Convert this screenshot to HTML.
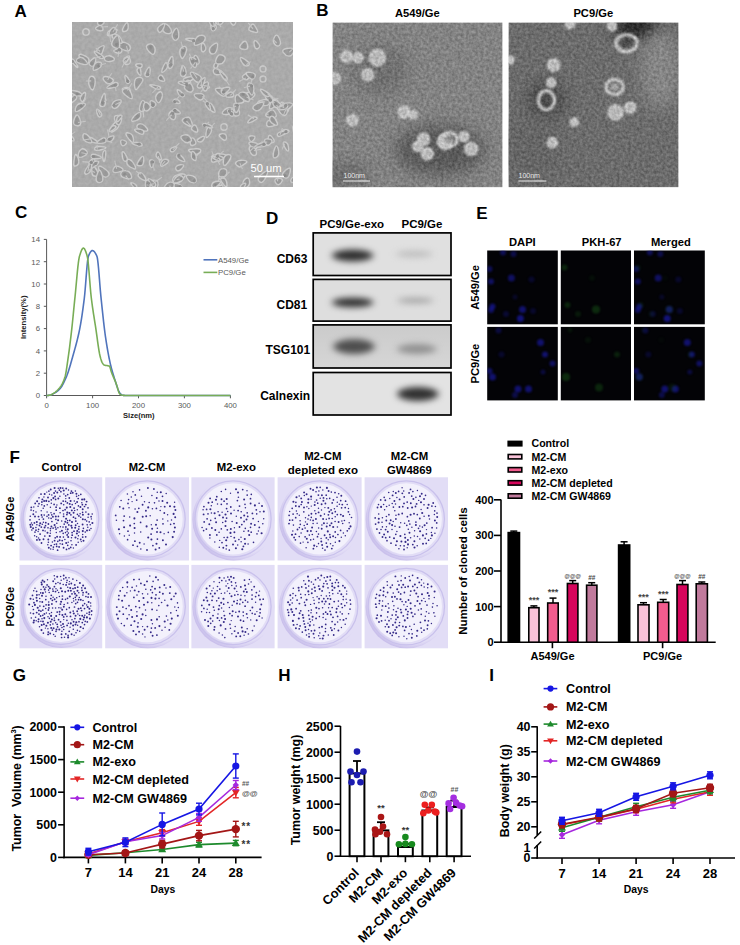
<!DOCTYPE html>
<html><head><meta charset="utf-8"><style>
html,body{margin:0;padding:0;background:#fff;width:740px;height:945px;overflow:hidden}
svg text{font-family:"Liberation Sans",sans-serif}
</style></head><body>
<svg width="740" height="945" viewBox="0 0 740 945" style="display:block">
<rect width="740" height="945" fill="#fff"/>
<text x="14.6" y="16.7" font-size="17" font-weight="bold" text-anchor="start" fill="#000" >A</text>
<text x="316.2" y="16.4" font-size="17" font-weight="bold" text-anchor="start" fill="#000" >B</text>
<text x="15.0" y="218.2" font-size="17" font-weight="bold" text-anchor="start" fill="#000" >C</text>
<text x="266.0" y="224.3" font-size="17" font-weight="bold" text-anchor="start" fill="#000" >D</text>
<text x="476.2" y="218.6" font-size="17" font-weight="bold" text-anchor="start" fill="#000" >E</text>
<text x="9.6" y="463.0" font-size="17" font-weight="bold" text-anchor="start" fill="#000" >F</text>
<text x="12.8" y="681.2" font-size="17" font-weight="bold" text-anchor="start" fill="#000" >G</text>
<text x="278.2" y="680.8" font-size="17" font-weight="bold" text-anchor="start" fill="#000" >H</text>
<text x="489.2" y="680.8" font-size="17" font-weight="bold" text-anchor="start" fill="#000" >I</text>
<defs><filter id="bl2" x="-50%" y="-50%" width="200%" height="200%" color-interpolation-filters="sRGB"><feGaussianBlur stdDeviation="1.2"/></filter><filter id="bl3" x="-50%" y="-50%" width="200%" height="200%" color-interpolation-filters="sRGB"><feGaussianBlur stdDeviation="1.1"/></filter><filter id="bl4" x="-50%" y="-50%" width="200%" height="200%" color-interpolation-filters="sRGB"><feGaussianBlur stdDeviation="4"/></filter><filter id="bl8" x="-50%" y="-50%" width="200%" height="200%" color-interpolation-filters="sRGB"><feGaussianBlur stdDeviation="8"/></filter><filter id="bl1" x="-10%" y="-10%" width="120%" height="120%" color-interpolation-filters="sRGB"><feGaussianBlur stdDeviation="0.9"/></filter><filter id="tex" x="0" y="0" width="100%" height="100%" color-interpolation-filters="sRGB"><feTurbulence type="fractalNoise" baseFrequency="0.35" numOctaves="2" seed="3" result="n"/><feColorMatrix in="n" type="matrix" values="1 0 0 0 0  1 0 0 0 0  1 0 0 0 0  0 0 0 0 1" result="g"/><feComposite in="SourceGraphic" in2="g" operator="arithmetic" k1="0" k2="1" k3="0.26" k4="-0.13"/></filter><filter id="texA" x="0" y="0" width="100%" height="100%" color-interpolation-filters="sRGB"><feGaussianBlur in="SourceGraphic" stdDeviation="0.6" result="b"/><feTurbulence type="fractalNoise" baseFrequency="0.3" numOctaves="2" seed="9" result="n"/><feColorMatrix in="n" type="matrix" values="1 0 0 0 0  1 0 0 0 0  1 0 0 0 0  0 0 0 0 1" result="g"/><feComposite in="b" in2="g" operator="arithmetic" k1="0" k2="1" k3="0.08" k4="-0.04"/></filter></defs>
<svg x="72" y="22" width="221" height="165" viewBox="0 0 221 165">
<g filter="url(#texA)">
<rect width="100%" height="100%" fill="#aaaaaa"/>
<g fill="#9a9a9a" stroke="#cacaca" stroke-width="1.4" stroke-linejoin="round">
<path d="M3.4,86.7 Q4.6,81.9 9.3,81.3 Q14.1,80.7 13.4,82.9 Q12.7,85.0 7.5,88.3 Q2.3,91.6 3.4,86.7Z"/>
<path d="M93.5,1.8 Q97.1,3.0 98.8,7.0 Q100.4,10.9 97.8,11.4 Q95.2,12.0 92.7,10.6 Q90.2,9.2 90.1,4.9 Q89.9,0.7 93.5,1.8Z"/>
<path d="M88.9,141.3 Q90.4,136.2 94.8,137.5 Q99.2,138.8 93.3,142.6 Q87.3,146.4 88.9,141.3Z"/>
<path d="M146.4,66.3 Q152.2,66.5 153.9,66.1 Q155.6,65.8 155.2,69.4 Q154.8,73.0 152.6,74.0 Q150.5,75.1 145.6,70.6 Q140.6,66.0 146.4,66.3Z"/>
<path d="M126.4,71.4 Q133.7,71.4 131.5,75.8 Q129.2,80.2 124.2,75.9 Q119.2,71.5 126.4,71.4Z"/>
<path d="M181.9,117.7 Q179.0,121.5 177.3,117.6 Q175.5,113.6 180.1,113.7 Q184.7,113.8 181.9,117.7Z"/>
<path d="M33.2,73.6 Q33.6,78.5 33.3,81.6 Q33.0,84.7 30.4,84.6 Q27.8,84.5 27.8,82.6 Q27.8,80.8 30.2,74.8 Q32.7,68.7 33.2,73.6Z"/>
<path d="M-1.8,77.5 Q2.1,71.0 4.2,73.9 Q6.3,76.8 0.3,80.4 Q-5.7,84.0 -1.8,77.5Z"/>
<path d="M82.2,63.1 Q89.9,64.6 88.2,66.6 Q86.5,68.5 80.5,65.0 Q74.5,61.5 82.2,63.1Z"/>
<path d="M142.3,2.1 Q146.3,5.2 142.8,7.9 Q139.3,10.5 138.9,4.8 Q138.4,-1.0 142.3,2.1Z"/>
<path d="M18.6,66.4 Q15.9,62.4 16.8,57.8 Q17.7,53.1 21.0,54.5 Q24.2,55.8 22.8,63.2 Q21.4,70.5 18.6,66.4Z"/>
<path d="M200.6,104.1 Q194.1,105.9 194.6,101.4 Q195.2,96.8 201.2,99.6 Q207.1,102.4 200.6,104.1Z"/>
<path d="M104.9,81.3 Q99.5,80.5 101.8,78.1 Q104.0,75.6 107.1,78.9 Q110.2,82.1 104.9,81.3Z"/>
<path d="M185.5,20.2 Q189.5,24.4 186.1,26.3 Q182.7,28.2 182.1,22.1 Q181.5,16.0 185.5,20.2Z"/>
<path d="M212.4,81.6 Q217.2,85.2 216.6,87.9 Q215.9,90.6 213.2,90.7 Q210.6,90.8 209.1,84.4 Q207.6,78.0 212.4,81.6Z"/>
<path d="M55.9,55.8 Q59.3,60.6 56.5,61.3 Q53.8,62.0 53.1,56.5 Q52.4,50.9 55.9,55.8Z"/>
<path d="M181.2,120.3 Q188.1,121.4 185.6,125.1 Q183.1,128.8 178.7,124.0 Q174.3,119.3 181.2,120.3Z"/>
<path d="M120.0,57.9 Q113.9,62.1 111.8,59.0 Q109.7,55.9 117.9,54.8 Q126.1,53.8 120.0,57.9Z"/>
<path d="M152.3,136.0 Q148.4,138.9 145.5,138.0 Q142.7,137.1 143.0,134.5 Q143.3,131.9 145.0,131.6 Q146.7,131.4 151.5,132.3 Q156.3,133.1 152.3,136.0Z"/>
<path d="M167.2,73.0 Q171.4,74.3 171.9,77.4 Q172.4,80.5 169.4,81.0 Q166.5,81.5 164.9,81.4 Q163.4,81.4 163.2,76.6 Q163.1,71.8 167.2,73.0Z"/>
<path d="M213.1,125.8 Q209.4,119.5 212.9,120.0 Q216.4,120.5 216.6,126.4 Q216.8,132.2 213.1,125.8Z"/>
<path d="M117.1,16.2 Q124.0,16.2 124.0,18.5 Q124.0,20.9 117.2,18.6 Q110.3,16.3 117.1,16.2Z"/>
<path d="M52.8,65.6 Q58.0,64.5 58.1,68.4 Q58.3,72.3 52.9,69.5 Q47.6,66.7 52.8,65.6Z"/>
<path d="M126.3,131.3 Q124.0,135.9 121.9,133.7 Q119.8,131.5 124.2,129.1 Q128.5,126.7 126.3,131.3Z"/>
<path d="M125.4,35.0 Q127.7,38.7 127.2,40.8 Q126.7,42.8 123.2,42.2 Q119.8,41.6 121.4,36.4 Q123.0,31.2 125.4,35.0Z"/>
<path d="M11.9,33.3 Q17.4,35.6 17.0,38.8 Q16.6,42.0 14.9,41.6 Q13.2,41.3 10.4,39.1 Q7.6,37.0 7.0,34.0 Q6.5,31.0 11.9,33.3Z"/>
<path d="M139.4,88.9 Q133.7,84.8 136.2,81.9 Q138.7,78.9 141.9,85.9 Q145.2,93.0 139.4,88.9Z"/>
<path d="M23.5,39.4 Q22.2,45.6 18.6,43.7 Q14.9,41.8 19.9,37.5 Q24.8,33.3 23.5,39.4Z"/>
<path d="M172.9,37.3 Q179.8,41.8 176.1,43.5 Q172.4,45.3 169.2,39.1 Q166.1,32.9 172.9,37.3Z"/>
<path d="M132.0,116.9 Q130.1,120.9 126.6,119.6 Q123.0,118.2 128.4,115.5 Q133.8,112.8 132.0,116.9Z"/>
<path d="M2.3,42.8 Q-3.1,37.3 -0.6,37.0 Q1.8,36.7 4.8,42.5 Q7.7,48.3 2.3,42.8Z"/>
<path d="M159.5,87.0 Q165.8,86.0 166.9,88.3 Q168.0,90.6 167.5,92.4 Q167.0,94.3 163.7,94.0 Q160.4,93.7 156.9,90.8 Q153.3,87.9 159.5,87.0Z"/>
<path d="M111.7,155.8 Q107.7,159.9 105.6,161.7 Q103.5,163.5 101.5,160.5 Q99.5,157.5 102.0,154.9 Q104.5,152.2 110.1,152.0 Q115.6,151.7 111.7,155.8Z"/>
<path d="M89.6,59.0 Q84.7,57.5 86.9,54.3 Q89.0,51.1 91.7,55.8 Q94.4,60.4 89.6,59.0Z"/>
<path d="M47.2,20.8 Q52.5,19.4 55.8,21.7 Q59.1,24.1 58.4,26.7 Q57.7,29.3 55.2,29.0 Q52.6,28.7 47.2,25.5 Q41.9,22.2 47.2,20.8Z"/>
<path d="M62.5,63.4 Q62.0,56.9 64.9,55.8 Q67.8,54.6 69.8,56.0 Q71.9,57.5 70.1,60.1 Q68.2,62.8 65.6,66.4 Q62.9,69.9 62.5,63.4Z"/>
<path d="M47.9,82.0 Q44.4,87.1 42.0,86.4 Q39.6,85.8 40.3,82.3 Q41.0,78.9 46.2,77.9 Q51.4,77.0 47.9,82.0Z"/>
<path d="M149.7,111.7 Q154.7,111.0 154.5,115.7 Q154.2,120.5 149.5,116.5 Q144.7,112.5 149.7,111.7Z"/>
<path d="M134.0,111.3 Q134.7,103.8 138.1,105.7 Q141.4,107.6 137.3,113.1 Q133.2,118.7 134.0,111.3Z"/>
<path d="M60.4,96.4 Q63.1,92.3 66.1,90.8 Q69.0,89.2 68.8,93.3 Q68.7,97.4 63.2,98.9 Q57.7,100.4 60.4,96.4Z"/>
<path d="M22.4,144.7 Q25.4,148.1 26.0,151.2 Q26.6,154.2 23.6,154.3 Q20.5,154.4 20.1,151.7 Q19.7,149.0 19.5,145.1 Q19.4,141.2 22.4,144.7Z"/>
<path d="M224.3,159.1 Q218.3,162.3 218.8,158.3 Q219.3,154.3 224.8,155.1 Q230.4,156.0 224.3,159.1Z"/>
<path d="M101.2,38.5 Q101.4,45.1 98.9,46.2 Q96.5,47.3 96.0,43.7 Q95.6,40.1 98.3,36.0 Q101.1,31.9 101.2,38.5Z"/>
<path d="M200.6,115.7 Q204.2,120.6 199.9,120.9 Q195.7,121.1 196.3,115.9 Q196.9,110.8 200.6,115.7Z"/>
<path d="M197.8,83.1 Q199.6,77.1 202.8,77.3 Q206.0,77.4 205.9,80.0 Q205.9,82.7 201.0,85.8 Q196.1,89.0 197.8,83.1Z"/>
<path d="M71.8,138.0 Q71.9,143.8 68.0,143.8 Q64.1,143.9 65.3,141.3 Q66.4,138.7 69.1,135.5 Q71.8,132.3 71.8,138.0Z"/>
<path d="M173.1,141.7 Q169.0,144.5 168.1,144.9 Q167.1,145.3 164.9,143.4 Q162.7,141.5 164.4,139.7 Q166.2,137.9 171.7,138.4 Q177.2,138.8 173.1,141.7Z"/>
<path d="M90.8,45.6 Q93.8,38.3 95.2,42.0 Q96.7,45.6 92.3,49.2 Q87.9,52.8 90.8,45.6Z"/>
<path d="M22.7,140.1 Q21.6,145.4 18.3,143.2 Q15.0,141.0 19.3,137.9 Q23.7,134.8 22.7,140.1Z"/>
<path d="M122.8,117.8 Q125.6,122.3 121.4,123.3 Q117.2,124.4 118.5,118.9 Q119.9,113.4 122.8,117.8Z"/>
<path d="M146.1,43.0 Q144.4,48.4 142.4,45.8 Q140.5,43.3 144.1,40.4 Q147.8,37.5 146.1,43.0Z"/>
<path d="M207.6,86.3 Q201.9,85.9 201.0,82.0 Q200.1,78.2 202.5,78.4 Q204.9,78.5 209.1,82.7 Q213.3,86.8 207.6,86.3Z"/>
<path d="M32.0,25.4 Q31.0,28.6 30.1,30.9 Q29.1,33.3 26.7,32.6 Q24.4,32.0 24.6,29.3 Q24.9,26.6 28.9,24.5 Q32.9,22.3 32.0,25.4Z"/>
<path d="M114.4,67.6 Q112.9,63.7 113.9,60.4 Q114.8,57.1 117.4,58.7 Q119.9,60.2 117.8,65.9 Q115.8,71.5 114.4,67.6Z"/>
<path d="M99.0,96.6 Q95.3,93.8 97.8,90.5 Q100.3,87.2 102.3,89.3 Q104.3,91.4 103.5,95.4 Q102.7,99.4 99.0,96.6Z"/>
<path d="M147.6,52.6 Q141.0,53.4 141.3,48.9 Q141.5,44.4 147.8,48.1 Q154.1,51.9 147.6,52.6Z"/>
<path d="M134.4,66.4 Q128.2,66.6 128.2,62.3 Q128.1,58.1 134.3,62.1 Q140.5,66.1 134.4,66.4Z"/>
<path d="M194.4,77.2 Q202.0,75.4 200.8,78.5 Q199.6,81.6 193.2,80.3 Q186.7,78.9 194.4,77.2Z"/>
<path d="M155.5,69.5 Q150.3,74.4 149.3,70.2 Q148.3,66.0 154.5,65.3 Q160.6,64.6 155.5,69.5Z"/>
<path d="M151.7,155.9 Q148.8,161.3 147.1,156.6 Q145.3,151.9 149.9,151.2 Q154.5,150.5 151.7,155.9Z"/>
<path d="M162.0,86.6 Q160.7,79.7 164.8,81.5 Q169.0,83.3 166.2,88.4 Q163.4,93.5 162.0,86.6Z"/>
<path d="M146.4,162.1 Q146.2,155.5 148.9,157.4 Q151.7,159.2 149.1,163.9 Q146.5,168.7 146.4,162.1Z"/>
<path d="M25.4,4.5 Q29.6,1.8 30.8,5.8 Q32.0,9.8 26.6,8.5 Q21.1,7.2 25.4,4.5Z"/>
<path d="M73.7,165.0 Q72.4,157.2 76.3,158.0 Q80.2,158.8 77.6,165.8 Q74.9,172.7 73.7,165.0Z"/>
<path d="M179.5,124.6 Q183.1,125.0 184.2,129.0 Q185.2,133.1 182.5,133.5 Q179.7,134.0 177.8,129.0 Q175.9,124.1 179.5,124.6Z"/>
<path d="M66.2,41.8 Q70.9,41.2 70.0,44.2 Q69.1,47.1 65.3,44.8 Q61.6,42.4 66.2,41.8Z"/>
<path d="M102.6,157.1 Q106.1,152.1 109.0,153.6 Q111.9,155.1 110.9,157.4 Q109.9,159.7 104.5,161.0 Q99.1,162.2 102.6,157.1Z"/>
<path d="M56.2,3.4 Q56.8,8.9 52.7,9.5 Q48.6,10.0 52.1,4.0 Q55.7,-2.1 56.2,3.4Z"/>
<path d="M155.4,71.7 Q159.4,68.2 161.3,71.7 Q163.1,75.3 157.2,75.3 Q151.3,75.3 155.4,71.7Z"/>
<path d="M18.5,144.3 Q21.9,138.5 25.5,139.1 Q29.1,139.6 22.1,144.9 Q15.1,150.1 18.5,144.3Z"/>
<path d="M147.4,171.5 Q142.0,168.3 144.5,166.5 Q147.1,164.7 150.0,169.7 Q152.9,174.6 147.4,171.5Z"/>
<path d="M170.4,163.0 Q171.1,158.0 174.0,156.4 Q176.9,154.8 177.6,159.1 Q178.3,163.4 174.0,165.7 Q169.7,167.9 170.4,163.0Z"/>
<path d="M136.3,105.4 Q129.0,104.0 131.3,102.1 Q133.6,100.2 138.7,103.5 Q143.7,106.8 136.3,105.4Z"/>
<path d="M122.3,109.5 Q117.5,107.3 120.5,104.2 Q123.5,101.1 125.3,106.4 Q127.1,111.6 122.3,109.5Z"/>
<path d="M197.5,73.1 Q202.6,76.6 198.5,78.2 Q194.4,79.7 193.3,74.7 Q192.3,69.6 197.5,73.1Z"/>
<path d="M81.4,79.4 Q85.7,81.6 82.6,84.3 Q79.5,87.1 78.3,82.1 Q77.1,77.1 81.4,79.4Z"/>
<path d="M214.7,26.5 Q220.5,25.7 221.4,26.8 Q222.3,27.9 221.2,30.8 Q220.1,33.8 217.2,34.1 Q214.3,34.5 211.6,30.9 Q209.0,27.3 214.7,26.5Z"/>
<path d="M31.0,136.9 Q29.8,130.7 32.2,128.7 Q34.7,126.7 33.4,134.9 Q32.2,143.1 31.0,136.9Z"/>
<path d="M110.1,59.2 Q117.8,58.6 117.9,62.2 Q118.0,65.8 110.2,62.8 Q102.4,59.8 110.1,59.2Z"/>
<path d="M5.9,135.6 Q8.2,141.4 5.0,143.3 Q1.9,145.1 1.8,142.4 Q1.6,139.6 2.6,134.7 Q3.6,129.8 5.9,135.6Z"/>
<path d="M181.0,75.2 Q176.3,79.8 173.3,79.2 Q170.3,78.6 171.4,74.3 Q172.6,70.1 179.1,70.3 Q185.7,70.6 181.0,75.2Z"/>
<path d="M106.3,9.2 Q107.6,14.8 105.4,17.3 Q103.2,19.8 101.1,16.6 Q98.9,13.5 102.0,8.6 Q105.0,3.6 106.3,9.2Z"/>
<path d="M81.2,163.9 Q76.9,159.4 81.7,158.3 Q86.4,157.2 86.0,162.8 Q85.5,168.4 81.2,163.9Z"/>
<path d="M30.8,145.5 Q35.6,148.7 36.8,150.8 Q37.9,152.8 35.5,154.5 Q33.0,156.1 30.2,153.6 Q27.4,151.1 26.7,146.7 Q26.0,142.4 30.8,145.5Z"/>
<path d="M112.8,45.6 Q114.9,49.8 113.6,52.6 Q112.3,55.4 110.3,54.5 Q108.2,53.6 108.4,51.6 Q108.6,49.6 109.6,45.5 Q110.6,41.3 112.8,45.6Z"/>
<path d="M146.7,151.1 Q147.4,146.7 151.2,146.6 Q155.1,146.4 154.9,150.4 Q154.8,154.3 150.4,154.9 Q146.1,155.5 146.7,151.1Z"/>
<path d="M86.7,136.9 Q82.7,134.1 84.7,131.1 Q86.6,128.1 88.7,133.9 Q90.8,139.7 86.7,136.9Z"/>
<path d="M171.8,77.9 Q165.4,73.8 167.0,71.6 Q168.6,69.4 172.5,70.4 Q176.3,71.4 177.3,76.7 Q178.2,82.1 171.8,77.9Z"/>
<path d="M151.5,-0.5 Q149.4,3.9 145.7,2.2 Q141.9,0.5 147.8,-2.2 Q153.6,-4.8 151.5,-0.5Z"/>
<path d="M29.8,151.9 Q32.1,158.6 29.4,160.0 Q26.7,161.4 24.9,159.5 Q23.1,157.6 25.4,151.4 Q27.6,145.1 29.8,151.9Z"/>
<path d="M55.9,156.7 Q50.8,155.8 49.4,154.1 Q48.0,152.4 49.2,150.4 Q50.5,148.4 54.0,148.7 Q57.5,148.9 59.3,153.2 Q61.0,157.6 55.9,156.7Z"/>
<path d="M114.0,63.0 Q117.4,60.6 118.7,61.7 Q120.0,62.8 120.9,65.5 Q121.8,68.1 119.8,69.6 Q117.7,71.1 114.2,68.3 Q110.7,65.4 114.0,63.0Z"/>
<path d="M12.5,133.8 Q7.9,136.2 6.8,135.0 Q5.7,133.8 6.6,131.0 Q7.4,128.3 9.5,127.1 Q11.6,126.0 14.4,128.7 Q17.2,131.4 12.5,133.8Z"/>
<path d="M118.3,153.4 Q124.1,154.5 124.3,157.7 Q124.6,160.9 121.1,160.8 Q117.7,160.7 115.1,156.5 Q112.5,152.3 118.3,153.4Z"/>
<path d="M149.6,137.7 Q145.2,139.3 142.2,140.0 Q139.1,140.6 139.4,137.5 Q139.7,134.3 140.8,133.3 Q142.0,132.3 148.0,134.1 Q154.0,136.0 149.6,137.7Z"/>
<path d="M66.7,52.0 Q63.7,48.5 66.0,46.3 Q68.2,44.0 68.9,49.7 Q69.7,55.5 66.7,52.0Z"/>
<path d="M146.7,162.7 Q142.6,166.5 140.8,165.6 Q139.0,164.6 140.0,162.2 Q141.0,159.7 145.9,159.3 Q150.8,158.8 146.7,162.7Z"/>
<path d="M38.6,108.1 Q38.9,104.8 41.5,102.0 Q44.1,99.2 45.8,100.5 Q47.5,101.8 46.8,104.1 Q46.1,106.5 42.2,108.9 Q38.4,111.4 38.6,108.1Z"/>
<path d="M207.3,16.3 Q209.7,22.0 207.4,23.5 Q205.1,25.1 202.7,22.2 Q200.3,19.3 202.5,15.0 Q204.8,10.7 207.3,16.3Z"/>
<path d="M32.3,-3.0 Q32.9,2.1 29.3,2.9 Q25.7,3.7 25.5,1.0 Q25.4,-1.7 28.5,-5.0 Q31.7,-8.2 32.3,-3.0Z"/>
<path d="M209.2,160.6 Q206.0,164.8 203.6,160.6 Q201.2,156.5 206.7,156.4 Q212.3,156.3 209.2,160.6Z"/>
<path d="M45.5,19.9 Q39.9,16.5 40.0,13.6 Q40.0,10.8 44.2,12.3 Q48.4,13.8 49.8,18.6 Q51.1,23.4 45.5,19.9Z"/>
<path d="M150.6,90.0 Q152.1,87.2 155.4,86.0 Q158.7,84.7 160.9,87.1 Q163.0,89.6 161.4,90.9 Q159.8,92.2 154.5,92.5 Q149.1,92.8 150.6,90.0Z"/>
<path d="M172.7,164.4 Q170.1,168.9 168.8,166.1 Q167.4,163.4 171.4,161.7 Q175.3,160.0 172.7,164.4Z"/>
<path d="M19.7,143.9 Q19.4,149.4 16.7,151.2 Q13.9,153.0 12.9,151.5 Q11.9,150.0 16.0,144.2 Q20.1,138.4 19.7,143.9Z"/>
<path d="M78.2,48.4 Q78.2,54.9 74.7,54.7 Q71.1,54.5 74.6,48.2 Q78.1,41.9 78.2,48.4Z"/>
<path d="M73.0,80.5 Q75.5,85.2 73.0,87.7 Q70.5,90.3 68.4,89.1 Q66.4,88.0 68.5,81.8 Q70.6,75.7 73.0,80.5Z"/>
<path d="M38.0,106.8 Q40.6,102.4 43.1,103.8 Q45.7,105.2 40.5,108.3 Q35.3,111.3 38.0,106.8Z"/>
<path d="M37.8,63.0 Q44.5,58.6 46.1,61.6 Q47.6,64.7 39.4,66.0 Q31.1,67.4 37.8,63.0Z"/>
<path d="M72.0,109.1 Q66.7,108.6 65.4,106.4 Q64.1,104.3 65.8,102.7 Q67.6,101.1 70.3,102.1 Q72.9,103.1 75.1,106.4 Q77.3,109.6 72.0,109.1Z"/>
<path d="M151.1,162.0 Q146.6,156.2 150.4,156.0 Q154.2,155.7 154.9,161.7 Q155.6,167.7 151.1,162.0Z"/>
<path d="M105.3,161.6 Q111.5,163.0 108.9,166.7 Q106.4,170.3 102.8,165.3 Q99.1,160.2 105.3,161.6Z"/>
<path d="M218.6,85.3 Q213.8,89.5 210.7,88.8 Q207.6,88.1 209.3,84.4 Q210.9,80.7 217.1,80.9 Q223.4,81.0 218.6,85.3Z"/>
<path d="M210.8,93.0 Q208.2,91.5 206.9,88.7 Q205.7,85.9 208.1,83.9 Q210.5,81.9 213.5,85.0 Q216.4,88.1 214.9,91.3 Q213.4,94.6 210.8,93.0Z"/>
<path d="M177.8,71.0 Q174.8,66.2 175.5,63.0 Q176.2,59.8 179.4,61.5 Q182.5,63.2 181.6,69.5 Q180.8,75.8 177.8,71.0Z"/>
<path d="M55.4,74.7 Q49.2,70.2 50.7,68.1 Q52.2,66.1 55.2,66.6 Q58.2,67.2 59.9,73.2 Q61.6,79.3 55.4,74.7Z"/>
<path d="M138.3,2.0 Q135.5,-2.7 139.4,-3.9 Q143.4,-5.0 143.9,-3.2 Q144.3,-1.3 142.7,2.7 Q141.1,6.6 138.3,2.0Z"/>
<path d="M208.5,110.5 Q211.5,106.3 215.6,108.0 Q219.6,109.7 212.6,112.2 Q205.5,114.6 208.5,110.5Z"/>
<path d="M177.3,54.3 Q175.7,59.5 171.9,57.0 Q168.1,54.6 173.5,51.9 Q178.9,49.2 177.3,54.3Z"/>
<path d="M206.3,127.1 Q208.1,134.1 203.8,135.6 Q199.5,137.1 202.0,128.6 Q204.4,120.1 206.3,127.1Z"/>
<path d="M200.7,95.5 Q195.8,95.5 194.3,94.2 Q192.7,93.0 195.7,90.3 Q198.7,87.7 200.4,87.9 Q202.2,88.0 203.9,91.8 Q205.6,95.6 200.7,95.5Z"/>
<path d="M13.1,74.8 Q11.4,81.7 9.1,78.6 Q6.7,75.4 10.8,71.7 Q14.8,68.0 13.1,74.8Z"/>
<path d="M103.8,127.2 Q100.8,131.3 98.7,129.2 Q96.6,127.0 101.7,125.1 Q106.8,123.1 103.8,127.2Z"/>
<path d="M47.1,16.7 Q48.1,22.4 47.5,24.9 Q47.0,27.3 43.5,26.0 Q40.0,24.6 39.7,22.4 Q39.3,20.3 42.7,15.6 Q46.1,11.0 47.1,16.7Z"/>
<path d="M-2.2,117.8 Q-8.2,115.1 -4.8,113.4 Q-1.4,111.7 1.3,116.1 Q3.9,120.6 -2.2,117.8Z"/>
<path d="M52.2,118.3 Q56.6,119.9 53.2,122.7 Q49.8,125.5 48.8,121.1 Q47.8,116.7 52.2,118.3Z"/>
<path d="M185.9,122.3 Q192.3,119.1 194.2,121.8 Q196.1,124.4 187.9,125.0 Q179.6,125.6 185.9,122.3Z"/>
<path d="M159.3,1.5 Q156.9,-1.9 158.2,-4.5 Q159.4,-7.1 161.0,-7.0 Q162.6,-6.9 163.7,-4.2 Q164.7,-1.5 163.2,1.7 Q161.6,4.9 159.3,1.5Z"/>
<path d="M142.0,134.5 Q147.5,135.4 148.1,138.0 Q148.7,140.7 142.6,137.1 Q136.6,133.6 142.0,134.5Z"/>
<path d="M63.1,120.5 Q69.5,119.9 70.1,122.5 Q70.8,125.2 63.7,123.1 Q56.7,121.0 63.1,120.5Z"/>
<path d="M187.2,79.3 Q191.4,77.0 195.0,77.9 Q198.5,78.7 197.1,81.7 Q195.6,84.6 189.3,83.1 Q182.9,81.5 187.2,79.3Z"/>
<path d="M132.6,22.7 Q135.3,27.4 132.1,29.3 Q128.9,31.2 129.3,24.7 Q129.8,18.1 132.6,22.7Z"/>
<path d="M41.4,116.6 Q39.3,120.7 36.7,118.4 Q34.1,116.2 38.7,114.4 Q43.4,112.6 41.4,116.6Z"/>
<path d="M76.5,81.8 Q80.0,84.9 77.0,87.6 Q74.1,90.3 72.4,87.9 Q70.8,85.5 71.9,82.1 Q73.0,78.7 76.5,81.8Z"/>
<path d="M42.1,11.1 Q35.6,15.7 35.3,12.1 Q35.0,8.5 41.8,7.5 Q48.5,6.6 42.1,11.1Z"/>
<path d="M218.1,150.5 Q216.6,158.0 212.2,155.5 Q207.8,153.1 213.7,148.1 Q219.6,143.1 218.1,150.5Z"/>
<path d="M136.4,61.9 Q136.4,65.2 134.8,67.9 Q133.1,70.6 131.0,66.9 Q128.8,63.2 132.7,60.8 Q136.5,58.5 136.4,61.9Z"/>
<path d="M84.5,78.7 Q82.4,74.4 85.5,71.4 Q88.6,68.4 90.0,71.0 Q91.3,73.6 88.9,78.3 Q86.5,83.0 84.5,78.7Z"/>
<path d="M149.9,166.7 Q146.6,171.3 143.0,168.4 Q139.3,165.5 146.3,163.7 Q153.2,162.0 149.9,166.7Z"/>
<path d="M39.2,39.3 Q34.1,40.4 32.7,37.9 Q31.4,35.4 34.9,34.2 Q38.5,33.0 41.4,35.6 Q44.3,38.2 39.2,39.3Z"/>
<path d="M26.8,31.1 Q33.7,35.3 30.6,36.4 Q27.5,37.5 23.7,32.2 Q19.9,26.9 26.8,31.1Z"/>
<path d="M158.5,88.9 Q163.3,91.8 161.2,93.8 Q159.1,95.7 156.4,90.9 Q153.8,86.1 158.5,88.9Z"/>
<path d="M70.0,157.3 Q64.2,154.1 66.9,151.5 Q69.7,148.9 72.8,154.7 Q75.8,160.5 70.0,157.3Z"/>
<path d="M61.2,161.1 Q65.5,163.0 65.0,166.1 Q64.4,169.2 60.7,164.2 Q56.9,159.2 61.2,161.1Z"/>
<path d="M178.3,50.4 Q185.2,51.4 182.6,55.4 Q180.1,59.3 175.8,54.3 Q171.5,49.4 178.3,50.4Z"/>
<path d="M43.4,99.6 Q40.3,93.1 45.9,93.5 Q51.5,93.8 49.0,99.9 Q46.6,106.0 43.4,99.6Z"/>
<path d="M36.8,11.2 Q37.9,7.9 40.1,6.2 Q42.3,4.5 43.5,6.7 Q44.8,8.9 44.5,10.1 Q44.2,11.4 39.9,13.0 Q35.7,14.5 36.8,11.2Z"/>
<path d="M135.9,86.3 Q131.8,81.5 133.9,80.0 Q136.0,78.5 138.0,84.8 Q139.9,91.2 135.9,86.3Z"/>
<path d="M176.9,98.4 Q180.5,93.9 184.0,95.2 Q187.4,96.4 180.4,99.6 Q173.3,102.8 176.9,98.4Z"/>
<path d="M109.9,146.4 Q105.7,150.9 104.0,147.4 Q102.4,143.8 108.2,142.8 Q114.1,141.8 109.9,146.4Z"/>
<path d="M44.6,27.1 Q50.3,25.2 50.0,28.7 Q49.6,32.3 44.2,30.6 Q38.9,29.0 44.6,27.1Z"/>
<path d="M53.3,132.2 Q57.0,138.0 53.9,139.1 Q50.8,140.2 50.2,133.3 Q49.6,126.4 53.3,132.2Z"/>
<path d="M22.6,120.8 Q16.3,119.4 16.8,116.6 Q17.2,113.7 23.1,117.9 Q28.9,122.1 22.6,120.8Z"/>
<path d="M111.4,113.1 Q115.9,111.8 117.9,114.8 Q120.0,117.8 119.3,118.7 Q118.6,119.6 116.2,120.5 Q113.8,121.4 110.3,117.9 Q106.9,114.4 111.4,113.1Z"/>
<path d="M198.9,121.4 Q195.6,125.3 193.2,120.9 Q190.8,116.4 196.5,117.0 Q202.1,117.5 198.9,121.4Z"/>
<path d="M59.1,119.5 Q56.3,116.8 54.9,114.5 Q53.5,112.1 54.1,111.2 Q54.8,110.2 58.0,111.3 Q61.1,112.4 61.5,117.3 Q61.9,122.2 59.1,119.5Z"/>
<path d="M105.1,92.0 Q99.4,92.0 100.8,88.5 Q102.3,85.0 106.6,88.6 Q110.9,92.1 105.1,92.0Z"/>
<path d="M168.8,22.5 Q171.4,19.1 173.1,19.3 Q174.7,19.5 175.5,22.9 Q176.3,26.4 174.6,27.2 Q172.9,27.9 169.6,27.0 Q166.2,26.0 168.8,22.5Z"/>
<path d="M193.4,69.1 Q200.6,73.5 196.7,74.3 Q192.8,75.2 189.5,70.0 Q186.2,64.8 193.4,69.1Z"/>
<path d="M109.3,69.9 Q114.4,74.5 110.8,74.7 Q107.1,74.9 105.6,70.1 Q104.1,65.4 109.3,69.9Z"/>
<path d="M207.3,-5.0 Q206.6,0.2 203.9,-0.4 Q201.2,-1.0 204.6,-5.6 Q208.0,-10.3 207.3,-5.0Z"/>
<path d="M190.3,84.9 Q187.0,90.2 183.2,88.4 Q179.5,86.6 181.9,83.9 Q184.3,81.1 189.0,80.4 Q193.6,79.6 190.3,84.9Z"/>
<path d="M109.2,35.6 Q107.7,32.9 107.8,29.7 Q107.9,26.5 110.3,25.1 Q112.6,23.6 114.0,25.3 Q115.5,27.1 113.1,32.6 Q110.7,38.2 109.2,35.6Z"/>
<path d="M221.0,108.5 Q219.9,103.0 223.6,103.2 Q227.4,103.4 224.7,108.7 Q222.0,113.9 221.0,108.5Z"/>
<path d="M182.4,10.2 Q178.0,8.8 177.1,7.9 Q176.2,7.0 178.4,4.0 Q180.6,1.1 182.0,2.7 Q183.4,4.2 185.1,7.8 Q186.8,11.5 182.4,10.2Z"/>
<path d="M109.4,138.8 Q103.4,136.3 104.8,133.1 Q106.1,129.8 110.8,135.5 Q115.4,141.2 109.4,138.8Z"/>
<path d="M40.2,60.5 Q37.1,63.3 33.6,60.2 Q30.1,57.0 31.5,55.3 Q33.0,53.5 38.1,55.6 Q43.3,57.8 40.2,60.5Z"/>
<path d="M91.6,6.1 Q88.4,12.7 86.2,9.2 Q84.1,5.7 89.5,2.6 Q94.8,-0.5 91.6,6.1Z"/>
<path d="M27.6,117.9 Q33.0,114.2 34.1,117.7 Q35.2,121.2 28.6,121.4 Q22.1,121.5 27.6,117.9Z"/>
<path d="M61.6,146.7 Q58.2,145.5 56.2,143.6 Q54.3,141.7 54.8,139.2 Q55.3,136.6 57.8,137.6 Q60.3,138.5 62.7,143.2 Q65.0,147.9 61.6,146.7Z"/>
<path d="M79.8,158.0 Q85.3,161.7 83.2,164.2 Q81.1,166.7 77.7,160.5 Q74.3,154.2 79.8,158.0Z"/>
<path d="M208.8,84.3 Q215.8,80.8 215.6,84.2 Q215.4,87.7 208.6,87.7 Q201.7,87.8 208.8,84.3Z"/>
<path d="M49.6,149.2 Q46.1,150.7 43.4,150.6 Q40.8,150.5 40.9,148.5 Q41.0,146.6 42.6,144.9 Q44.1,143.2 48.6,145.4 Q53.0,147.6 49.6,149.2Z"/>
<path d="M66.0,107.0 Q72.4,107.3 71.9,110.7 Q71.4,114.2 65.5,110.5 Q59.5,106.8 66.0,107.0Z"/>
<path d="M21.4,45.0 Q22.9,40.0 26.4,40.0 Q29.9,39.9 29.5,42.7 Q29.2,45.5 24.5,47.7 Q19.9,50.0 21.4,45.0Z"/>
<path d="M145.5,25.0 Q144.5,31.2 141.5,31.9 Q138.5,32.5 137.5,29.3 Q136.5,26.0 141.5,22.4 Q146.6,18.8 145.5,25.0Z"/>
<path d="M150.7,50.9 Q156.1,55.2 155.0,58.0 Q154.0,60.8 149.6,53.7 Q145.2,46.7 150.7,50.9Z"/>
<path d="M12.6,42.6 Q7.4,42.0 5.4,40.3 Q3.3,38.6 6.4,36.1 Q9.4,33.6 13.6,38.4 Q17.8,43.2 12.6,42.6Z"/>
<path d="M30.0,127.5 Q22.3,129.6 22.6,126.7 Q22.9,123.9 30.3,124.7 Q37.6,125.5 30.0,127.5Z"/>
<path d="M151.3,140.5 Q151.2,134.6 154.2,133.1 Q157.2,131.6 158.6,133.4 Q160.1,135.1 155.8,140.7 Q151.5,146.4 151.3,140.5Z"/>
<path d="M121.2,44.4 Q118.0,41.5 117.5,38.0 Q116.9,34.5 121.0,35.6 Q125.2,36.7 124.8,42.0 Q124.4,47.3 121.2,44.4Z"/>
<path d="M144.0,37.4 Q145.6,33.4 147.3,32.9 Q149.0,32.4 151.7,33.9 Q154.3,35.4 152.4,38.9 Q150.4,42.5 146.4,42.0 Q142.4,41.5 144.0,37.4Z"/>
<path d="M27.4,88.7 Q31.4,92.5 28.9,94.5 Q26.5,96.5 24.9,90.7 Q23.4,85.0 27.4,88.7Z"/>
<path d="M77.9,30.6 Q74.3,26.8 74.4,24.7 Q74.6,22.6 77.5,22.0 Q80.4,21.4 82.1,24.2 Q83.9,26.9 82.7,30.6 Q81.5,34.3 77.9,30.6Z"/>
<path d="M56.4,37.1 Q53.4,42.3 51.7,40.2 Q49.9,38.0 54.7,34.9 Q59.4,31.9 56.4,37.1Z"/>
<path d="M195.0,152.6 Q192.6,158.9 190.3,160.1 Q188.0,161.2 186.4,158.4 Q184.9,155.7 191.2,151.0 Q197.5,146.2 195.0,152.6Z"/>
<path d="M77.9,142.8 Q76.4,137.3 79.9,137.9 Q83.3,138.5 81.4,143.3 Q79.4,148.2 77.9,142.8Z"/>
<path d="M16.5,120.6 Q11.3,119.1 10.9,115.2 Q10.6,111.3 13.1,111.7 Q15.7,112.1 18.7,117.0 Q21.7,122.0 16.5,120.6Z"/>
<path d="M91.7,166.1 Q94.7,160.4 98.2,160.1 Q101.8,159.9 102.2,162.2 Q102.5,164.6 100.1,166.9 Q97.8,169.1 93.3,170.4 Q88.8,171.8 91.7,166.1Z"/>
<path d="M2.2,68.7 Q8.0,69.5 9.4,71.9 Q10.7,74.2 6.4,73.9 Q2.2,73.6 -0.8,70.8 Q-3.7,68.0 2.2,68.7Z"/>
<path d="M123.4,51.3 Q129.5,54.1 129.4,56.0 Q129.2,58.0 127.3,59.7 Q125.4,61.3 122.6,58.6 Q119.8,55.8 118.5,52.2 Q117.3,48.5 123.4,51.3Z"/>
<path d="M44.7,97.9 Q45.0,93.7 48.4,93.2 Q51.8,92.7 48.1,97.4 Q44.5,102.1 44.7,97.9Z"/>
<path d="M116.3,103.5 Q111.0,100.9 110.4,99.1 Q109.8,97.3 112.5,96.1 Q115.1,94.9 116.7,95.3 Q118.4,95.8 120.0,101.0 Q121.6,106.1 116.3,103.5Z"/>
<path d="M118.4,127.3 Q122.3,126.6 125.7,126.8 Q129.1,127.0 128.8,128.8 Q128.5,130.6 125.9,131.8 Q123.3,133.0 118.9,130.5 Q114.5,128.0 118.4,127.3Z"/>
<path d="M7.8,96.8 Q10.2,103.2 6.5,103.7 Q2.8,104.1 1.8,101.8 Q0.9,99.5 3.2,95.0 Q5.5,90.4 7.8,96.8Z"/>
<path d="M121.9,130.1 Q124.2,132.2 124.3,135.9 Q124.5,139.5 121.8,138.1 Q119.1,136.7 119.3,132.3 Q119.5,127.9 121.9,130.1Z"/>
<path d="M212.5,111.9 Q206.2,116.2 205.4,113.3 Q204.6,110.4 211.7,109.0 Q218.8,107.7 212.5,111.9Z"/>
<path d="M122.7,19.1 Q124.8,13.2 129.3,13.2 Q133.9,13.3 133.2,16.8 Q132.4,20.4 126.5,22.7 Q120.7,25.0 122.7,19.1Z"/>
<path d="M25.8,136.7 Q18.8,137.4 19.1,134.1 Q19.5,130.8 26.1,133.4 Q32.7,135.9 25.8,136.7Z"/>
<path d="M201.8,102.3 Q197.1,99.8 197.7,96.4 Q198.3,93.0 201.1,94.7 Q203.8,96.5 205.2,100.7 Q206.5,104.8 201.8,102.3Z"/>
<path d="M132.4,59.6 Q129.9,67.1 126.5,65.8 Q123.1,64.6 129.0,58.3 Q134.9,52.1 132.4,59.6Z"/>
</g>
<g fill="none" stroke="#c4c4c4" stroke-width="1.1">
<path d="M9.3,83.8 l4.5,-7.4"/>
<path d="M93.2,139.0 l-3.4,4.1"/>
<path d="M130.1,74.4 l6.9,6.4"/>
<path d="M30.8,80.6 l4.2,-2.9"/>
<path d="M85.9,65.0 l-5.5,5.9"/>
<path d="M19.2,58.9 l-5.3,0.1"/>
<path d="M102.7,79.7 l5.2,-6.3"/>
<path d="M213.8,87.4 l-2.8,6.8"/>
<path d="M183.4,124.0 l-5.9,5.7"/>
<path d="M145.5,134.3 l6.0,-5.1"/>
<path d="M212.8,121.4 l-2.8,6.1"/>
<path d="M55.4,68.5 l4.6,-7.4"/>
<path d="M124.3,39.0 l-5.7,7.7"/>
<path d="M138.9,84.6 l-8.1,-5.9"/>
<path d="M174.4,42.8 l4.2,-3.2"/>
<path d="M0.2,39.3 l-4.8,1.7"/>
<path d="M104.7,157.7 l5.9,-1.7"/>
<path d="M54.5,24.2 l2.0,7.5"/>
<path d="M42.0,83.3 l7.5,-3.6"/>
<path d="M137.3,107.2 l5.4,-6.3"/>
<path d="M23.1,150.6 l-6.6,-3.0"/>
<path d="M98.9,42.5 l-4.6,-2.2"/>
<path d="M201.6,80.1 l6.8,7.3"/>
<path d="M167.9,141.2 l2.6,5.9"/>
<path d="M19.3,140.4 l-8.7,-0.8"/>
<path d="M143.6,45.5 l7.2,5.3"/>
<path d="M28.0,29.3 l-4.2,-3.2"/>
<path d="M100.7,91.4 l-6.5,7.2"/>
<path d="M129.5,63.1 l-0.5,-5.8"/>
<path d="M150.5,68.7 l-3.5,-4.1"/>
<path d="M165.3,83.3 l-5.8,3.3"/>
<path d="M28.5,5.0 l7.6,-0.4"/>
<path d="M181.9,128.6 l7.3,-1.3"/>
<path d="M109.0,156.6 l0.1,-5.1"/>
<path d="M158.5,73.3 l5.5,-5.8"/>
<path d="M145.6,167.4 l-6.6,6.4"/>
<path d="M132.5,103.3 l4.7,-3.4"/>
<path d="M198.2,75.7 l8.2,0.9"/>
<path d="M217.4,30.1 l4.0,-3.8"/>
<path d="M114.6,62.4 l-4.8,-2.2"/>
<path d="M174.6,75.3 l7.1,2.6"/>
<path d="M82.5,160.5 l7.5,-5.4"/>
<path d="M111.9,51.2 l-1.9,-8.3"/>
<path d="M86.3,134.0 l1.6,7.1"/>
<path d="M145.6,-0.1 l3.4,5.0"/>
<path d="M52.9,152.3 l4.1,5.9"/>
<path d="M9.4,130.7 l5.6,1.1"/>
<path d="M142.9,136.7 l-3.1,-7.4"/>
<path d="M143.0,163.0 l0.6,6.1"/>
<path d="M204.6,21.0 l-3.6,-3.8"/>
<path d="M205.4,159.4 l1.3,-8.9"/>
<path d="M157.4,89.1 l4.8,-3.3"/>
<path d="M15.7,149.7 l1.6,-7.5"/>
<path d="M70.8,86.3 l1.0,9.1"/>
<path d="M43.3,63.2 l0.7,5.8"/>
<path d="M150.6,156.9 l6.9,-7.1"/>
<path d="M211.4,85.8 l-1.0,-5.5"/>
<path d="M179.5,63.8 l-7.7,1.9"/>
<path d="M141.0,-1.4 l2.0,9.0"/>
<path d="M173.8,55.9 l-6.7,3.5"/>
<path d="M198.1,92.0 l-5.0,0.4"/>
<path d="M100.9,127.9 l6.4,-6.8"/>
<path d="M-2.9,114.3 l6.2,-4.7"/>
<path d="M191.9,122.2 l-5.7,3.4"/>
<path d="M145.0,137.4 l2.9,5.4"/>
<path d="M193.2,80.1 l-6.8,-1.9"/>
<path d="M37.4,117.3 l-1.8,-9.8"/>
<path d="M37.4,10.5 l1.3,9.3"/>
<path d="M133.0,64.7 l-4.5,5.6"/>
<path d="M144.1,166.5 l-3.0,7.6"/>
<path d="M28.7,34.3 l-5.4,1.9"/>
<path d="M68.8,152.2 l-4.8,-3.0"/>
<path d="M180.8,55.0 l-2.0,6.8"/>
<path d="M41.0,9.7 l4.7,-7.5"/>
<path d="M181.9,96.8 l-6.2,-4.0"/>
<path d="M47.2,27.6 l-1.3,7.5"/>
<path d="M18.1,116.9 l-7.4,1.3"/>
<path d="M195.1,120.1 l-6.2,-0.0"/>
<path d="M102.8,88.4 l-4.1,5.6"/>
<path d="M195.5,72.1 l5.0,2.3"/>
<path d="M204.5,-2.2 l-0.7,-6.6"/>
<path d="M111.6,28.5 l-2.6,-8.8"/>
<path d="M180.7,6.7 l-4.5,-5.8"/>
<path d="M35.7,58.0 l3.9,-6.7"/>
<path d="M31.7,118.1 l8.6,2.3"/>
<path d="M82.3,161.8 l-7.5,1.1"/>
<path d="M44.7,146.9 l-2.0,-8.2"/>
<path d="M26.3,43.8 l7.7,-2.4"/>
<path d="M152.7,56.4 l4.6,6.9"/>
<path d="M25.2,127.8 l-0.1,-5.0"/>
<path d="M120.6,39.2 l-3.2,-7.5"/>
<path d="M28.5,93.4 l-3.1,-6.3"/>
<path d="M53.6,38.6 l-3.6,7.0"/>
<path d="M80.6,139.8 l1.7,8.8"/>
<path d="M97.5,163.8 l4.3,6.5"/>
<path d="M125.0,56.2 l-3.7,-5.2"/>
<path d="M113.5,97.8 l6.3,7.2"/>
<path d="M6.0,100.5 l8.0,-1.2"/>
<path d="M207.9,112.8 l2.5,-6.8"/>
<path d="M21.3,134.5 l-1.2,7.5"/>
<path d="M128.1,63.1 l7.7,1.0"/>
</g>
<g fill="#8e8e8e">
<circle cx="9.3" cy="83.8" r="1.6"/>
<circle cx="151.8" cy="70.0" r="1.6"/>
<circle cx="30.8" cy="80.6" r="1.6"/>
<circle cx="141.3" cy="6.8" r="1.6"/>
<circle cx="102.7" cy="79.7" r="1.6"/>
<circle cx="55.8" cy="59.4" r="1.6"/>
<circle cx="145.5" cy="134.3" r="1.6"/>
<circle cx="121.6" cy="18.7" r="1.6"/>
<circle cx="124.3" cy="39.0" r="1.6"/>
<circle cx="20.0" cy="41.9" r="1.6"/>
<circle cx="0.2" cy="39.3" r="1.6"/>
<circle cx="88.7" cy="56.1" r="1.6"/>
<circle cx="42.0" cy="83.3" r="1.6"/>
<circle cx="65.7" cy="94.2" r="1.6"/>
<circle cx="98.9" cy="42.5" r="1.6"/>
<circle cx="68.4" cy="141.4" r="1.6"/>
<circle cx="19.3" cy="140.4" r="1.6"/>
<circle cx="203.5" cy="82.0" r="1.6"/>
<circle cx="100.7" cy="91.4" r="1.6"/>
<circle cx="198.4" cy="78.2" r="1.6"/>
<circle cx="165.3" cy="83.3" r="1.6"/>
<circle cx="76.5" cy="161.3" r="1.6"/>
<circle cx="109.0" cy="156.6" r="1.6"/>
<circle cx="23.7" cy="141.5" r="1.6"/>
<circle cx="132.5" cy="103.3" r="1.6"/>
<circle cx="80.9" cy="83.3" r="1.6"/>
<circle cx="114.6" cy="62.4" r="1.6"/>
<circle cx="104.4" cy="14.5" r="1.6"/>
<circle cx="111.9" cy="51.2" r="1.6"/>
<circle cx="171.1" cy="72.5" r="1.6"/>
<circle cx="52.9" cy="152.3" r="1.6"/>
<circle cx="122.2" cy="158.8" r="1.6"/>
<circle cx="143.0" cy="163.0" r="1.6"/>
<circle cx="28.5" cy="1.0" r="1.6"/>
<circle cx="157.4" cy="89.1" r="1.6"/>
<circle cx="75.8" cy="52.5" r="1.6"/>
<circle cx="43.3" cy="63.2" r="1.6"/>
<circle cx="108.2" cy="164.6" r="1.6"/>
<circle cx="179.5" cy="63.8" r="1.6"/>
<circle cx="214.0" cy="109.5" r="1.6"/>
<circle cx="198.1" cy="92.0" r="1.6"/>
<circle cx="44.6" cy="22.3" r="1.6"/>
<circle cx="191.9" cy="122.2" r="1.6"/>
<circle cx="67.2" cy="122.2" r="1.6"/>
<circle cx="37.4" cy="117.3" r="1.6"/>
<circle cx="212.9" cy="153.4" r="1.6"/>
<circle cx="144.1" cy="166.5" r="1.6"/>
<circle cx="159.4" cy="91.7" r="1.6"/>
<circle cx="180.8" cy="55.0" r="1.6"/>
<circle cx="135.4" cy="81.7" r="1.6"/>
<circle cx="47.2" cy="27.6" r="1.6"/>
<circle cx="115.7" cy="117.6" r="1.6"/>
<circle cx="102.8" cy="88.4" r="1.6"/>
<circle cx="110.4" cy="72.8" r="1.6"/>
<circle cx="111.6" cy="28.5" r="1.6"/>
<circle cx="106.9" cy="133.1" r="1.6"/>
<circle cx="31.7" cy="118.1" r="1.6"/>
<circle cx="213.8" cy="83.3" r="1.6"/>
<circle cx="26.3" cy="43.8" r="1.6"/>
<circle cx="6.8" cy="38.3" r="1.6"/>
<circle cx="120.6" cy="39.2" r="1.6"/>
<circle cx="79.1" cy="25.1" r="1.6"/>
<circle cx="80.6" cy="139.8" r="1.6"/>
<circle cx="5.1" cy="72.0" r="1.6"/>
<circle cx="113.5" cy="97.8" r="1.6"/>
<circle cx="121.7" cy="134.9" r="1.6"/>
<circle cx="21.3" cy="134.5" r="1.6"/>
</g>
<g fill="none" stroke="#c8c8c8" stroke-width="1.4">
<circle cx="14" cy="10" r="3.2"/>
<circle cx="55" cy="39" r="3.5"/>
<circle cx="191" cy="47" r="3"/>
<circle cx="191" cy="57" r="3"/>
<circle cx="152" cy="105" r="3.2"/>
</g></g>
</svg>
<text x="250.5" y="172.0" font-size="11.2" font-weight="normal" text-anchor="start" fill="#fff" >50 um</text>
<line x1="254.0" y1="176.5" x2="284.0" y2="176.5" stroke="#fff" stroke-width="1.6" />
<text x="395.0" y="16.5" font-size="11.2" font-weight="bold" text-anchor="start" fill="#000" >A549/Ge</text>
<text x="573.4" y="16.5" font-size="11.2" font-weight="bold" text-anchor="start" fill="#000" >PC9/Ge</text>
<svg x="332.5" y="22.5" width="170.0" height="164.8">
<g filter="url(#tex)">
<rect width="100%" height="100%" fill="#838383"/>
<ellipse cx="107.5" cy="127.5" rx="45" ry="25" fill="#5a5a5a" filter="url(#bl8)"/>
<ellipse cx="47.5" cy="47.5" rx="28" ry="24" fill="#707070" filter="url(#bl8)"/>
<ellipse cx="12.5" cy="152.5" rx="25" ry="12" fill="#6a6a6a" filter="url(#bl8)"/>
<g filter="url(#bl3)">
<circle cx="14.0" cy="34.0" r="5" fill="#b6b6b6" stroke="#cacaca" stroke-width="2.4"/>
<circle cx="25.5" cy="35.2" r="4.5" fill="#b6b6b6" stroke="#cacaca" stroke-width="2.4"/>
<circle cx="44.9" cy="35.2" r="7.5" fill="#b6b6b6" stroke="#cacaca" stroke-width="2.4"/>
<circle cx="35.2" cy="52.2" r="5.5" fill="#b6b6b6" stroke="#cacaca" stroke-width="2.4"/>
<circle cx="2.4" cy="55.9" r="5" fill="#b6b6b6" stroke="#cacaca" stroke-width="2.4"/>
<circle cx="71.7" cy="89.5" r="5.5" fill="#b6b6b6" stroke="#cacaca" stroke-width="2.4"/>
<circle cx="80.9" cy="92.4" r="3.5" fill="#b6b6b6" stroke="#cacaca" stroke-width="2.4"/>
<circle cx="19.9" cy="97.7" r="5" fill="#b6b6b6" stroke="#cacaca" stroke-width="2.4"/>
<circle cx="91.1" cy="116.7" r="5.5" fill="#b6b6b6" stroke="#cacaca" stroke-width="2.4"/>
<circle cx="131.3" cy="114.3" r="4.5" fill="#b6b6b6" stroke="#cacaca" stroke-width="2.4"/>
<circle cx="138.6" cy="126.4" r="6" fill="#b6b6b6" stroke="#cacaca" stroke-width="2.4"/>
<circle cx="94.8" cy="131.3" r="5.5" fill="#b6b6b6" stroke="#cacaca" stroke-width="2.4"/>
<circle cx="85.1" cy="124.0" r="4.5" fill="#b6b6b6" stroke="#cacaca" stroke-width="2.4"/>
<circle cx="112.5" cy="119.5" r="7" fill="#b6b6b6" stroke="#cacaca" stroke-width="2.4"/>
</g><g filter="url(#bl2)">
<ellipse cx="116.7" cy="117.0" rx="8" ry="7" fill="none" stroke="#c8c8c8" stroke-width="3.4"/>
<ellipse cx="116.7" cy="117.0" rx="4.0" ry="3.1" fill="#8a8a8a"/>
</g></g>
</svg>
<svg x="508.5" y="22.5" width="170.0" height="164.8">
<g filter="url(#tex)">
<rect width="100%" height="100%" fill="#6c6c6c"/>
<ellipse cx="127.5" cy="3.5" rx="22" ry="12" fill="#1e1e1e" filter="url(#bl8)"/>
<ellipse cx="37.5" cy="77.5" rx="18" ry="18" fill="#484848" filter="url(#bl8)"/>
<ellipse cx="21.5" cy="127.5" rx="30" ry="30" fill="#666" filter="url(#bl8)"/>
<ellipse cx="151.5" cy="47.5" rx="20" ry="40" fill="#868686" filter="url(#bl8)"/>
<g filter="url(#bl3)">
<circle cx="45.1" cy="42.5" r="5.5" fill="#b6b6b6" stroke="#cacaca" stroke-width="2.4"/>
<circle cx="42.7" cy="60.3" r="4" fill="#b6b6b6" stroke="#cacaca" stroke-width="2.4"/>
<circle cx="107.2" cy="89.9" r="7" fill="#b6b6b6" stroke="#cacaca" stroke-width="2.4"/>
<circle cx="121.8" cy="85.1" r="5" fill="#b6b6b6" stroke="#cacaca" stroke-width="2.4"/>
<circle cx="43.9" cy="120.3" r="4.5" fill="#b6b6b6" stroke="#cacaca" stroke-width="2.4"/>
<circle cx="65.8" cy="99.7" r="3.5" fill="#b6b6b6" stroke="#cacaca" stroke-width="2.4"/>
<circle cx="1.5" cy="37.5" r="3.5" fill="#b6b6b6" stroke="#cacaca" stroke-width="2.4"/>
<circle cx="61.5" cy="1.5" r="4" fill="#b6b6b6" stroke="#cacaca" stroke-width="2.4"/>
<circle cx="103.5" cy="3.5" r="4" fill="#b6b6b6" stroke="#cacaca" stroke-width="2.4"/>
</g><g filter="url(#bl2)">
<ellipse cx="118.1" cy="20.6" rx="10.5" ry="8.5" fill="none" stroke="#c8c8c8" stroke-width="3.4"/>
<ellipse cx="118.1" cy="20.6" rx="5.2" ry="3.8" fill="#4a4a4a"/>
<ellipse cx="37.9" cy="77.8" rx="8" ry="9.5" fill="none" stroke="#c8c8c8" stroke-width="3.4"/>
<ellipse cx="37.9" cy="77.8" rx="4.0" ry="4.3" fill="#4a4a4a"/>
<ellipse cx="106.0" cy="64.4" rx="8.5" ry="7.5" fill="none" stroke="#c8c8c8" stroke-width="3.4"/>
<ellipse cx="106.0" cy="64.4" rx="4.2" ry="3.4" fill="#a8a8a8"/>
</g></g>
</svg>
<text x="343.5" y="178.3" font-size="7" font-weight="normal" text-anchor="start" fill="#e8e8e8" >100nm</text>
<line x1="343.0" y1="181.0" x2="370.0" y2="181.0" stroke="#eee" stroke-width="1" />
<text x="518.5" y="178.3" font-size="7" font-weight="normal" text-anchor="start" fill="#e8e8e8" >100nm</text>
<line x1="518.4" y1="181.0" x2="546.4" y2="181.0" stroke="#eee" stroke-width="1" />
<line x1="46.6" y1="239.4" x2="46.6" y2="395.5" stroke="#595959" stroke-width="1" />
<line x1="46.6" y1="395.5" x2="230.4" y2="395.5" stroke="#595959" stroke-width="1" />
<line x1="43.8" y1="395.5" x2="46.6" y2="395.5" stroke="#595959" stroke-width="1" />
<text x="40.0" y="398.3" font-size="7.8" font-weight="normal" text-anchor="end" fill="#595959" >0</text>
<line x1="43.8" y1="373.2" x2="46.6" y2="373.2" stroke="#595959" stroke-width="1" />
<text x="40.0" y="376.0" font-size="7.8" font-weight="normal" text-anchor="end" fill="#595959" >2</text>
<line x1="43.8" y1="350.9" x2="46.6" y2="350.9" stroke="#595959" stroke-width="1" />
<text x="40.0" y="353.7" font-size="7.8" font-weight="normal" text-anchor="end" fill="#595959" >4</text>
<line x1="43.8" y1="328.6" x2="46.6" y2="328.6" stroke="#595959" stroke-width="1" />
<text x="40.0" y="331.4" font-size="7.8" font-weight="normal" text-anchor="end" fill="#595959" >6</text>
<line x1="43.8" y1="306.3" x2="46.6" y2="306.3" stroke="#595959" stroke-width="1" />
<text x="40.0" y="309.1" font-size="7.8" font-weight="normal" text-anchor="end" fill="#595959" >8</text>
<line x1="43.8" y1="284.0" x2="46.6" y2="284.0" stroke="#595959" stroke-width="1" />
<text x="40.0" y="286.8" font-size="7.8" font-weight="normal" text-anchor="end" fill="#595959" >10</text>
<line x1="43.8" y1="261.7" x2="46.6" y2="261.7" stroke="#595959" stroke-width="1" />
<text x="40.0" y="264.5" font-size="7.8" font-weight="normal" text-anchor="end" fill="#595959" >12</text>
<line x1="43.8" y1="239.4" x2="46.6" y2="239.4" stroke="#595959" stroke-width="1" />
<text x="40.0" y="242.2" font-size="7.8" font-weight="normal" text-anchor="end" fill="#595959" >14</text>
<line x1="46.6" y1="395.5" x2="46.6" y2="398.3" stroke="#595959" stroke-width="1" />
<text x="46.6" y="408.3" font-size="7.8" font-weight="normal" text-anchor="middle" fill="#595959" >0</text>
<line x1="92.6" y1="395.5" x2="92.6" y2="398.3" stroke="#595959" stroke-width="1" />
<text x="92.6" y="408.3" font-size="7.8" font-weight="normal" text-anchor="middle" fill="#595959" >100</text>
<line x1="138.5" y1="395.5" x2="138.5" y2="398.3" stroke="#595959" stroke-width="1" />
<text x="138.5" y="408.3" font-size="7.8" font-weight="normal" text-anchor="middle" fill="#595959" >200</text>
<line x1="184.4" y1="395.5" x2="184.4" y2="398.3" stroke="#595959" stroke-width="1" />
<text x="184.4" y="408.3" font-size="7.8" font-weight="normal" text-anchor="middle" fill="#595959" >300</text>
<line x1="230.4" y1="395.5" x2="230.4" y2="398.3" stroke="#595959" stroke-width="1" />
<text x="230.4" y="408.3" font-size="7.8" font-weight="normal" text-anchor="middle" fill="#595959" >400</text>
<text x="138.8" y="417.8" font-size="7.6" font-weight="bold" text-anchor="middle" fill="#222" >Size(nm)</text>
<text x="0" y="0" font-size="7.7" font-weight="bold" text-anchor="middle" fill="#222" transform="translate(23.8,317.3) rotate(-90)" dominant-baseline="central">Intensity(%)</text>
<path d="M46.60,395.50 L47.06,395.49 L47.52,395.47 L47.98,395.45 L48.44,395.41 L48.90,395.36 L49.36,395.30 L49.82,395.24 L50.28,395.17 L50.74,395.05 L51.20,394.88 L51.65,394.65 L52.11,394.40 L52.57,394.15 L53.03,393.90 L53.49,393.65 L53.95,393.40 L54.41,393.14 L54.87,392.87 L55.33,392.59 L55.79,392.29 L56.25,391.99 L56.71,391.66 L57.17,391.32 L57.63,390.96 L58.09,390.58 L58.55,390.18 L59.01,389.75 L59.47,389.30 L59.93,388.81 L60.39,388.25 L60.84,387.64 L61.30,386.96 L61.76,386.24 L62.22,385.47 L62.68,384.65 L63.14,383.79 L63.60,382.89 L64.06,381.95 L64.52,380.99 L64.98,380.00 L65.44,378.98 L65.90,377.94 L66.36,376.89 L66.82,375.77 L67.28,374.57 L67.74,373.29 L68.20,371.94 L68.66,370.54 L69.12,369.08 L69.58,367.57 L70.03,366.02 L70.49,364.44 L70.95,362.83 L71.41,361.21 L71.87,359.57 L72.33,357.93 L72.79,356.29 L73.25,354.66 L73.71,353.04 L74.17,351.42 L74.63,349.79 L75.09,348.15 L75.55,346.49 L76.01,344.80 L76.47,343.06 L76.93,341.28 L77.39,339.43 L77.85,337.53 L78.31,335.54 L78.77,333.48 L79.22,331.32 L79.68,329.06 L80.14,326.68 L80.60,324.13 L81.06,321.43 L81.52,318.57 L81.98,315.56 L82.44,312.41 L82.90,309.13 L83.36,305.71 L83.82,302.16 L84.28,298.50 L84.74,294.22 L85.20,289.05 L85.66,283.33 L86.12,277.40 L86.58,271.59 L87.04,266.23 L87.50,261.66 L87.96,258.22 L88.41,256.24 L88.87,255.13 L89.33,254.12 L89.79,253.20 L90.25,252.40 L90.71,251.73 L91.17,251.19 L91.63,250.81 L92.09,250.60 L92.55,250.56 L93.01,250.67 L93.47,250.91 L93.93,251.28 L94.39,251.77 L94.85,252.37 L95.31,253.07 L95.77,253.87 L96.23,254.76 L96.69,255.72 L97.15,256.96 L97.60,259.51 L98.06,263.30 L98.52,268.03 L98.98,273.41 L99.44,279.15 L99.90,284.97 L100.36,290.57 L100.82,295.67 L101.28,300.10 L101.74,304.46 L102.20,308.84 L102.66,313.18 L103.12,317.45 L103.58,321.61 L104.04,325.61 L104.50,329.43 L104.96,333.01 L105.42,336.31 L105.88,339.40 L106.34,342.37 L106.79,345.24 L107.25,348.00 L107.71,350.66 L108.17,353.20 L108.63,355.65 L109.09,357.98 L109.55,360.21 L110.01,362.34 L110.47,364.36 L110.93,366.28 L111.39,368.10 L111.85,369.83 L112.31,371.47 L112.77,373.05 L113.23,374.58 L113.69,376.05 L114.15,377.49 L114.61,378.91 L115.07,380.31 L115.53,381.75 L115.98,383.22 L116.44,384.69 L116.90,386.13 L117.36,387.52 L117.82,388.83 L118.28,390.03 L118.74,391.10 L119.20,392.00 L119.66,392.71 L120.12,393.32 L120.58,393.90 L121.04,394.42 L121.50,394.84 L121.96,395.14 L122.42,395.28 L122.88,395.32 L123.34,395.36 L123.80,395.39 L124.26,395.42 L124.72,395.45 L125.17,395.47 L125.63,395.48 L126.09,395.49 L126.55,395.50 L127.01,395.50 L127.47,395.50 L127.93,395.50 L128.39,395.50 L128.85,395.50 L230.40,395.50" fill="none" stroke="#5074bc" stroke-width="1.6" stroke-linejoin="round"/>
<path d="M46.60,395.50 L47.06,395.49 L47.52,395.47 L47.98,395.42 L48.44,395.37 L48.90,395.30 L49.36,395.23 L49.82,395.14 L50.28,395.05 L50.74,394.92 L51.20,394.73 L51.65,394.49 L52.11,394.22 L52.57,393.94 L53.03,393.66 L53.49,393.37 L53.95,393.06 L54.41,392.74 L54.87,392.41 L55.33,392.06 L55.79,391.69 L56.25,391.30 L56.71,390.90 L57.17,390.47 L57.63,390.02 L58.09,389.55 L58.55,389.05 L59.01,388.52 L59.47,387.97 L59.93,387.39 L60.39,386.78 L60.84,386.12 L61.30,385.40 L61.76,384.63 L62.22,383.79 L62.68,382.88 L63.14,381.89 L63.60,380.80 L64.06,379.63 L64.52,378.35 L64.98,376.96 L65.44,375.16 L65.90,372.86 L66.36,370.15 L66.82,367.15 L67.28,363.96 L67.74,360.68 L68.20,357.44 L68.66,354.23 L69.12,350.87 L69.58,347.36 L70.03,343.72 L70.49,339.96 L70.95,336.09 L71.41,332.13 L71.87,328.07 L72.33,323.76 L72.79,319.25 L73.25,314.60 L73.71,309.91 L74.17,305.25 L74.63,300.70 L75.09,296.26 L75.55,291.53 L76.01,286.55 L76.47,281.49 L76.93,276.48 L77.39,271.67 L77.85,267.20 L78.31,263.22 L78.77,259.89 L79.22,257.33 L79.68,255.63 L80.14,254.15 L80.60,252.76 L81.06,251.50 L81.52,250.38 L81.98,249.46 L82.44,248.74 L82.90,248.28 L83.36,248.10 L83.82,248.22 L84.28,248.64 L84.74,249.32 L85.20,250.24 L85.66,251.35 L86.12,252.64 L86.58,254.06 L87.04,255.60 L87.50,257.48 L87.96,260.64 L88.41,264.91 L88.87,269.98 L89.33,275.55 L89.79,281.32 L90.25,286.98 L90.71,292.23 L91.17,296.76 L91.63,300.51 L92.09,304.01 L92.55,307.32 L93.01,310.48 L93.47,313.52 L93.93,316.48 L94.39,319.40 L94.85,322.30 L95.31,325.22 L95.77,328.20 L96.23,331.28 L96.69,334.53 L97.15,337.90 L97.60,341.28 L98.06,344.59 L98.52,347.74 L98.98,350.65 L99.44,353.22 L99.90,355.36 L100.36,357.20 L100.82,358.89 L101.28,360.39 L101.74,361.64 L102.20,362.61 L102.66,363.38 L103.12,364.05 L103.58,364.58 L104.04,364.93 L104.50,365.12 L104.96,365.26 L105.42,365.37 L105.88,365.45 L106.34,365.51 L106.79,365.57 L107.25,365.63 L107.71,365.70 L108.17,365.79 L108.63,365.92 L109.09,366.09 L109.55,366.32 L110.01,367.20 L110.47,368.78 L110.93,370.55 L111.39,372.00 L111.85,373.23 L112.31,374.40 L112.77,375.52 L113.23,376.62 L113.69,377.69 L114.15,378.76 L114.61,379.83 L115.07,380.92 L115.53,382.03 L115.98,383.19 L116.44,384.41 L116.90,385.83 L117.36,387.40 L117.82,389.02 L118.28,390.57 L118.74,391.96 L119.20,393.10 L119.66,393.87 L120.12,394.26 L120.58,394.57 L121.04,394.84 L121.50,395.05 L121.96,395.20 L122.42,395.28 L122.88,395.32 L123.34,395.36 L123.80,395.39 L124.26,395.42 L124.72,395.44 L125.17,395.46 L125.63,395.48 L126.09,395.49 L126.55,395.50 L127.01,395.50 L127.47,395.50 L127.93,395.50 L128.39,395.50 L128.85,395.50 L230.40,395.50" fill="none" stroke="#78ad56" stroke-width="1.6" stroke-linejoin="round"/>
<line x1="203.5" y1="259.8" x2="217.3" y2="259.8" stroke="#5074bc" stroke-width="1.6" />
<line x1="203.5" y1="272.4" x2="217.3" y2="272.4" stroke="#78ad56" stroke-width="1.6" />
<text x="218.0" y="262.6" font-size="7.8" font-weight="normal" text-anchor="start" fill="#595959" >A549/Ge</text>
<text x="218.0" y="275.2" font-size="7.8" font-weight="normal" text-anchor="start" fill="#595959" >PC9/Ge</text>
<text x="319.5" y="228.2" font-size="11.5" font-weight="bold" text-anchor="start" fill="#000" >PC9/Ge-exo</text>
<text x="401.5" y="228.2" font-size="11.5" font-weight="bold" text-anchor="start" fill="#000" >PC9/Ge</text>
<defs><filter id="band" x="-50%" y="-100%" width="200%" height="300%" color-interpolation-filters="sRGB"><feGaussianBlur stdDeviation="3.6 3"/></filter><linearGradient id="tsg" x1="0" y1="0" x2="0" y2="1"><stop offset="0" stop-color="#cbcbcb"/><stop offset="1" stop-color="#d6d6d6"/></linearGradient></defs>
<rect x="313.2" y="232.9" width="137.8" height="42.6" fill="#e0e0e0" stroke="#000" stroke-width="1.7"/>
<text x="307.4" y="262.5" font-size="12" font-weight="bold" text-anchor="end" fill="#000" >CD63</text>
<rect x="313.2" y="279.4" width="137.8" height="41.7" fill="#dedede" stroke="#000" stroke-width="1.7"/>
<text x="307.2" y="309.0" font-size="12" font-weight="bold" text-anchor="end" fill="#000" >CD81</text>
<rect x="313.2" y="324.9" width="137.8" height="43.1" fill="url(#tsg)" stroke="#000" stroke-width="1.7"/>
<text x="310.2" y="354.3" font-size="12" font-weight="bold" text-anchor="end" fill="#000" >TSG101</text>
<rect x="313.2" y="372.5" width="137.8" height="42.5" fill="#e3e3e3" stroke="#000" stroke-width="1.7"/>
<text x="310.2" y="400.0" font-size="12" font-weight="bold" text-anchor="end" fill="#000" >Calnexin</text>
<g filter="url(#band)">
<ellipse cx="352.6" cy="255.5" rx="20.5" ry="6" fill="#2e2e2e"/>
<ellipse cx="414.3" cy="254" rx="18.5" ry="3.2" fill="#bdbdbd"/>
<ellipse cx="352.6" cy="302.5" rx="20.5" ry="4.8" fill="#303030"/>
<ellipse cx="415.3" cy="300.5" rx="18" ry="2.8" fill="#a2a2a2"/>
<ellipse cx="354" cy="346.5" rx="20.5" ry="7.4" fill="#4e4e4e"/>
<ellipse cx="416.8" cy="349" rx="19.5" ry="5" fill="#909090"/>
<ellipse cx="417.8" cy="394" rx="20.5" ry="7" fill="#303030"/>
</g>
<text x="509.0" y="245.7" font-size="11.2" font-weight="bold" text-anchor="start" fill="#000" >DAPI</text>
<text x="581.8" y="246.0" font-size="11.2" font-weight="bold" text-anchor="start" fill="#000" >PKH-67</text>
<text x="651.0" y="246.0" font-size="11.2" font-weight="bold" text-anchor="start" fill="#000" >Merged</text>
<text x="0" y="0" font-size="11.2" font-weight="bold" text-anchor="middle" fill="#000" transform="translate(475.2,287.4) rotate(-90)" dominant-baseline="central">A549/Ge</text>
<text x="0" y="0" font-size="11.2" font-weight="bold" text-anchor="middle" fill="#000" transform="translate(475.2,363.6) rotate(-90)" dominant-baseline="central">PC9/Ge</text>
<rect x="487.2" y="250.5" width="70.6" height="73.8" fill="#030306"/>
<svg x="487.2" y="250.5" width="70.6" height="73.8"><g filter="url(#bl2)">
<circle cx="15.8" cy="2.0" r="3" fill="#1a1aa8" opacity="0.49"/>
<circle cx="26.3" cy="3.5" r="3" fill="#1a1aa8" opacity="0.42"/>
<circle cx="2.3" cy="18.5" r="3" fill="#1a1aa8" opacity="0.49"/>
<circle cx="24.2" cy="27.5" r="3.5" fill="#1a1aa8" opacity="0.56"/>
<circle cx="3.8" cy="31.1" r="3" fill="#1a1aa8" opacity="0.56"/>
<circle cx="44.3" cy="29.0" r="3" fill="#1a1aa8" opacity="0.24"/>
<circle cx="5.3" cy="56.0" r="3" fill="#1a1aa8" opacity="0.63"/>
<circle cx="3.8" cy="59.5" r="3" fill="#1a1aa8" opacity="0.56"/>
<circle cx="35.3" cy="59.0" r="3.5" fill="#1a1aa8" opacity="0.63"/>
<circle cx="33.2" cy="68.0" r="3.5" fill="#1a1aa8" opacity="0.70"/>
<circle cx="18.8" cy="63.5" r="3" fill="#1a1aa8" opacity="0.28"/>
<circle cx="45.8" cy="60.5" r="3" fill="#1a1aa8" opacity="0.24"/>
<circle cx="27.8" cy="46.5" r="2.5" fill="#1a1aa8" opacity="0.21"/>
</g></svg>
<rect x="560.8" y="250.5" width="70.2" height="73.8" fill="#030306"/>
<svg x="560.8" y="250.5" width="70.2" height="73.8"><g filter="url(#bl2)">
<circle cx="3.7" cy="17.0" r="3" fill="#1c6a1c" opacity="0.33"/>
<circle cx="6.7" cy="54.5" r="3" fill="#1c6a1c" opacity="0.33"/>
<circle cx="35.2" cy="59.0" r="4" fill="#1c6a1c" opacity="0.39"/>
<circle cx="17.2" cy="63.5" r="3" fill="#1c6a1c" opacity="0.22"/>
<circle cx="31.2" cy="27.5" r="3" fill="#1c6a1c" opacity="0.11"/>
</g></svg>
<rect x="634" y="250.5" width="70.8" height="73.8" fill="#030306"/>
<svg x="634" y="250.5" width="70.8" height="73.8"><g filter="url(#bl2)">
<circle cx="15.8" cy="2.0" r="3" fill="#1a1aa8" opacity="0.49"/>
<circle cx="26.3" cy="3.5" r="3" fill="#1a1aa8" opacity="0.42"/>
<circle cx="2.3" cy="18.5" r="3" fill="#1a1aa8" opacity="0.49"/>
<circle cx="24.2" cy="27.5" r="3.5" fill="#1a1aa8" opacity="0.56"/>
<circle cx="3.8" cy="31.1" r="3" fill="#1a1aa8" opacity="0.56"/>
<circle cx="44.3" cy="29.0" r="3" fill="#1a1aa8" opacity="0.24"/>
<circle cx="5.3" cy="56.0" r="3" fill="#1a1aa8" opacity="0.63"/>
<circle cx="3.8" cy="59.5" r="3" fill="#1a1aa8" opacity="0.56"/>
<circle cx="35.3" cy="59.0" r="3.5" fill="#1a1aa8" opacity="0.63"/>
<circle cx="33.2" cy="68.0" r="3.5" fill="#1a1aa8" opacity="0.70"/>
<circle cx="18.8" cy="63.5" r="3" fill="#1a1aa8" opacity="0.28"/>
<circle cx="45.8" cy="60.5" r="3" fill="#1a1aa8" opacity="0.24"/>
<circle cx="27.8" cy="46.5" r="2.5" fill="#1a1aa8" opacity="0.21"/>
<circle cx="3.7" cy="17.0" r="3" fill="#1c6a1c" opacity="0.15"/>
<circle cx="6.7" cy="54.5" r="3" fill="#1c6a1c" opacity="0.15"/>
<circle cx="35.2" cy="59.0" r="4" fill="#1c6a1c" opacity="0.17"/>
<circle cx="17.2" cy="63.5" r="3" fill="#1c6a1c" opacity="0.10"/>
<circle cx="31.2" cy="27.5" r="3" fill="#1c6a1c" opacity="0.05"/>
</g></svg>
<rect x="487.2" y="326.9" width="70.6" height="73.5" fill="#030306"/>
<svg x="487.2" y="326.9" width="70.6" height="73.5"><g filter="url(#bl2)">
<circle cx="11.3" cy="3.6" r="3" fill="#1a1aa8" opacity="0.35"/>
<circle cx="53.3" cy="15.6" r="3.5" fill="#1a1aa8" opacity="0.63"/>
<circle cx="57.8" cy="27.6" r="3" fill="#1a1aa8" opacity="0.63"/>
<circle cx="65.3" cy="36.6" r="3" fill="#1a1aa8" opacity="0.56"/>
<circle cx="14.3" cy="27.6" r="3" fill="#1a1aa8" opacity="0.24"/>
<circle cx="5.3" cy="50.1" r="3.5" fill="#1a1aa8" opacity="0.63"/>
<circle cx="2.3" cy="44.1" r="3" fill="#1a1aa8" opacity="0.56"/>
<circle cx="30.8" cy="62.1" r="3.5" fill="#1a1aa8" opacity="0.63"/>
<circle cx="41.3" cy="62.1" r="3.5" fill="#1a1aa8" opacity="0.63"/>
<circle cx="27.8" cy="68.1" r="3" fill="#1a1aa8" opacity="0.42"/>
<circle cx="55.8" cy="45.1" r="2.5" fill="#1a1aa8" opacity="0.35"/>
</g></svg>
<rect x="560.8" y="326.9" width="70.2" height="73.5" fill="#030306"/>
<svg x="560.8" y="326.9" width="70.2" height="73.5"><g filter="url(#bl2)">
<circle cx="5.2" cy="50.1" r="4" fill="#1c6a1c" opacity="0.39"/>
<circle cx="38.2" cy="60.6" r="4" fill="#1c6a1c" opacity="0.33"/>
<circle cx="56.2" cy="27.6" r="3" fill="#1c6a1c" opacity="0.28"/>
<circle cx="27.2" cy="13.1" r="3" fill="#1c6a1c" opacity="0.14"/>
<circle cx="9.2" cy="3.1" r="2.5" fill="#1c6a1c" opacity="0.17"/>
</g></svg>
<rect x="634" y="326.9" width="70.8" height="73.5" fill="#030306"/>
<svg x="634" y="326.9" width="70.8" height="73.5"><g filter="url(#bl2)">
<circle cx="11.3" cy="3.6" r="3" fill="#1a1aa8" opacity="0.35"/>
<circle cx="53.3" cy="15.6" r="3.5" fill="#1a1aa8" opacity="0.63"/>
<circle cx="57.8" cy="27.6" r="3" fill="#1a1aa8" opacity="0.63"/>
<circle cx="65.3" cy="36.6" r="3" fill="#1a1aa8" opacity="0.56"/>
<circle cx="14.3" cy="27.6" r="3" fill="#1a1aa8" opacity="0.24"/>
<circle cx="5.3" cy="50.1" r="3.5" fill="#1a1aa8" opacity="0.63"/>
<circle cx="2.3" cy="44.1" r="3" fill="#1a1aa8" opacity="0.56"/>
<circle cx="30.8" cy="62.1" r="3.5" fill="#1a1aa8" opacity="0.63"/>
<circle cx="41.3" cy="62.1" r="3.5" fill="#1a1aa8" opacity="0.63"/>
<circle cx="27.8" cy="68.1" r="3" fill="#1a1aa8" opacity="0.42"/>
<circle cx="55.8" cy="45.1" r="2.5" fill="#1a1aa8" opacity="0.35"/>
<circle cx="5.2" cy="50.1" r="4" fill="#1c6a1c" opacity="0.17"/>
<circle cx="38.2" cy="60.6" r="4" fill="#1c6a1c" opacity="0.15"/>
<circle cx="56.2" cy="27.6" r="3" fill="#1c6a1c" opacity="0.12"/>
<circle cx="27.2" cy="13.1" r="3" fill="#1c6a1c" opacity="0.06"/>
<circle cx="9.2" cy="3.1" r="2.5" fill="#1c6a1c" opacity="0.07"/>
</g></svg>
<text x="61.5" y="471.4" font-size="11.2" font-weight="bold" text-anchor="middle" fill="#000" >Control</text>
<text x="147.1" y="471.4" font-size="11.2" font-weight="bold" text-anchor="middle" fill="#000" >M2-CM</text>
<text x="236.3" y="471.4" font-size="11.4" font-weight="bold" text-anchor="middle" fill="#000" >M2-exo</text>
<text x="322.8" y="459.5" font-size="11.4" font-weight="bold" text-anchor="middle" fill="#000" >M2-CM</text>
<text x="322.9" y="474.0" font-size="11.5" font-weight="bold" text-anchor="middle" fill="#000" >depleted exo</text>
<text x="409.5" y="459.5" font-size="11.4" font-weight="bold" text-anchor="middle" fill="#000" >M2-CM</text>
<text x="409.4" y="474.0" font-size="11.4" font-weight="bold" text-anchor="middle" fill="#000" >GW4869</text>
<text x="0" y="0" font-size="11.2" font-weight="bold" text-anchor="middle" fill="#000" transform="translate(10.2,519.0) rotate(-90)" dominant-baseline="central">A549/Ge</text>
<text x="0" y="0" font-size="11.2" font-weight="bold" text-anchor="middle" fill="#000" transform="translate(10.2,606.6) rotate(-90)" dominant-baseline="central">PC9/Ge</text>
<defs><radialGradient id="rim" cx="0.55" cy="0.45" r="0.6"><stop offset="0.82" stop-color="#e2ddf6"/><stop offset="0.93" stop-color="#c9bfeb"/><stop offset="1" stop-color="#d9d2f2"/></radialGradient></defs>
<rect x="19.5" y="477.3" width="82.7" height="83.2" fill="#e2ddf6"/>
<circle cx="61.4" cy="519.4" r="40.9" fill="url(#rim)"/>
<circle cx="60.9" cy="518.9" r="37.9" fill="none" stroke="#c9c1ec" stroke-width="1.3"/>
<circle cx="60.9" cy="518.9" r="35.4" fill="#f3f1fc"/>
<g fill="#352a88">
<circle cx="65.6" cy="501.4" r="0.81"/>
<circle cx="70.9" cy="514.8" r="0.85"/>
<circle cx="60.1" cy="543.8" r="0.74"/>
<circle cx="33.8" cy="507.1" r="0.73"/>
<circle cx="89.2" cy="521.9" r="0.81"/>
<circle cx="87.0" cy="530.6" r="1.00"/>
<circle cx="58.4" cy="516.4" r="0.84"/>
<circle cx="74.1" cy="508.1" r="0.95"/>
<circle cx="30.0" cy="519.9" r="0.83"/>
<circle cx="54.6" cy="525.0" r="1.04"/>
<circle cx="67.7" cy="545.4" r="0.79"/>
<circle cx="72.1" cy="532.6" r="0.86"/>
<circle cx="64.9" cy="539.6" r="0.76"/>
<circle cx="83.5" cy="540.7" r="0.97"/>
<circle cx="69.5" cy="513.1" r="1.03"/>
<circle cx="75.5" cy="537.5" r="1.02"/>
<circle cx="88.5" cy="514.3" r="0.97"/>
<circle cx="78.2" cy="542.3" r="0.75"/>
<circle cx="82.6" cy="524.5" r="0.95"/>
<circle cx="58.3" cy="498.4" r="0.98"/>
<circle cx="42.4" cy="499.4" r="0.97"/>
<circle cx="65.7" cy="529.1" r="0.72"/>
<circle cx="57.9" cy="527.7" r="0.81"/>
<circle cx="64.2" cy="524.2" r="0.83"/>
<circle cx="48.4" cy="542.3" r="0.80"/>
<circle cx="71.5" cy="537.8" r="0.78"/>
<circle cx="71.9" cy="527.7" r="0.98"/>
<circle cx="41.5" cy="543.0" r="0.89"/>
<circle cx="72.2" cy="504.7" r="0.83"/>
<circle cx="43.0" cy="530.4" r="0.92"/>
<circle cx="55.9" cy="519.4" r="0.81"/>
<circle cx="46.8" cy="492.1" r="0.70"/>
<circle cx="76.1" cy="544.9" r="0.94"/>
<circle cx="67.7" cy="494.6" r="0.85"/>
<circle cx="48.9" cy="501.3" r="0.92"/>
<circle cx="39.0" cy="497.8" r="0.83"/>
<circle cx="65.7" cy="495.8" r="0.87"/>
<circle cx="63.6" cy="516.4" r="0.90"/>
<circle cx="48.7" cy="518.0" r="0.78"/>
<circle cx="87.8" cy="527.3" r="0.77"/>
<circle cx="38.5" cy="516.6" r="0.92"/>
<circle cx="56.1" cy="507.2" r="0.90"/>
<circle cx="84.5" cy="506.5" r="0.87"/>
<circle cx="88.0" cy="507.9" r="0.82"/>
<circle cx="43.5" cy="539.3" r="0.94"/>
<circle cx="68.2" cy="537.1" r="1.02"/>
<circle cx="51.3" cy="503.2" r="0.73"/>
<circle cx="36.8" cy="522.0" r="1.00"/>
<circle cx="73.5" cy="517.2" r="0.90"/>
<circle cx="71.8" cy="510.4" r="0.96"/>
<circle cx="75.5" cy="518.3" r="0.91"/>
<circle cx="48.0" cy="497.5" r="0.94"/>
<circle cx="85.1" cy="519.6" r="0.92"/>
<circle cx="48.3" cy="539.5" r="0.93"/>
<circle cx="31.1" cy="510.0" r="0.87"/>
<circle cx="80.8" cy="494.3" r="0.85"/>
<circle cx="78.7" cy="529.1" r="0.93"/>
<circle cx="54.6" cy="540.7" r="0.91"/>
<circle cx="51.0" cy="512.7" r="0.77"/>
<circle cx="39.6" cy="539.8" r="1.04"/>
<circle cx="44.3" cy="505.9" r="0.86"/>
<circle cx="82.1" cy="499.6" r="1.01"/>
<circle cx="56.8" cy="523.3" r="0.81"/>
<circle cx="69.7" cy="503.9" r="0.97"/>
<circle cx="75.7" cy="525.3" r="0.94"/>
<circle cx="63.7" cy="504.7" r="0.80"/>
<circle cx="33.3" cy="514.2" r="0.94"/>
<circle cx="51.8" cy="494.9" r="0.75"/>
<circle cx="56.4" cy="544.1" r="0.97"/>
<circle cx="50.7" cy="489.4" r="0.98"/>
<circle cx="67.4" cy="502.9" r="0.92"/>
<circle cx="37.1" cy="501.2" r="1.00"/>
<circle cx="58.3" cy="488.2" r="0.80"/>
<circle cx="69.8" cy="520.4" r="0.87"/>
<circle cx="68.5" cy="490.0" r="0.76"/>
<circle cx="66.2" cy="543.0" r="1.02"/>
<circle cx="67.3" cy="512.6" r="1.05"/>
<circle cx="53.4" cy="547.1" r="0.84"/>
<circle cx="43.9" cy="497.0" r="0.71"/>
<circle cx="60.0" cy="531.8" r="0.80"/>
<circle cx="70.3" cy="507.1" r="1.02"/>
<circle cx="60.4" cy="526.7" r="0.77"/>
<circle cx="50.7" cy="549.0" r="0.75"/>
<circle cx="79.0" cy="526.5" r="0.84"/>
<circle cx="43.4" cy="522.3" r="0.80"/>
<circle cx="47.0" cy="516.3" r="0.83"/>
<circle cx="74.0" cy="531.2" r="0.91"/>
<circle cx="84.3" cy="499.4" r="1.04"/>
<circle cx="78.4" cy="505.9" r="0.81"/>
<circle cx="82.7" cy="509.2" r="0.97"/>
<circle cx="79.1" cy="532.0" r="0.84"/>
<circle cx="78.9" cy="515.9" r="0.92"/>
<circle cx="55.4" cy="527.1" r="0.86"/>
<circle cx="82.9" cy="514.7" r="1.01"/>
<circle cx="57.1" cy="536.8" r="0.97"/>
<circle cx="63.2" cy="501.1" r="0.94"/>
<circle cx="30.8" cy="527.0" r="1.02"/>
<circle cx="42.3" cy="524.3" r="0.82"/>
<circle cx="66.2" cy="488.5" r="0.93"/>
<circle cx="53.4" cy="498.1" r="1.04"/>
<circle cx="73.6" cy="512.8" r="0.96"/>
<circle cx="85.9" cy="512.1" r="0.78"/>
<circle cx="67.1" cy="531.2" r="0.78"/>
<circle cx="67.2" cy="534.9" r="0.97"/>
<circle cx="54.1" cy="492.9" r="0.98"/>
<circle cx="43.2" cy="508.2" r="0.79"/>
<circle cx="63.0" cy="527.1" r="0.82"/>
<circle cx="35.0" cy="516.5" r="0.96"/>
<circle cx="61.2" cy="503.4" r="0.93"/>
<circle cx="38.1" cy="506.3" r="0.80"/>
<circle cx="57.6" cy="550.2" r="0.88"/>
<circle cx="75.2" cy="527.7" r="1.03"/>
<circle cx="81.8" cy="502.7" r="0.75"/>
<circle cx="42.1" cy="517.1" r="0.83"/>
<circle cx="55.1" cy="496.4" r="0.92"/>
<circle cx="71.0" cy="540.8" r="0.82"/>
<circle cx="91.1" cy="516.7" r="0.88"/>
<circle cx="63.2" cy="533.3" r="0.85"/>
<circle cx="78.4" cy="535.8" r="0.73"/>
<circle cx="66.1" cy="518.7" r="1.02"/>
<circle cx="39.0" cy="503.7" r="0.87"/>
<circle cx="35.0" cy="532.2" r="0.83"/>
<circle cx="41.5" cy="515.0" r="0.88"/>
<circle cx="47.5" cy="532.8" r="0.99"/>
<circle cx="81.3" cy="541.6" r="0.71"/>
<circle cx="44.8" cy="536.0" r="0.85"/>
<circle cx="82.7" cy="537.1" r="0.92"/>
<circle cx="51.8" cy="514.9" r="0.79"/>
<circle cx="39.2" cy="519.4" r="0.76"/>
<circle cx="60.9" cy="491.7" r="0.87"/>
<circle cx="61.9" cy="530.8" r="1.02"/>
<circle cx="92.2" cy="514.0" r="0.79"/>
<circle cx="91.0" cy="528.5" r="0.79"/>
<circle cx="59.1" cy="546.9" r="0.94"/>
<circle cx="85.2" cy="532.1" r="0.78"/>
<circle cx="35.9" cy="527.5" r="0.79"/>
<circle cx="30.3" cy="516.3" r="0.79"/>
<circle cx="88.1" cy="517.2" r="0.77"/>
<circle cx="59.4" cy="490.1" r="0.88"/>
<circle cx="67.6" cy="520.6" r="0.75"/>
<circle cx="59.6" cy="540.3" r="0.94"/>
<circle cx="62.2" cy="540.6" r="0.87"/>
<circle cx="77.2" cy="531.0" r="1.00"/>
<circle cx="44.2" cy="515.1" r="0.83"/>
<circle cx="50.4" cy="530.8" r="0.72"/>
<circle cx="67.4" cy="522.8" r="0.93"/>
<circle cx="47.2" cy="504.7" r="0.78"/>
<circle cx="54.1" cy="504.4" r="0.88"/>
<circle cx="85.7" cy="536.8" r="0.87"/>
<circle cx="41.2" cy="510.7" r="0.72"/>
<circle cx="83.4" cy="528.4" r="0.82"/>
<circle cx="73.4" cy="547.9" r="0.73"/>
<circle cx="55.5" cy="491.1" r="0.82"/>
<circle cx="63.0" cy="510.5" r="0.87"/>
<circle cx="66.5" cy="549.4" r="0.88"/>
<circle cx="70.6" cy="501.1" r="1.01"/>
<circle cx="66.8" cy="507.6" r="1.03"/>
<circle cx="48.4" cy="524.0" r="0.92"/>
<circle cx="82.4" cy="504.7" r="0.88"/>
<circle cx="52.4" cy="541.9" r="0.75"/>
<circle cx="76.6" cy="496.3" r="0.83"/>
<circle cx="31.8" cy="530.0" r="0.81"/>
<circle cx="31.3" cy="507.4" r="0.90"/>
<circle cx="38.6" cy="529.4" r="0.82"/>
<circle cx="77.5" cy="523.6" r="0.73"/>
<circle cx="34.4" cy="522.9" r="0.87"/>
<circle cx="77.1" cy="502.0" r="0.97"/>
<circle cx="63.6" cy="513.9" r="0.77"/>
<circle cx="60.1" cy="536.9" r="0.97"/>
<circle cx="49.5" cy="494.2" r="0.71"/>
<circle cx="78.2" cy="498.5" r="0.87"/>
<circle cx="51.9" cy="521.5" r="0.87"/>
<circle cx="75.4" cy="490.9" r="0.77"/>
<circle cx="36.0" cy="530.2" r="0.88"/>
<circle cx="49.7" cy="536.0" r="1.04"/>
<circle cx="51.1" cy="545.6" r="0.94"/>
<circle cx="70.7" cy="547.4" r="0.86"/>
<circle cx="72.0" cy="522.0" r="1.04"/>
<circle cx="77.4" cy="514.4" r="0.78"/>
<circle cx="67.8" cy="529.3" r="0.97"/>
<circle cx="57.8" cy="541.4" r="0.82"/>
<circle cx="80.7" cy="517.2" r="0.75"/>
<circle cx="71.9" cy="544.8" r="0.77"/>
<circle cx="59.9" cy="508.2" r="0.90"/>
<circle cx="56.0" cy="529.1" r="0.92"/>
<circle cx="87.2" cy="524.8" r="0.83"/>
<circle cx="47.1" cy="512.1" r="0.73"/>
<circle cx="82.7" cy="534.4" r="0.74"/>
<circle cx="45.8" cy="522.7" r="0.89"/>
<circle cx="63.4" cy="537.1" r="0.80"/>
<circle cx="40.1" cy="534.1" r="0.92"/>
<circle cx="44.6" cy="527.5" r="0.98"/>
<circle cx="62.4" cy="544.2" r="0.86"/>
<circle cx="86.7" cy="521.1" r="0.79"/>
<circle cx="36.9" cy="524.7" r="0.82"/>
<circle cx="30.3" cy="524.8" r="0.99"/>
<circle cx="60.5" cy="488.0" r="0.99"/>
<circle cx="61.7" cy="520.9" r="0.77"/>
<circle cx="77.3" cy="509.8" r="0.76"/>
<circle cx="38.5" cy="537.9" r="0.77"/>
<circle cx="41.8" cy="504.7" r="0.82"/>
<circle cx="56.7" cy="546.4" r="0.90"/>
<circle cx="77.8" cy="538.8" r="0.77"/>
<circle cx="85.8" cy="504.6" r="0.95"/>
<circle cx="33.5" cy="510.8" r="0.72"/>
<circle cx="52.9" cy="516.8" r="0.93"/>
<circle cx="69.3" cy="498.0" r="0.88"/>
<circle cx="44.7" cy="494.0" r="1.00"/>
<circle cx="56.3" cy="532.5" r="0.72"/>
<circle cx="74.3" cy="501.0" r="0.74"/>
<circle cx="48.6" cy="514.9" r="0.88"/>
<circle cx="89.5" cy="530.1" r="0.87"/>
<circle cx="82.8" cy="531.1" r="1.03"/>
<circle cx="86.6" cy="501.6" r="0.93"/>
<circle cx="82.6" cy="512.4" r="0.79"/>
<circle cx="63.7" cy="490.6" r="1.02"/>
<circle cx="55.6" cy="499.4" r="0.84"/>
<circle cx="71.4" cy="491.1" r="0.90"/>
<circle cx="56.2" cy="510.2" r="0.88"/>
<circle cx="32.4" cy="524.9" r="0.79"/>
<circle cx="45.5" cy="525.7" r="0.86"/>
<circle cx="75.5" cy="503.5" r="0.77"/>
<circle cx="44.1" cy="501.0" r="1.00"/>
<circle cx="65.5" cy="532.6" r="0.79"/>
<circle cx="91.4" cy="518.9" r="0.71"/>
<circle cx="39.5" cy="525.5" r="0.92"/>
<circle cx="75.8" cy="521.1" r="0.94"/>
<circle cx="50.3" cy="533.3" r="0.79"/>
<circle cx="70.7" cy="493.2" r="0.87"/>
<circle cx="48.9" cy="491.2" r="0.83"/>
<circle cx="58.1" cy="520.2" r="1.01"/>
<circle cx="55.2" cy="537.8" r="0.85"/>
<circle cx="41.0" cy="494.1" r="0.94"/>
<circle cx="41.9" cy="502.0" r="0.88"/>
<circle cx="76.9" cy="533.5" r="1.05"/>
<circle cx="50.5" cy="528.6" r="0.87"/>
<circle cx="72.2" cy="535.2" r="0.90"/>
<circle cx="72.7" cy="492.8" r="1.00"/>
<circle cx="65.3" cy="521.7" r="1.01"/>
<circle cx="54.1" cy="513.7" r="0.84"/>
<circle cx="53.1" cy="549.3" r="0.75"/>
<circle cx="48.8" cy="547.8" r="0.97"/>
<circle cx="36.0" cy="512.0" r="0.76"/>
<circle cx="76.4" cy="493.8" r="0.97"/>
<circle cx="51.1" cy="518.3" r="0.84"/>
<circle cx="80.4" cy="507.1" r="1.01"/>
<circle cx="80.7" cy="539.5" r="0.88"/>
<circle cx="46.3" cy="500.9" r="1.03"/>
<circle cx="80.1" cy="513.7" r="0.80"/>
<circle cx="45.1" cy="531.0" r="0.73"/>
<circle cx="31.5" cy="522.9" r="0.74"/>
<circle cx="40.2" cy="523.3" r="1.02"/>
<circle cx="48.0" cy="527.8" r="0.83"/>
<circle cx="38.1" cy="531.5" r="0.73"/>
<circle cx="55.8" cy="516.4" r="1.00"/>
<circle cx="35.2" cy="503.4" r="0.89"/>
<circle cx="36.6" cy="536.8" r="0.76"/>
<circle cx="65.9" cy="527.0" r="0.88"/>
<circle cx="54.4" cy="544.4" r="0.75"/>
<circle cx="56.9" cy="504.9" r="0.73"/>
<circle cx="90.2" cy="524.7" r="0.78"/>
<circle cx="59.9" cy="496.3" r="0.78"/>
<circle cx="65.8" cy="498.6" r="0.72"/>
<circle cx="78.7" cy="495.4" r="0.76"/>
<circle cx="34.6" cy="535.7" r="0.73"/>
<circle cx="68.8" cy="524.9" r="0.87"/>
<circle cx="82.8" cy="519.3" r="1.00"/>
<circle cx="63.6" cy="547.7" r="0.93"/>
<circle cx="54.6" cy="488.0" r="1.01"/>
<circle cx="63.9" cy="494.1" r="0.77"/>
<circle cx="65.1" cy="509.7" r="0.84"/>
<circle cx="33.1" cy="528.2" r="0.96"/>
<circle cx="66.9" cy="514.6" r="0.92"/>
<circle cx="74.7" cy="510.5" r="0.75"/>
<circle cx="51.4" cy="526.5" r="0.94"/>
<circle cx="51.3" cy="499.8" r="0.86"/>
<circle cx="69.0" cy="548.6" r="0.86"/>
<circle cx="68.2" cy="542.2" r="0.71"/>
<circle cx="41.3" cy="527.1" r="0.89"/>
<circle cx="47.8" cy="544.8" r="0.77"/>
<circle cx="68.3" cy="533.1" r="0.82"/>
<circle cx="92.4" cy="522.9" r="1.02"/>
<circle cx="57.3" cy="492.5" r="0.96"/>
<circle cx="62.8" cy="488.1" r="0.85"/>
<circle cx="50.4" cy="507.3" r="0.74"/>
<circle cx="36.9" cy="539.9" r="0.96"/>
<circle cx="60.1" cy="512.8" r="0.82"/>
<circle cx="43.4" cy="519.1" r="0.88"/>
<circle cx="71.3" cy="525.7" r="1.03"/>
<circle cx="53.1" cy="528.1" r="0.90"/>
</g>
<rect x="105.2" y="477.3" width="83.8" height="83.2" fill="#e2ddf6"/>
<circle cx="147.6" cy="519.4" r="41.1" fill="url(#rim)"/>
<circle cx="147.1" cy="518.9" r="38.1" fill="none" stroke="#c9c1ec" stroke-width="1.3"/>
<circle cx="147.1" cy="518.9" r="35.6" fill="#f3f1fc"/>
<g fill="#352a88">
<circle cx="162.9" cy="540.2" r="0.99"/>
<circle cx="163.0" cy="523.8" r="0.89"/>
<circle cx="171.5" cy="520.0" r="0.74"/>
<circle cx="140.6" cy="522.4" r="0.86"/>
<circle cx="134.9" cy="541.2" r="0.91"/>
<circle cx="124.2" cy="516.1" r="0.94"/>
<circle cx="157.0" cy="532.0" r="0.95"/>
<circle cx="139.7" cy="542.8" r="0.95"/>
<circle cx="130.1" cy="525.6" r="1.04"/>
<circle cx="164.1" cy="533.7" r="0.71"/>
<circle cx="152.1" cy="528.8" r="1.00"/>
<circle cx="170.6" cy="524.4" r="0.81"/>
<circle cx="151.3" cy="524.8" r="0.72"/>
<circle cx="139.6" cy="489.9" r="0.79"/>
<circle cx="133.0" cy="491.7" r="0.78"/>
<circle cx="160.2" cy="510.4" r="0.74"/>
<circle cx="136.7" cy="500.1" r="0.86"/>
<circle cx="160.8" cy="492.2" r="1.03"/>
<circle cx="164.7" cy="506.7" r="0.92"/>
<circle cx="157.4" cy="528.2" r="0.78"/>
<circle cx="157.3" cy="492.2" r="0.78"/>
<circle cx="134.5" cy="533.1" r="0.73"/>
<circle cx="153.9" cy="489.0" r="0.90"/>
<circle cx="167.6" cy="514.7" r="0.74"/>
<circle cx="152.9" cy="545.6" r="0.85"/>
<circle cx="124.1" cy="527.2" r="1.05"/>
<circle cx="148.2" cy="507.4" r="1.03"/>
<circle cx="146.2" cy="516.2" r="0.98"/>
<circle cx="128.0" cy="531.2" r="0.86"/>
<circle cx="129.0" cy="507.8" r="0.76"/>
<circle cx="168.3" cy="532.4" r="0.83"/>
<circle cx="162.5" cy="496.3" r="0.86"/>
<circle cx="115.7" cy="515.4" r="0.89"/>
<circle cx="145.9" cy="510.8" r="0.94"/>
<circle cx="150.2" cy="515.7" r="0.73"/>
<circle cx="147.0" cy="550.0" r="0.90"/>
<circle cx="157.4" cy="539.1" r="0.87"/>
<circle cx="159.0" cy="501.0" r="0.73"/>
<circle cx="140.7" cy="532.0" r="0.78"/>
<circle cx="162.5" cy="501.1" r="0.98"/>
<circle cx="166.0" cy="544.5" r="1.00"/>
<circle cx="144.5" cy="501.7" r="0.73"/>
<circle cx="142.6" cy="504.8" r="0.94"/>
<circle cx="128.0" cy="503.4" r="0.84"/>
<circle cx="118.9" cy="529.2" r="1.04"/>
<circle cx="154.5" cy="502.8" r="0.83"/>
<circle cx="166.2" cy="493.5" r="0.75"/>
<circle cx="174.9" cy="527.6" r="1.00"/>
<circle cx="138.8" cy="508.3" r="0.87"/>
<circle cx="155.6" cy="549.5" r="1.03"/>
<circle cx="152.4" cy="508.7" r="0.80"/>
<circle cx="174.6" cy="502.3" r="0.73"/>
<circle cx="156.7" cy="498.0" r="0.91"/>
<circle cx="137.4" cy="512.1" r="1.01"/>
<circle cx="127.4" cy="493.9" r="0.76"/>
<circle cx="149.2" cy="502.5" r="0.83"/>
<circle cx="159.3" cy="547.9" r="0.91"/>
<circle cx="156.0" cy="524.7" r="0.99"/>
<circle cx="121.1" cy="500.5" r="0.78"/>
<circle cx="135.3" cy="494.9" r="0.86"/>
<circle cx="123.3" cy="508.4" r="0.99"/>
<circle cx="142.7" cy="516.8" r="1.00"/>
<circle cx="119.8" cy="506.8" r="0.88"/>
<circle cx="156.4" cy="508.4" r="0.87"/>
<circle cx="123.5" cy="520.6" r="0.89"/>
<circle cx="175.2" cy="517.3" r="0.98"/>
<circle cx="124.4" cy="535.9" r="0.75"/>
<circle cx="151.9" cy="495.5" r="0.78"/>
<circle cx="175.4" cy="510.1" r="0.99"/>
<circle cx="135.1" cy="509.0" r="0.82"/>
<circle cx="129.2" cy="535.3" r="0.72"/>
<circle cx="144.1" cy="544.1" r="0.74"/>
<circle cx="129.7" cy="517.1" r="0.76"/>
<circle cx="137.4" cy="546.3" r="0.86"/>
<circle cx="134.4" cy="518.4" r="1.04"/>
<circle cx="167.2" cy="502.7" r="1.01"/>
<circle cx="134.3" cy="523.5" r="0.86"/>
<circle cx="127.6" cy="539.7" r="0.84"/>
<circle cx="133.0" cy="545.2" r="0.90"/>
<circle cx="157.1" cy="520.1" r="0.88"/>
<circle cx="119.6" cy="533.7" r="0.77"/>
<circle cx="146.6" cy="526.4" r="1.04"/>
<circle cx="160.5" cy="532.3" r="1.03"/>
<circle cx="141.5" cy="496.2" r="0.74"/>
<circle cx="174.1" cy="531.7" r="0.96"/>
<circle cx="128.6" cy="499.6" r="0.82"/>
<circle cx="140.8" cy="549.0" r="0.81"/>
<circle cx="162.8" cy="519.0" r="0.77"/>
<circle cx="147.9" cy="488.0" r="0.93"/>
<circle cx="131.3" cy="496.9" r="0.77"/>
<circle cx="173.6" cy="513.9" r="1.03"/>
<circle cx="116.4" cy="520.2" r="0.77"/>
<circle cx="134.6" cy="528.0" r="1.02"/>
<circle cx="151.4" cy="539.5" r="1.03"/>
<circle cx="170.0" cy="506.2" r="1.03"/>
<circle cx="151.1" cy="534.1" r="0.96"/>
<circle cx="148.2" cy="537.6" r="1.00"/>
<circle cx="167.8" cy="520.9" r="0.72"/>
<circle cx="164.3" cy="513.0" r="0.93"/>
<circle cx="132.1" cy="501.6" r="0.70"/>
<circle cx="174.0" cy="523.6" r="0.95"/>
<circle cx="174.4" cy="506.7" r="1.03"/>
<circle cx="160.9" cy="506.6" r="0.71"/>
<circle cx="172.7" cy="537.1" r="1.04"/>
<circle cx="156.5" cy="543.7" r="1.04"/>
</g>
<rect x="191.4" y="477.3" width="83.2" height="83.2" fill="#e2ddf6"/>
<circle cx="233.5" cy="519.4" r="41.1" fill="url(#rim)"/>
<circle cx="233.0" cy="518.9" r="38.1" fill="none" stroke="#c9c1ec" stroke-width="1.3"/>
<circle cx="233.0" cy="518.9" r="35.6" fill="#f3f1fc"/>
<g fill="#352a88">
<circle cx="247.2" cy="495.1" r="0.86"/>
<circle cx="214.8" cy="542.0" r="0.72"/>
<circle cx="258.4" cy="521.6" r="0.73"/>
<circle cx="217.5" cy="503.9" r="0.75"/>
<circle cx="222.1" cy="512.2" r="0.72"/>
<circle cx="209.3" cy="524.3" r="0.93"/>
<circle cx="236.0" cy="489.2" r="0.99"/>
<circle cx="216.1" cy="522.3" r="0.98"/>
<circle cx="236.3" cy="516.2" r="0.72"/>
<circle cx="234.1" cy="510.3" r="0.71"/>
<circle cx="206.4" cy="529.1" r="0.92"/>
<circle cx="203.6" cy="514.4" r="0.94"/>
<circle cx="238.4" cy="497.3" r="0.82"/>
<circle cx="238.1" cy="510.6" r="0.91"/>
<circle cx="245.4" cy="507.8" r="0.77"/>
<circle cx="209.9" cy="538.1" r="0.73"/>
<circle cx="208.0" cy="513.9" r="0.80"/>
<circle cx="252.4" cy="513.4" r="0.89"/>
<circle cx="237.7" cy="545.1" r="0.74"/>
<circle cx="212.2" cy="502.2" r="0.86"/>
<circle cx="256.7" cy="513.9" r="0.78"/>
<circle cx="244.8" cy="539.0" r="1.03"/>
<circle cx="216.0" cy="499.8" r="1.00"/>
<circle cx="246.5" cy="519.6" r="1.00"/>
<circle cx="234.4" cy="532.2" r="0.95"/>
<circle cx="253.1" cy="518.6" r="0.91"/>
<circle cx="245.0" cy="504.4" r="0.79"/>
<circle cx="221.5" cy="499.3" r="0.94"/>
<circle cx="239.5" cy="506.1" r="0.94"/>
<circle cx="232.1" cy="521.4" r="0.77"/>
<circle cx="242.3" cy="549.3" r="1.05"/>
<circle cx="238.9" cy="539.6" r="0.81"/>
<circle cx="247.2" cy="512.9" r="0.83"/>
<circle cx="251.1" cy="523.7" r="0.98"/>
<circle cx="221.3" cy="528.9" r="0.83"/>
<circle cx="241.8" cy="524.6" r="0.89"/>
<circle cx="211.4" cy="513.1" r="0.77"/>
<circle cx="231.0" cy="513.5" r="0.98"/>
<circle cx="244.1" cy="521.5" r="0.89"/>
<circle cx="250.6" cy="503.5" r="0.96"/>
<circle cx="234.3" cy="537.7" r="0.90"/>
<circle cx="221.3" cy="504.3" r="0.87"/>
<circle cx="202.1" cy="527.4" r="0.77"/>
<circle cx="223.3" cy="547.8" r="0.95"/>
<circle cx="216.8" cy="496.7" r="0.88"/>
<circle cx="261.6" cy="533.2" r="1.05"/>
<circle cx="230.5" cy="493.3" r="0.70"/>
<circle cx="204.2" cy="521.9" r="0.90"/>
<circle cx="221.3" cy="491.6" r="0.77"/>
<circle cx="243.9" cy="531.2" r="0.81"/>
<circle cx="227.3" cy="529.8" r="0.88"/>
<circle cx="215.2" cy="518.3" r="0.88"/>
<circle cx="227.7" cy="511.5" r="0.75"/>
<circle cx="244.1" cy="499.5" r="1.00"/>
<circle cx="253.5" cy="542.4" r="0.83"/>
<circle cx="219.5" cy="515.3" r="1.02"/>
<circle cx="241.1" cy="541.8" r="0.75"/>
<circle cx="241.2" cy="511.8" r="0.82"/>
<circle cx="222.7" cy="522.6" r="0.77"/>
<circle cx="203.9" cy="506.6" r="0.86"/>
<circle cx="262.0" cy="505.9" r="1.01"/>
<circle cx="230.5" cy="532.9" r="1.04"/>
<circle cx="215.3" cy="530.0" r="0.98"/>
<circle cx="226.6" cy="508.6" r="0.90"/>
<circle cx="238.0" cy="492.6" r="1.00"/>
<circle cx="241.0" cy="537.3" r="0.72"/>
<circle cx="222.0" cy="542.6" r="0.87"/>
<circle cx="241.0" cy="517.8" r="0.96"/>
<circle cx="260.0" cy="511.8" r="0.77"/>
<circle cx="248.4" cy="530.9" r="0.87"/>
<circle cx="242.7" cy="489.6" r="0.89"/>
<circle cx="231.0" cy="536.4" r="0.72"/>
<circle cx="250.5" cy="498.7" r="0.86"/>
<circle cx="254.8" cy="525.0" r="0.96"/>
<circle cx="207.1" cy="518.8" r="0.90"/>
<circle cx="248.1" cy="544.0" r="0.76"/>
<circle cx="226.2" cy="540.3" r="1.05"/>
<circle cx="203.6" cy="530.7" r="0.83"/>
<circle cx="219.7" cy="540.4" r="0.72"/>
<circle cx="224.1" cy="537.5" r="0.77"/>
<circle cx="210.4" cy="509.3" r="1.01"/>
<circle cx="226.6" cy="518.1" r="0.89"/>
<circle cx="208.5" cy="502.7" r="0.99"/>
<circle cx="230.8" cy="507.0" r="0.89"/>
<circle cx="216.8" cy="534.9" r="0.93"/>
<circle cx="235.4" cy="541.1" r="0.94"/>
<circle cx="245.1" cy="543.8" r="1.05"/>
<circle cx="203.1" cy="509.7" r="0.77"/>
<circle cx="227.0" cy="503.8" r="0.89"/>
<circle cx="258.4" cy="531.0" r="0.73"/>
<circle cx="251.2" cy="532.2" r="0.84"/>
<circle cx="234.4" cy="527.8" r="0.72"/>
<circle cx="251.3" cy="494.3" r="0.84"/>
<circle cx="235.9" cy="548.3" r="1.02"/>
<circle cx="230.8" cy="529.1" r="1.00"/>
<circle cx="233.0" cy="544.5" r="0.95"/>
<circle cx="254.9" cy="505.4" r="1.04"/>
<circle cx="210.1" cy="498.4" r="0.89"/>
<circle cx="244.2" cy="515.5" r="1.00"/>
<circle cx="237.4" cy="500.6" r="0.88"/>
<circle cx="226.2" cy="549.1" r="0.74"/>
<circle cx="247.7" cy="516.4" r="0.86"/>
<circle cx="209.9" cy="535.0" r="0.95"/>
<circle cx="245.3" cy="528.4" r="0.81"/>
<circle cx="223.0" cy="517.6" r="0.98"/>
<circle cx="249.2" cy="535.1" r="1.00"/>
<circle cx="247.0" cy="490.8" r="0.72"/>
<circle cx="259.3" cy="527.4" r="0.88"/>
<circle cx="226.4" cy="545.6" r="0.95"/>
<circle cx="225.6" cy="521.2" r="0.97"/>
<circle cx="236.7" cy="522.9" r="1.02"/>
<circle cx="211.3" cy="505.8" r="0.77"/>
<circle cx="262.8" cy="523.8" r="0.82"/>
<circle cx="210.7" cy="520.4" r="0.82"/>
<circle cx="226.7" cy="499.0" r="0.99"/>
<circle cx="219.3" cy="547.2" r="0.76"/>
<circle cx="214.6" cy="513.3" r="1.03"/>
<circle cx="225.5" cy="525.9" r="1.02"/>
<circle cx="257.0" cy="533.9" r="0.78"/>
<circle cx="243.4" cy="546.4" r="0.89"/>
<circle cx="263.7" cy="518.8" r="0.74"/>
<circle cx="263.8" cy="511.5" r="1.01"/>
<circle cx="229.3" cy="550.1" r="0.87"/>
<circle cx="256.3" cy="509.8" r="0.92"/>
<circle cx="259.1" cy="503.2" r="0.82"/>
<circle cx="225.6" cy="489.4" r="0.78"/>
<circle cx="239.5" cy="527.0" r="0.90"/>
<circle cx="219.1" cy="532.2" r="0.82"/>
<circle cx="227.4" cy="537.4" r="0.92"/>
<circle cx="225.5" cy="514.5" r="1.04"/>
<circle cx="224.1" cy="501.2" r="0.85"/>
<circle cx="250.5" cy="527.4" r="0.80"/>
<circle cx="206.6" cy="509.4" r="0.87"/>
<circle cx="218.1" cy="511.7" r="0.82"/>
<circle cx="211.9" cy="528.0" r="0.91"/>
</g>
<rect x="277.6" y="477.3" width="84.0" height="83.2" fill="#e2ddf6"/>
<circle cx="320.1" cy="519.4" r="41.1" fill="url(#rim)"/>
<circle cx="319.6" cy="518.9" r="38.1" fill="none" stroke="#c9c1ec" stroke-width="1.3"/>
<circle cx="319.6" cy="518.9" r="35.6" fill="#f3f1fc"/>
<g fill="#352a88">
<circle cx="340.7" cy="500.6" r="0.89"/>
<circle cx="322.6" cy="548.2" r="0.79"/>
<circle cx="328.6" cy="491.0" r="0.95"/>
<circle cx="293.4" cy="525.1" r="0.78"/>
<circle cx="318.9" cy="491.0" r="0.82"/>
<circle cx="327.1" cy="523.3" r="0.72"/>
<circle cx="289.7" cy="520.2" r="0.84"/>
<circle cx="321.9" cy="495.3" r="0.97"/>
<circle cx="289.0" cy="523.6" r="0.93"/>
<circle cx="313.1" cy="523.6" r="0.77"/>
<circle cx="334.4" cy="508.8" r="0.76"/>
<circle cx="351.5" cy="517.5" r="0.80"/>
<circle cx="349.2" cy="522.8" r="0.75"/>
<circle cx="347.3" cy="530.8" r="0.86"/>
<circle cx="321.1" cy="538.5" r="0.72"/>
<circle cx="340.8" cy="514.6" r="0.95"/>
<circle cx="330.2" cy="537.2" r="0.93"/>
<circle cx="328.3" cy="507.9" r="0.95"/>
<circle cx="307.5" cy="531.1" r="1.03"/>
<circle cx="317.5" cy="536.7" r="0.87"/>
<circle cx="335.5" cy="537.5" r="0.75"/>
<circle cx="308.4" cy="499.3" r="1.04"/>
<circle cx="324.6" cy="535.2" r="0.93"/>
<circle cx="297.5" cy="529.5" r="0.93"/>
<circle cx="322.8" cy="489.9" r="0.75"/>
<circle cx="315.8" cy="513.6" r="0.88"/>
<circle cx="335.3" cy="542.3" r="0.74"/>
<circle cx="331.5" cy="523.3" r="0.97"/>
<circle cx="345.2" cy="507.6" r="0.90"/>
<circle cx="308.2" cy="502.8" r="1.02"/>
<circle cx="305.5" cy="517.8" r="0.73"/>
<circle cx="343.1" cy="516.0" r="1.01"/>
<circle cx="305.1" cy="536.8" r="0.86"/>
<circle cx="306.1" cy="547.7" r="0.75"/>
<circle cx="311.1" cy="496.6" r="1.03"/>
<circle cx="299.2" cy="536.6" r="0.79"/>
<circle cx="324.4" cy="514.1" r="0.79"/>
<circle cx="304.3" cy="495.5" r="0.76"/>
<circle cx="339.4" cy="541.1" r="1.04"/>
<circle cx="325.0" cy="550.0" r="0.87"/>
<circle cx="337.9" cy="534.5" r="0.87"/>
<circle cx="307.2" cy="524.2" r="0.87"/>
<circle cx="295.5" cy="534.2" r="0.91"/>
<circle cx="341.3" cy="495.7" r="0.98"/>
<circle cx="326.2" cy="495.2" r="0.84"/>
<circle cx="313.1" cy="520.4" r="0.89"/>
<circle cx="300.3" cy="524.4" r="0.82"/>
<circle cx="310.4" cy="520.0" r="0.78"/>
<circle cx="299.1" cy="506.5" r="0.98"/>
<circle cx="321.3" cy="541.4" r="0.98"/>
<circle cx="341.9" cy="521.1" r="0.75"/>
<circle cx="301.9" cy="501.9" r="0.98"/>
<circle cx="335.3" cy="511.7" r="0.85"/>
<circle cx="292.8" cy="531.0" r="0.75"/>
<circle cx="308.8" cy="508.6" r="0.74"/>
<circle cx="335.2" cy="516.7" r="0.79"/>
<circle cx="301.2" cy="504.5" r="0.85"/>
<circle cx="323.9" cy="523.3" r="1.04"/>
<circle cx="311.4" cy="513.7" r="0.94"/>
<circle cx="338.6" cy="522.0" r="0.95"/>
<circle cx="318.5" cy="508.3" r="0.72"/>
<circle cx="330.5" cy="543.7" r="0.78"/>
<circle cx="323.5" cy="497.9" r="0.92"/>
<circle cx="300.1" cy="520.8" r="0.81"/>
<circle cx="304.0" cy="507.5" r="0.95"/>
<circle cx="305.5" cy="521.9" r="0.71"/>
<circle cx="333.1" cy="536.3" r="1.00"/>
<circle cx="326.3" cy="543.1" r="0.90"/>
<circle cx="315.9" cy="519.0" r="0.95"/>
<circle cx="299.4" cy="527.6" r="0.81"/>
<circle cx="337.0" cy="497.2" r="0.81"/>
<circle cx="321.6" cy="504.2" r="0.94"/>
<circle cx="303.1" cy="542.1" r="0.71"/>
<circle cx="316.4" cy="531.6" r="0.76"/>
<circle cx="328.4" cy="514.8" r="0.92"/>
<circle cx="300.5" cy="543.2" r="0.83"/>
<circle cx="329.9" cy="525.4" r="0.97"/>
<circle cx="304.1" cy="492.4" r="0.96"/>
<circle cx="307.9" cy="542.3" r="0.84"/>
<circle cx="331.8" cy="548.6" r="0.92"/>
<circle cx="292.2" cy="508.3" r="0.86"/>
<circle cx="344.4" cy="520.5" r="0.82"/>
<circle cx="326.8" cy="498.7" r="0.78"/>
<circle cx="299.3" cy="515.2" r="0.73"/>
<circle cx="343.4" cy="533.0" r="0.75"/>
<circle cx="350.5" cy="526.4" r="1.03"/>
<circle cx="311.3" cy="517.4" r="0.79"/>
<circle cx="325.4" cy="503.5" r="0.92"/>
<circle cx="320.7" cy="515.7" r="0.99"/>
<circle cx="316.0" cy="491.8" r="0.80"/>
<circle cx="299.2" cy="496.0" r="0.77"/>
<circle cx="314.7" cy="504.9" r="1.01"/>
<circle cx="310.7" cy="539.9" r="0.81"/>
<circle cx="341.3" cy="537.2" r="0.72"/>
<circle cx="322.1" cy="545.0" r="0.94"/>
<circle cx="327.8" cy="531.4" r="1.03"/>
<circle cx="317.1" cy="523.2" r="0.75"/>
<circle cx="337.4" cy="527.0" r="0.78"/>
<circle cx="347.2" cy="504.6" r="0.75"/>
<circle cx="293.4" cy="501.7" r="1.02"/>
<circle cx="318.5" cy="534.1" r="0.81"/>
<circle cx="331.3" cy="492.1" r="0.81"/>
<circle cx="318.6" cy="528.1" r="0.75"/>
<circle cx="332.2" cy="518.5" r="0.80"/>
<circle cx="342.3" cy="504.6" r="0.93"/>
<circle cx="320.2" cy="487.3" r="0.85"/>
<circle cx="310.5" cy="488.8" r="0.95"/>
<circle cx="295.7" cy="517.7" r="0.89"/>
<circle cx="308.0" cy="519.1" r="0.81"/>
<circle cx="342.7" cy="523.5" r="0.83"/>
<circle cx="326.4" cy="537.9" r="0.92"/>
<circle cx="348.5" cy="508.5" r="0.71"/>
<circle cx="337.3" cy="514.6" r="0.87"/>
<circle cx="329.8" cy="534.6" r="0.91"/>
<circle cx="289.1" cy="515.3" r="0.87"/>
<circle cx="313.5" cy="539.2" r="0.76"/>
<circle cx="335.0" cy="492.6" r="0.91"/>
<circle cx="318.6" cy="512.4" r="0.95"/>
<circle cx="333.2" cy="527.0" r="1.05"/>
<circle cx="345.3" cy="535.7" r="0.74"/>
<circle cx="340.6" cy="530.4" r="0.86"/>
<circle cx="316.8" cy="546.6" r="0.77"/>
<circle cx="297.2" cy="513.8" r="0.82"/>
<circle cx="338.7" cy="493.7" r="0.80"/>
<circle cx="341.6" cy="507.8" r="0.84"/>
<circle cx="348.4" cy="511.8" r="0.92"/>
<circle cx="316.6" cy="500.0" r="0.87"/>
<circle cx="337.3" cy="502.3" r="0.72"/>
<circle cx="311.1" cy="499.3" r="0.72"/>
<circle cx="313.4" cy="548.7" r="0.91"/>
<circle cx="335.1" cy="521.6" r="0.76"/>
<circle cx="333.4" cy="499.9" r="0.84"/>
<circle cx="312.3" cy="534.5" r="0.83"/>
<circle cx="329.7" cy="498.4" r="0.83"/>
<circle cx="335.2" cy="531.9" r="0.88"/>
<circle cx="312.1" cy="527.5" r="0.99"/>
<circle cx="294.1" cy="537.5" r="0.90"/>
<circle cx="295.4" cy="539.8" r="0.88"/>
<circle cx="296.5" cy="497.2" r="1.05"/>
<circle cx="318.4" cy="495.1" r="0.94"/>
<circle cx="324.9" cy="507.6" r="0.71"/>
<circle cx="293.1" cy="514.1" r="0.85"/>
<circle cx="345.6" cy="501.2" r="0.87"/>
<circle cx="326.3" cy="519.3" r="0.75"/>
<circle cx="305.1" cy="528.1" r="0.78"/>
<circle cx="302.4" cy="529.2" r="0.86"/>
<circle cx="329.3" cy="511.8" r="0.95"/>
<circle cx="292.5" cy="520.1" r="0.94"/>
<circle cx="311.3" cy="506.1" r="0.72"/>
<circle cx="301.2" cy="498.4" r="0.94"/>
<circle cx="326.9" cy="487.9" r="1.03"/>
<circle cx="329.1" cy="518.4" r="0.87"/>
<circle cx="314.8" cy="510.8" r="0.75"/>
<circle cx="306.9" cy="506.7" r="0.71"/>
<circle cx="308.8" cy="515.4" r="0.80"/>
<circle cx="316.9" cy="487.4" r="1.02"/>
<circle cx="289.6" cy="511.5" r="0.75"/>
<circle cx="292.0" cy="534.7" r="1.05"/>
<circle cx="328.2" cy="539.8" r="0.71"/>
<circle cx="327.2" cy="546.7" r="1.00"/>
<circle cx="321.7" cy="528.8" r="0.96"/>
<circle cx="337.1" cy="506.2" r="0.80"/>
<circle cx="296.4" cy="511.0" r="0.74"/>
<circle cx="295.9" cy="502.4" r="0.81"/>
<circle cx="314.2" cy="545.6" r="1.04"/>
<circle cx="339.4" cy="504.2" r="0.81"/>
<circle cx="332.9" cy="545.8" r="0.80"/>
<circle cx="321.5" cy="510.1" r="0.73"/>
<circle cx="332.3" cy="513.3" r="0.95"/>
<circle cx="321.9" cy="525.0" r="0.80"/>
<circle cx="295.8" cy="506.0" r="0.91"/>
<circle cx="314.9" cy="502.0" r="0.78"/>
<circle cx="326.7" cy="526.6" r="0.98"/>
<circle cx="317.7" cy="503.2" r="0.84"/>
<circle cx="323.1" cy="519.1" r="0.98"/>
<circle cx="301.1" cy="533.0" r="0.77"/>
<circle cx="310.9" cy="531.0" r="0.95"/>
<circle cx="331.1" cy="509.9" r="0.91"/>
<circle cx="332.2" cy="502.9" r="0.86"/>
<circle cx="323.4" cy="500.7" r="0.98"/>
<circle cx="320.2" cy="498.3" r="0.75"/>
<circle cx="313.1" cy="490.0" r="0.99"/>
<circle cx="318.5" cy="543.6" r="0.78"/>
<circle cx="349.6" cy="514.4" r="0.73"/>
<circle cx="304.2" cy="525.5" r="0.79"/>
<circle cx="349.1" cy="528.6" r="0.95"/>
<circle cx="306.8" cy="538.7" r="0.99"/>
<circle cx="303.8" cy="511.9" r="0.83"/>
<circle cx="309.3" cy="535.1" r="0.83"/>
<circle cx="306.6" cy="494.2" r="0.99"/>
</g>
<rect x="364.6" y="477.3" width="83.4" height="83.2" fill="#e2ddf6"/>
<circle cx="406.8" cy="519.4" r="41.1" fill="url(#rim)"/>
<circle cx="406.3" cy="518.9" r="38.1" fill="none" stroke="#c9c1ec" stroke-width="1.3"/>
<circle cx="406.3" cy="518.9" r="35.6" fill="#f3f1fc"/>
<g fill="#352a88">
<circle cx="426.2" cy="543.4" r="0.86"/>
<circle cx="402.1" cy="487.7" r="0.71"/>
<circle cx="414.3" cy="535.9" r="0.76"/>
<circle cx="395.9" cy="545.2" r="0.84"/>
<circle cx="409.8" cy="524.0" r="0.86"/>
<circle cx="389.6" cy="523.5" r="0.99"/>
<circle cx="398.6" cy="491.4" r="0.86"/>
<circle cx="434.9" cy="520.5" r="0.99"/>
<circle cx="391.0" cy="543.2" r="0.85"/>
<circle cx="419.8" cy="538.9" r="0.75"/>
<circle cx="395.8" cy="493.1" r="1.00"/>
<circle cx="417.5" cy="536.6" r="0.76"/>
<circle cx="396.9" cy="541.2" r="1.01"/>
<circle cx="393.3" cy="491.5" r="0.71"/>
<circle cx="382.0" cy="522.2" r="0.80"/>
<circle cx="412.8" cy="544.6" r="0.92"/>
<circle cx="407.4" cy="516.7" r="0.88"/>
<circle cx="430.8" cy="538.4" r="0.71"/>
<circle cx="425.5" cy="495.4" r="0.82"/>
<circle cx="381.1" cy="506.9" r="1.04"/>
<circle cx="401.4" cy="541.5" r="1.00"/>
<circle cx="431.9" cy="506.1" r="0.89"/>
<circle cx="410.6" cy="537.7" r="0.76"/>
<circle cx="400.7" cy="522.7" r="0.73"/>
<circle cx="382.4" cy="526.9" r="0.78"/>
<circle cx="414.4" cy="541.2" r="0.99"/>
<circle cx="423.0" cy="543.7" r="0.98"/>
<circle cx="389.2" cy="505.3" r="0.74"/>
<circle cx="434.4" cy="514.4" r="0.74"/>
<circle cx="413.4" cy="499.1" r="0.99"/>
<circle cx="390.7" cy="520.2" r="0.96"/>
<circle cx="406.8" cy="525.4" r="0.83"/>
<circle cx="385.3" cy="500.3" r="0.95"/>
<circle cx="395.5" cy="504.0" r="0.78"/>
<circle cx="394.8" cy="510.7" r="0.79"/>
<circle cx="421.7" cy="493.7" r="0.97"/>
<circle cx="418.5" cy="528.3" r="0.85"/>
<circle cx="404.6" cy="523.3" r="0.77"/>
<circle cx="419.8" cy="525.9" r="0.74"/>
<circle cx="409.1" cy="492.9" r="0.95"/>
<circle cx="386.3" cy="520.5" r="0.94"/>
<circle cx="376.9" cy="529.1" r="0.97"/>
<circle cx="407.2" cy="547.7" r="0.72"/>
<circle cx="398.9" cy="548.8" r="0.78"/>
<circle cx="414.6" cy="530.8" r="0.74"/>
<circle cx="399.4" cy="507.0" r="0.92"/>
<circle cx="431.4" cy="532.6" r="0.75"/>
<circle cx="382.4" cy="517.7" r="0.79"/>
<circle cx="417.3" cy="514.6" r="0.85"/>
<circle cx="417.4" cy="490.5" r="0.72"/>
<circle cx="412.9" cy="491.6" r="0.83"/>
<circle cx="422.9" cy="535.4" r="1.03"/>
<circle cx="378.8" cy="518.8" r="1.02"/>
<circle cx="388.7" cy="492.5" r="0.79"/>
<circle cx="432.1" cy="527.7" r="0.90"/>
<circle cx="380.7" cy="499.9" r="0.86"/>
<circle cx="398.7" cy="514.4" r="0.96"/>
<circle cx="399.6" cy="499.4" r="0.96"/>
<circle cx="385.6" cy="529.6" r="0.94"/>
<circle cx="396.9" cy="531.4" r="0.74"/>
<circle cx="395.0" cy="526.2" r="0.82"/>
<circle cx="412.1" cy="507.5" r="1.04"/>
<circle cx="418.7" cy="500.4" r="0.72"/>
<circle cx="409.5" cy="532.7" r="0.97"/>
<circle cx="400.4" cy="536.0" r="1.04"/>
<circle cx="424.0" cy="499.0" r="0.95"/>
<circle cx="422.4" cy="527.1" r="0.81"/>
<circle cx="411.7" cy="496.1" r="0.89"/>
<circle cx="395.9" cy="519.0" r="0.88"/>
<circle cx="416.6" cy="503.9" r="0.93"/>
<circle cx="411.9" cy="527.3" r="0.76"/>
<circle cx="384.1" cy="534.5" r="0.98"/>
<circle cx="410.6" cy="514.7" r="1.03"/>
<circle cx="435.4" cy="506.5" r="0.80"/>
<circle cx="375.2" cy="517.9" r="0.85"/>
<circle cx="437.2" cy="517.1" r="1.01"/>
<circle cx="384.6" cy="509.8" r="0.77"/>
<circle cx="395.8" cy="534.3" r="0.85"/>
<circle cx="402.3" cy="493.3" r="0.92"/>
<circle cx="408.3" cy="529.3" r="0.81"/>
<circle cx="408.0" cy="544.4" r="1.03"/>
<circle cx="377.5" cy="507.5" r="0.88"/>
<circle cx="434.7" cy="510.9" r="0.83"/>
<circle cx="422.2" cy="513.0" r="1.04"/>
<circle cx="378.7" cy="514.0" r="0.81"/>
<circle cx="428.8" cy="515.8" r="0.94"/>
<circle cx="424.0" cy="504.8" r="0.83"/>
<circle cx="400.4" cy="545.8" r="0.80"/>
<circle cx="437.0" cy="513.1" r="0.85"/>
<circle cx="433.2" cy="503.0" r="0.93"/>
<circle cx="426.4" cy="533.9" r="0.88"/>
<circle cx="414.5" cy="547.5" r="1.03"/>
<circle cx="394.4" cy="501.0" r="0.98"/>
<circle cx="415.5" cy="506.5" r="0.88"/>
<circle cx="417.2" cy="545.8" r="0.79"/>
<circle cx="415.9" cy="525.0" r="1.02"/>
<circle cx="385.7" cy="537.7" r="0.89"/>
<circle cx="424.1" cy="516.2" r="0.78"/>
<circle cx="394.0" cy="538.2" r="1.02"/>
<circle cx="387.0" cy="540.7" r="0.84"/>
<circle cx="384.2" cy="497.4" r="0.82"/>
<circle cx="420.0" cy="496.3" r="1.02"/>
<circle cx="420.1" cy="531.2" r="1.05"/>
<circle cx="415.9" cy="522.1" r="0.86"/>
<circle cx="405.5" cy="541.9" r="1.04"/>
<circle cx="424.6" cy="525.3" r="1.05"/>
<circle cx="407.7" cy="508.0" r="0.91"/>
<circle cx="396.0" cy="515.2" r="0.79"/>
<circle cx="392.0" cy="529.5" r="0.75"/>
<circle cx="410.5" cy="489.4" r="0.88"/>
<circle cx="436.7" cy="522.9" r="0.88"/>
<circle cx="427.6" cy="508.0" r="0.97"/>
<circle cx="436.6" cy="527.9" r="0.75"/>
<circle cx="431.9" cy="535.4" r="1.04"/>
<circle cx="421.0" cy="502.2" r="1.04"/>
<circle cx="421.1" cy="509.5" r="0.74"/>
<circle cx="426.8" cy="523.1" r="0.88"/>
<circle cx="426.5" cy="529.6" r="0.71"/>
<circle cx="392.6" cy="495.4" r="0.96"/>
<circle cx="396.9" cy="497.4" r="0.75"/>
<circle cx="381.0" cy="529.5" r="0.83"/>
<circle cx="386.4" cy="516.5" r="0.82"/>
<circle cx="382.5" cy="537.0" r="0.95"/>
<circle cx="386.6" cy="506.5" r="0.83"/>
<circle cx="387.8" cy="531.8" r="0.96"/>
<circle cx="379.5" cy="533.0" r="0.90"/>
<circle cx="405.2" cy="537.8" r="1.00"/>
<circle cx="429.5" cy="518.9" r="0.77"/>
<circle cx="383.6" cy="504.5" r="0.81"/>
<circle cx="407.2" cy="502.1" r="0.86"/>
<circle cx="410.8" cy="503.3" r="0.95"/>
<circle cx="389.7" cy="537.1" r="0.86"/>
<circle cx="428.6" cy="540.2" r="0.86"/>
<circle cx="428.6" cy="504.7" r="1.04"/>
<circle cx="403.7" cy="490.9" r="0.77"/>
<circle cx="389.8" cy="498.5" r="0.71"/>
<circle cx="404.0" cy="549.5" r="0.89"/>
<circle cx="419.8" cy="518.5" r="0.90"/>
<circle cx="375.6" cy="524.1" r="0.89"/>
<circle cx="399.6" cy="527.1" r="0.96"/>
<circle cx="388.9" cy="514.7" r="0.86"/>
<circle cx="408.8" cy="520.9" r="0.85"/>
<circle cx="378.5" cy="504.6" r="0.81"/>
<circle cx="393.2" cy="521.6" r="0.77"/>
<circle cx="404.1" cy="545.8" r="0.85"/>
<circle cx="402.8" cy="506.7" r="0.89"/>
<circle cx="404.8" cy="534.4" r="0.83"/>
<circle cx="434.9" cy="533.3" r="0.78"/>
<circle cx="404.0" cy="503.4" r="0.92"/>
<circle cx="404.2" cy="496.9" r="0.88"/>
<circle cx="386.5" cy="526.7" r="0.71"/>
<circle cx="415.9" cy="497.3" r="0.83"/>
<circle cx="425.2" cy="538.4" r="0.83"/>
<circle cx="402.2" cy="513.5" r="0.89"/>
<circle cx="392.1" cy="525.1" r="1.03"/>
<circle cx="392.2" cy="503.5" r="0.78"/>
<circle cx="393.4" cy="507.1" r="0.86"/>
<circle cx="378.6" cy="522.5" r="1.03"/>
<circle cx="407.9" cy="539.9" r="0.99"/>
<circle cx="414.0" cy="513.7" r="0.93"/>
</g>
<rect x="19.5" y="564.9" width="82.7" height="83.4" fill="#e2ddf6"/>
<circle cx="61.4" cy="607.1" r="40.9" fill="url(#rim)"/>
<circle cx="60.9" cy="606.6" r="37.9" fill="none" stroke="#c9c1ec" stroke-width="1.3"/>
<circle cx="60.9" cy="606.6" r="35.4" fill="#f3f1fc"/>
<g fill="#352a88">
<circle cx="34.0" cy="602.7" r="0.90"/>
<circle cx="47.5" cy="579.8" r="0.73"/>
<circle cx="62.0" cy="591.2" r="1.00"/>
<circle cx="44.3" cy="581.8" r="0.99"/>
<circle cx="56.5" cy="629.4" r="1.02"/>
<circle cx="61.1" cy="601.8" r="1.04"/>
<circle cx="61.9" cy="631.2" r="0.81"/>
<circle cx="50.2" cy="633.5" r="0.93"/>
<circle cx="70.1" cy="627.3" r="0.71"/>
<circle cx="49.5" cy="613.7" r="0.82"/>
<circle cx="70.9" cy="590.7" r="0.94"/>
<circle cx="75.6" cy="615.7" r="0.98"/>
<circle cx="61.2" cy="580.2" r="0.74"/>
<circle cx="63.0" cy="623.9" r="1.01"/>
<circle cx="84.5" cy="608.6" r="0.89"/>
<circle cx="73.1" cy="625.5" r="0.98"/>
<circle cx="45.7" cy="608.4" r="0.77"/>
<circle cx="68.1" cy="635.3" r="0.84"/>
<circle cx="84.5" cy="624.7" r="0.83"/>
<circle cx="36.5" cy="597.8" r="0.97"/>
<circle cx="54.7" cy="579.0" r="0.79"/>
<circle cx="56.2" cy="615.9" r="1.01"/>
<circle cx="63.7" cy="629.4" r="0.77"/>
<circle cx="37.7" cy="607.8" r="1.04"/>
<circle cx="59.6" cy="611.8" r="0.94"/>
<circle cx="54.4" cy="586.7" r="0.89"/>
<circle cx="68.1" cy="637.4" r="1.05"/>
<circle cx="44.3" cy="618.1" r="1.04"/>
<circle cx="48.9" cy="607.9" r="0.89"/>
<circle cx="63.7" cy="575.5" r="0.92"/>
<circle cx="42.8" cy="615.4" r="0.78"/>
<circle cx="62.4" cy="614.9" r="1.02"/>
<circle cx="69.5" cy="581.6" r="0.71"/>
<circle cx="57.6" cy="626.9" r="0.85"/>
<circle cx="73.7" cy="601.1" r="0.75"/>
<circle cx="63.9" cy="626.5" r="0.87"/>
<circle cx="60.1" cy="583.4" r="0.85"/>
<circle cx="40.0" cy="601.7" r="0.78"/>
<circle cx="84.8" cy="615.2" r="0.82"/>
<circle cx="73.3" cy="629.2" r="0.81"/>
<circle cx="67.6" cy="603.0" r="0.87"/>
<circle cx="46.0" cy="596.3" r="0.77"/>
<circle cx="55.6" cy="608.0" r="0.79"/>
<circle cx="89.2" cy="614.4" r="0.81"/>
<circle cx="51.5" cy="612.4" r="0.77"/>
<circle cx="38.6" cy="619.2" r="0.97"/>
<circle cx="89.4" cy="612.2" r="0.96"/>
<circle cx="51.9" cy="619.6" r="0.98"/>
<circle cx="73.0" cy="588.6" r="0.89"/>
<circle cx="70.5" cy="616.4" r="0.91"/>
<circle cx="55.8" cy="583.6" r="0.88"/>
<circle cx="35.6" cy="617.3" r="0.82"/>
<circle cx="54.3" cy="618.0" r="0.76"/>
<circle cx="51.3" cy="595.3" r="0.88"/>
<circle cx="59.5" cy="614.3" r="0.84"/>
<circle cx="43.5" cy="586.9" r="0.84"/>
<circle cx="69.8" cy="596.5" r="1.05"/>
<circle cx="59.4" cy="596.4" r="0.76"/>
<circle cx="36.2" cy="620.8" r="0.73"/>
<circle cx="42.8" cy="610.1" r="0.87"/>
<circle cx="66.1" cy="584.9" r="0.96"/>
<circle cx="53.2" cy="581.2" r="0.94"/>
<circle cx="83.4" cy="619.6" r="0.90"/>
<circle cx="48.6" cy="590.1" r="0.80"/>
<circle cx="56.7" cy="597.7" r="0.81"/>
<circle cx="54.3" cy="575.7" r="0.79"/>
<circle cx="39.5" cy="626.7" r="0.76"/>
<circle cx="75.3" cy="597.4" r="0.83"/>
<circle cx="48.3" cy="632.1" r="0.95"/>
<circle cx="39.1" cy="594.7" r="0.79"/>
<circle cx="48.0" cy="616.7" r="0.77"/>
<circle cx="52.4" cy="600.3" r="0.91"/>
<circle cx="79.3" cy="597.5" r="0.79"/>
<circle cx="33.7" cy="590.8" r="0.78"/>
<circle cx="45.4" cy="628.1" r="0.71"/>
<circle cx="39.9" cy="606.0" r="0.85"/>
<circle cx="41.0" cy="589.4" r="0.76"/>
<circle cx="68.3" cy="623.2" r="0.76"/>
<circle cx="51.2" cy="627.9" r="0.98"/>
<circle cx="90.8" cy="606.0" r="0.71"/>
<circle cx="61.5" cy="634.2" r="0.98"/>
<circle cx="51.1" cy="615.9" r="1.03"/>
<circle cx="67.1" cy="580.4" r="0.80"/>
<circle cx="45.9" cy="587.2" r="0.73"/>
<circle cx="78.6" cy="599.7" r="0.85"/>
<circle cx="41.5" cy="630.1" r="1.03"/>
<circle cx="81.6" cy="610.6" r="0.93"/>
<circle cx="64.2" cy="604.5" r="0.80"/>
<circle cx="54.6" cy="599.2" r="0.94"/>
<circle cx="74.9" cy="618.6" r="0.84"/>
<circle cx="52.6" cy="607.9" r="0.77"/>
<circle cx="83.1" cy="592.7" r="0.89"/>
<circle cx="39.0" cy="614.1" r="0.91"/>
<circle cx="77.6" cy="625.2" r="0.75"/>
<circle cx="91.0" cy="596.9" r="0.98"/>
<circle cx="33.4" cy="613.6" r="0.94"/>
<circle cx="43.4" cy="633.1" r="0.84"/>
<circle cx="43.9" cy="624.3" r="0.98"/>
<circle cx="58.6" cy="619.7" r="0.91"/>
<circle cx="65.5" cy="599.4" r="0.79"/>
<circle cx="44.4" cy="613.9" r="0.96"/>
<circle cx="36.9" cy="600.7" r="1.04"/>
<circle cx="77.5" cy="590.7" r="0.99"/>
<circle cx="53.1" cy="591.2" r="0.85"/>
<circle cx="56.0" cy="588.7" r="0.77"/>
<circle cx="82.3" cy="622.6" r="0.87"/>
<circle cx="88.5" cy="593.9" r="0.89"/>
<circle cx="75.1" cy="588.0" r="0.96"/>
<circle cx="38.9" cy="610.4" r="0.96"/>
<circle cx="48.4" cy="610.0" r="0.89"/>
<circle cx="91.5" cy="614.8" r="0.76"/>
<circle cx="65.8" cy="633.9" r="0.86"/>
<circle cx="48.1" cy="634.4" r="0.96"/>
<circle cx="71.6" cy="634.2" r="0.95"/>
<circle cx="75.8" cy="599.8" r="0.78"/>
<circle cx="79.7" cy="631.2" r="0.78"/>
<circle cx="52.9" cy="624.0" r="0.83"/>
<circle cx="79.6" cy="615.5" r="0.83"/>
<circle cx="66.6" cy="609.4" r="0.81"/>
<circle cx="82.2" cy="615.7" r="0.95"/>
<circle cx="84.6" cy="603.7" r="0.83"/>
<circle cx="47.1" cy="584.9" r="0.87"/>
<circle cx="51.9" cy="604.0" r="0.88"/>
<circle cx="43.7" cy="606.3" r="0.92"/>
<circle cx="91.6" cy="611.0" r="0.95"/>
<circle cx="52.3" cy="630.2" r="0.83"/>
<circle cx="81.7" cy="587.9" r="0.79"/>
<circle cx="73.6" cy="621.8" r="0.95"/>
<circle cx="76.6" cy="595.5" r="0.99"/>
<circle cx="49.9" cy="588.3" r="1.02"/>
<circle cx="55.5" cy="591.6" r="0.94"/>
<circle cx="33.4" cy="609.5" r="0.84"/>
<circle cx="61.0" cy="625.3" r="0.83"/>
<circle cx="67.7" cy="587.3" r="0.77"/>
<circle cx="48.7" cy="602.0" r="0.80"/>
<circle cx="36.6" cy="591.3" r="0.89"/>
<circle cx="63.2" cy="584.5" r="0.79"/>
<circle cx="65.2" cy="591.8" r="0.97"/>
<circle cx="75.0" cy="593.8" r="0.99"/>
<circle cx="64.5" cy="637.3" r="0.79"/>
<circle cx="80.6" cy="626.9" r="1.02"/>
<circle cx="63.8" cy="578.9" r="0.78"/>
<circle cx="73.2" cy="611.2" r="0.83"/>
<circle cx="69.3" cy="607.7" r="0.84"/>
<circle cx="71.9" cy="602.5" r="0.73"/>
<circle cx="69.1" cy="584.1" r="0.86"/>
<circle cx="46.4" cy="625.8" r="1.01"/>
<circle cx="58.9" cy="607.7" r="0.81"/>
<circle cx="65.3" cy="614.3" r="0.96"/>
<circle cx="43.0" cy="621.5" r="0.94"/>
<circle cx="72.9" cy="579.1" r="0.84"/>
<circle cx="57.2" cy="612.1" r="0.90"/>
<circle cx="70.8" cy="623.4" r="1.03"/>
<circle cx="66.9" cy="620.4" r="0.80"/>
<circle cx="34.9" cy="604.9" r="1.05"/>
<circle cx="47.9" cy="628.7" r="0.70"/>
<circle cx="62.4" cy="596.0" r="0.86"/>
<circle cx="67.1" cy="625.4" r="0.90"/>
<circle cx="80.8" cy="599.8" r="0.97"/>
<circle cx="78.8" cy="592.7" r="0.80"/>
<circle cx="39.7" cy="598.4" r="0.75"/>
<circle cx="32.5" cy="606.4" r="0.71"/>
<circle cx="84.1" cy="617.4" r="1.03"/>
<circle cx="41.8" cy="584.4" r="1.03"/>
<circle cx="46.1" cy="604.8" r="0.87"/>
<circle cx="67.5" cy="598.3" r="0.90"/>
<circle cx="89.9" cy="618.6" r="1.05"/>
<circle cx="57.2" cy="576.7" r="0.99"/>
<circle cx="44.7" cy="589.4" r="1.03"/>
<circle cx="73.4" cy="598.5" r="0.71"/>
<circle cx="53.6" cy="628.3" r="0.98"/>
<circle cx="76.3" cy="622.2" r="1.05"/>
<circle cx="54.4" cy="620.4" r="0.93"/>
<circle cx="36.9" cy="595.0" r="0.94"/>
<circle cx="79.9" cy="583.0" r="1.00"/>
<circle cx="60.8" cy="588.3" r="1.05"/>
<circle cx="62.0" cy="627.5" r="0.83"/>
<circle cx="47.9" cy="622.8" r="1.03"/>
<circle cx="55.7" cy="622.7" r="0.74"/>
<circle cx="31.3" cy="618.0" r="0.82"/>
<circle cx="61.0" cy="608.0" r="0.79"/>
<circle cx="56.0" cy="631.4" r="0.80"/>
<circle cx="85.1" cy="588.2" r="1.01"/>
<circle cx="66.9" cy="616.4" r="0.78"/>
<circle cx="63.7" cy="616.9" r="0.95"/>
<circle cx="70.3" cy="612.5" r="0.96"/>
<circle cx="76.7" cy="580.5" r="0.71"/>
<circle cx="42.6" cy="580.5" r="1.03"/>
<circle cx="77.7" cy="587.2" r="0.91"/>
<circle cx="42.0" cy="595.8" r="0.98"/>
<circle cx="40.9" cy="621.3" r="0.80"/>
<circle cx="29.2" cy="604.5" r="1.01"/>
<circle cx="79.0" cy="621.7" r="0.84"/>
<circle cx="48.6" cy="586.6" r="0.93"/>
<circle cx="36.7" cy="612.6" r="0.96"/>
<circle cx="80.8" cy="608.2" r="0.90"/>
<circle cx="82.8" cy="605.5" r="0.89"/>
<circle cx="75.7" cy="603.6" r="0.89"/>
<circle cx="42.3" cy="602.0" r="0.96"/>
<circle cx="77.9" cy="614.0" r="0.76"/>
<circle cx="57.2" cy="624.3" r="0.92"/>
<circle cx="50.7" cy="621.7" r="0.98"/>
<circle cx="85.2" cy="621.4" r="0.78"/>
<circle cx="66.7" cy="582.6" r="0.74"/>
<circle cx="80.3" cy="618.9" r="1.04"/>
<circle cx="56.3" cy="601.6" r="0.89"/>
<circle cx="82.9" cy="595.1" r="0.78"/>
<circle cx="83.0" cy="600.5" r="0.81"/>
<circle cx="45.5" cy="592.0" r="0.71"/>
<circle cx="60.5" cy="604.1" r="0.96"/>
<circle cx="53.1" cy="597.3" r="0.76"/>
<circle cx="86.7" cy="604.9" r="0.73"/>
<circle cx="38.4" cy="621.6" r="0.91"/>
<circle cx="72.0" cy="619.8" r="0.77"/>
<circle cx="33.6" cy="622.6" r="1.02"/>
<circle cx="45.8" cy="599.6" r="0.88"/>
<circle cx="53.6" cy="634.5" r="0.81"/>
<circle cx="34.0" cy="620.5" r="0.97"/>
<circle cx="74.1" cy="591.9" r="0.82"/>
<circle cx="59.3" cy="629.5" r="1.03"/>
<circle cx="70.2" cy="587.9" r="1.02"/>
<circle cx="83.1" cy="585.4" r="1.01"/>
<circle cx="62.4" cy="599.2" r="0.90"/>
<circle cx="82.0" cy="590.4" r="0.91"/>
<circle cx="57.4" cy="590.3" r="0.76"/>
<circle cx="30.5" cy="613.0" r="0.80"/>
<circle cx="46.4" cy="613.0" r="0.73"/>
<circle cx="63.7" cy="619.6" r="0.71"/>
<circle cx="62.2" cy="609.7" r="1.00"/>
<circle cx="41.4" cy="582.3" r="0.91"/>
<circle cx="77.5" cy="602.3" r="0.89"/>
<circle cx="30.5" cy="598.8" r="1.03"/>
<circle cx="33.3" cy="599.3" r="0.77"/>
<circle cx="86.9" cy="617.4" r="1.03"/>
<circle cx="90.6" cy="603.0" r="0.76"/>
<circle cx="41.7" cy="624.9" r="0.99"/>
<circle cx="42.9" cy="593.1" r="1.03"/>
<circle cx="87.3" cy="621.9" r="0.89"/>
<circle cx="77.4" cy="630.4" r="0.79"/>
<circle cx="69.2" cy="631.3" r="0.89"/>
<circle cx="78.5" cy="608.7" r="1.00"/>
<circle cx="49.4" cy="618.4" r="0.81"/>
<circle cx="89.4" cy="608.8" r="1.04"/>
<circle cx="58.7" cy="592.4" r="0.77"/>
<circle cx="49.2" cy="592.6" r="0.77"/>
<circle cx="86.4" cy="592.3" r="1.00"/>
<circle cx="60.6" cy="576.6" r="0.75"/>
<circle cx="74.5" cy="607.0" r="0.87"/>
<circle cx="72.0" cy="593.8" r="0.89"/>
<circle cx="60.5" cy="621.8" r="0.91"/>
<circle cx="32.5" cy="595.4" r="0.87"/>
<circle cx="40.9" cy="611.1" r="0.95"/>
<circle cx="40.6" cy="616.0" r="0.88"/>
<circle cx="86.9" cy="613.3" r="0.82"/>
<circle cx="42.0" cy="618.7" r="0.76"/>
<circle cx="40.7" cy="592.9" r="0.83"/>
<circle cx="50.3" cy="624.9" r="0.80"/>
<circle cx="71.3" cy="583.5" r="0.90"/>
<circle cx="55.2" cy="636.3" r="0.80"/>
<circle cx="73.8" cy="613.6" r="1.01"/>
<circle cx="61.6" cy="637.5" r="0.86"/>
<circle cx="74.1" cy="635.2" r="0.75"/>
<circle cx="77.2" cy="611.3" r="0.94"/>
<circle cx="85.9" cy="596.5" r="0.86"/>
<circle cx="48.7" cy="604.9" r="1.03"/>
<circle cx="88.6" cy="601.9" r="1.00"/>
<circle cx="68.3" cy="590.8" r="0.98"/>
<circle cx="83.2" cy="628.3" r="0.89"/>
<circle cx="74.7" cy="584.9" r="0.97"/>
<circle cx="76.0" cy="632.7" r="0.82"/>
<circle cx="87.7" cy="607.0" r="1.05"/>
<circle cx="63.8" cy="606.7" r="0.96"/>
<circle cx="58.0" cy="582.6" r="0.73"/>
<circle cx="88.1" cy="597.1" r="0.95"/>
<circle cx="35.0" cy="588.3" r="0.71"/>
<circle cx="52.8" cy="589.1" r="0.82"/>
<circle cx="50.8" cy="598.6" r="0.91"/>
<circle cx="65.9" cy="577.7" r="0.88"/>
<circle cx="69.0" cy="577.7" r="0.74"/>
<circle cx="75.5" cy="624.5" r="0.99"/>
</g>
<rect x="105.2" y="564.9" width="83.8" height="83.4" fill="#e2ddf6"/>
<circle cx="147.6" cy="607.1" r="41.2" fill="url(#rim)"/>
<circle cx="147.1" cy="606.6" r="38.2" fill="none" stroke="#c9c1ec" stroke-width="1.3"/>
<circle cx="147.1" cy="606.6" r="35.7" fill="#f3f1fc"/>
<g fill="#352a88">
<circle cx="145.5" cy="610.1" r="0.76"/>
<circle cx="132.1" cy="587.3" r="0.86"/>
<circle cx="152.4" cy="623.8" r="0.72"/>
<circle cx="170.6" cy="623.8" r="1.05"/>
<circle cx="164.8" cy="600.3" r="0.75"/>
<circle cx="156.9" cy="635.1" r="0.93"/>
<circle cx="177.5" cy="602.9" r="0.78"/>
<circle cx="155.2" cy="627.9" r="0.94"/>
<circle cx="164.3" cy="585.1" r="0.99"/>
<circle cx="159.7" cy="587.4" r="0.94"/>
<circle cx="159.2" cy="616.8" r="0.81"/>
<circle cx="137.7" cy="626.8" r="0.98"/>
<circle cx="157.0" cy="619.4" r="1.04"/>
<circle cx="147.4" cy="626.6" r="0.89"/>
<circle cx="145.8" cy="589.3" r="0.81"/>
<circle cx="143.5" cy="598.0" r="1.03"/>
<circle cx="174.8" cy="606.9" r="0.73"/>
<circle cx="140.9" cy="583.4" r="0.92"/>
<circle cx="166.0" cy="588.0" r="0.78"/>
<circle cx="136.9" cy="616.0" r="1.02"/>
<circle cx="121.4" cy="623.5" r="0.75"/>
<circle cx="170.8" cy="612.9" r="0.83"/>
<circle cx="167.5" cy="605.5" r="1.04"/>
<circle cx="122.7" cy="587.5" r="0.82"/>
<circle cx="122.9" cy="607.1" r="0.89"/>
<circle cx="122.1" cy="600.7" r="1.01"/>
<circle cx="156.0" cy="594.8" r="0.89"/>
<circle cx="162.0" cy="630.3" r="0.73"/>
<circle cx="151.5" cy="597.9" r="1.03"/>
<circle cx="155.4" cy="598.6" r="1.04"/>
<circle cx="145.8" cy="615.5" r="0.79"/>
<circle cx="155.0" cy="588.7" r="0.98"/>
<circle cx="162.9" cy="593.7" r="0.96"/>
<circle cx="171.3" cy="599.2" r="1.02"/>
<circle cx="131.2" cy="610.0" r="1.02"/>
<circle cx="158.1" cy="579.8" r="0.85"/>
<circle cx="152.4" cy="592.7" r="0.83"/>
<circle cx="133.9" cy="579.6" r="0.97"/>
<circle cx="118.9" cy="595.6" r="0.92"/>
<circle cx="167.8" cy="620.0" r="0.73"/>
<circle cx="123.3" cy="614.2" r="0.90"/>
<circle cx="170.2" cy="587.0" r="0.98"/>
<circle cx="150.7" cy="589.9" r="0.83"/>
<circle cx="135.8" cy="606.6" r="0.88"/>
<circle cx="124.3" cy="625.6" r="0.87"/>
<circle cx="136.5" cy="586.0" r="0.74"/>
<circle cx="147.0" cy="581.4" r="0.97"/>
<circle cx="151.4" cy="628.1" r="0.85"/>
<circle cx="177.8" cy="615.8" r="1.00"/>
<circle cx="131.1" cy="625.2" r="0.90"/>
<circle cx="116.8" cy="607.1" r="0.97"/>
<circle cx="152.1" cy="586.6" r="0.92"/>
<circle cx="153.1" cy="581.4" r="0.81"/>
<circle cx="174.0" cy="596.4" r="0.81"/>
<circle cx="133.9" cy="597.4" r="0.88"/>
<circle cx="134.5" cy="621.2" r="1.03"/>
<circle cx="176.4" cy="610.5" r="0.71"/>
<circle cx="136.9" cy="611.8" r="0.72"/>
<circle cx="132.1" cy="617.0" r="1.00"/>
<circle cx="142.6" cy="614.4" r="1.05"/>
<circle cx="169.8" cy="593.1" r="0.96"/>
<circle cx="138.1" cy="622.9" r="0.78"/>
<circle cx="116.8" cy="614.5" r="0.96"/>
<circle cx="138.7" cy="591.6" r="0.95"/>
<circle cx="119.5" cy="611.3" r="0.99"/>
<circle cx="151.8" cy="602.8" r="0.70"/>
<circle cx="126.9" cy="592.8" r="0.75"/>
<circle cx="137.0" cy="595.1" r="0.78"/>
<circle cx="152.6" cy="635.8" r="0.94"/>
<circle cx="139.2" cy="579.4" r="0.81"/>
<circle cx="145.0" cy="636.9" r="0.71"/>
<circle cx="178.3" cy="607.5" r="0.76"/>
<circle cx="159.4" cy="626.1" r="1.05"/>
<circle cx="147.7" cy="594.0" r="0.72"/>
<circle cx="171.8" cy="618.6" r="1.03"/>
<circle cx="144.0" cy="604.8" r="1.01"/>
<circle cx="165.1" cy="627.3" r="0.79"/>
<circle cx="151.4" cy="620.0" r="0.95"/>
<circle cx="124.7" cy="595.7" r="1.01"/>
<circle cx="134.7" cy="590.4" r="0.97"/>
<circle cx="127.2" cy="618.7" r="0.87"/>
<circle cx="166.4" cy="616.1" r="0.82"/>
<circle cx="129.0" cy="605.7" r="0.85"/>
<circle cx="142.6" cy="626.6" r="0.71"/>
<circle cx="127.3" cy="582.4" r="1.03"/>
<circle cx="150.8" cy="632.3" r="0.93"/>
<circle cx="118.7" cy="599.4" r="0.88"/>
<circle cx="118.0" cy="618.6" r="1.03"/>
<circle cx="139.1" cy="631.8" r="0.95"/>
<circle cx="156.9" cy="610.3" r="0.75"/>
<circle cx="129.1" cy="614.8" r="0.79"/>
<circle cx="130.4" cy="590.9" r="0.72"/>
<circle cx="152.1" cy="609.4" r="0.92"/>
<circle cx="169.3" cy="629.9" r="0.90"/>
<circle cx="159.1" cy="598.4" r="0.82"/>
<circle cx="159.7" cy="592.2" r="0.89"/>
<circle cx="142.6" cy="634.0" r="0.81"/>
<circle cx="127.4" cy="586.9" r="0.81"/>
<circle cx="144.6" cy="629.8" r="1.00"/>
<circle cx="164.7" cy="621.5" r="1.05"/>
<circle cx="149.8" cy="575.9" r="0.76"/>
<circle cx="139.1" cy="601.0" r="0.98"/>
<circle cx="155.9" cy="577.2" r="1.04"/>
<circle cx="147.7" cy="602.2" r="0.94"/>
<circle cx="133.4" cy="631.0" r="1.01"/>
<circle cx="142.5" cy="593.8" r="0.77"/>
<circle cx="175.7" cy="593.4" r="1.00"/>
<circle cx="161.6" cy="602.5" r="0.82"/>
<circle cx="158.8" cy="605.6" r="0.81"/>
<circle cx="139.5" cy="607.6" r="0.84"/>
<circle cx="144.5" cy="584.9" r="0.98"/>
<circle cx="126.2" cy="608.5" r="0.85"/>
<circle cx="136.0" cy="634.4" r="0.94"/>
<circle cx="120.2" cy="590.9" r="0.88"/>
<circle cx="141.2" cy="619.0" r="1.03"/>
</g>
<rect x="191.4" y="564.9" width="83.2" height="83.4" fill="#e2ddf6"/>
<circle cx="233.5" cy="607.1" r="41.1" fill="url(#rim)"/>
<circle cx="233.0" cy="606.6" r="38.1" fill="none" stroke="#c9c1ec" stroke-width="1.3"/>
<circle cx="233.0" cy="606.6" r="35.6" fill="#f3f1fc"/>
<g fill="#352a88">
<circle cx="240.8" cy="586.9" r="0.94"/>
<circle cx="237.3" cy="600.5" r="0.72"/>
<circle cx="252.0" cy="599.1" r="0.93"/>
<circle cx="201.8" cy="605.4" r="0.88"/>
<circle cx="235.8" cy="612.3" r="0.82"/>
<circle cx="243.2" cy="612.1" r="0.85"/>
<circle cx="210.5" cy="618.6" r="0.99"/>
<circle cx="219.4" cy="582.6" r="0.76"/>
<circle cx="221.2" cy="602.7" r="1.03"/>
<circle cx="221.6" cy="608.1" r="0.76"/>
<circle cx="236.3" cy="586.0" r="0.83"/>
<circle cx="229.4" cy="607.4" r="0.75"/>
<circle cx="213.5" cy="607.1" r="0.90"/>
<circle cx="244.5" cy="580.1" r="0.94"/>
<circle cx="231.0" cy="576.8" r="1.02"/>
<circle cx="230.5" cy="628.3" r="0.79"/>
<circle cx="252.2" cy="613.4" r="0.78"/>
<circle cx="229.3" cy="579.7" r="0.96"/>
<circle cx="220.7" cy="625.4" r="1.04"/>
<circle cx="223.8" cy="622.1" r="1.02"/>
<circle cx="238.0" cy="616.4" r="1.00"/>
<circle cx="240.5" cy="599.6" r="0.98"/>
<circle cx="240.3" cy="636.2" r="0.94"/>
<circle cx="223.7" cy="604.2" r="0.85"/>
<circle cx="228.7" cy="588.0" r="0.97"/>
<circle cx="221.6" cy="617.9" r="0.86"/>
<circle cx="252.1" cy="595.0" r="0.85"/>
<circle cx="245.4" cy="632.0" r="1.02"/>
<circle cx="223.5" cy="598.8" r="1.04"/>
<circle cx="209.2" cy="604.8" r="1.03"/>
<circle cx="208.1" cy="621.4" r="0.92"/>
<circle cx="248.4" cy="634.0" r="0.83"/>
<circle cx="219.1" cy="633.1" r="0.76"/>
<circle cx="254.2" cy="586.7" r="0.91"/>
<circle cx="246.8" cy="591.9" r="1.00"/>
<circle cx="255.6" cy="602.3" r="0.73"/>
<circle cx="260.1" cy="609.3" r="1.00"/>
<circle cx="224.4" cy="615.6" r="0.97"/>
<circle cx="203.9" cy="608.4" r="0.84"/>
<circle cx="219.4" cy="620.5" r="0.73"/>
<circle cx="244.9" cy="595.7" r="0.76"/>
<circle cx="225.5" cy="628.9" r="0.90"/>
<circle cx="212.0" cy="600.3" r="0.91"/>
<circle cx="247.7" cy="602.0" r="0.87"/>
<circle cx="242.8" cy="602.4" r="0.83"/>
<circle cx="225.1" cy="619.0" r="1.05"/>
<circle cx="206.4" cy="597.6" r="1.00"/>
<circle cx="214.0" cy="581.7" r="0.71"/>
<circle cx="229.6" cy="593.5" r="0.75"/>
<circle cx="243.5" cy="621.2" r="0.87"/>
<circle cx="214.3" cy="610.3" r="0.79"/>
<circle cx="232.1" cy="615.7" r="0.88"/>
<circle cx="210.6" cy="593.7" r="0.85"/>
<circle cx="241.0" cy="595.3" r="0.79"/>
<circle cx="224.8" cy="637.6" r="0.83"/>
<circle cx="231.9" cy="633.7" r="0.74"/>
<circle cx="231.2" cy="620.6" r="0.71"/>
<circle cx="212.7" cy="621.1" r="0.81"/>
<circle cx="218.7" cy="598.1" r="0.92"/>
<circle cx="256.9" cy="611.6" r="0.70"/>
<circle cx="213.3" cy="588.1" r="0.71"/>
<circle cx="250.3" cy="610.5" r="0.81"/>
<circle cx="232.7" cy="611.3" r="1.00"/>
<circle cx="221.3" cy="593.4" r="0.70"/>
<circle cx="255.6" cy="596.6" r="0.86"/>
<circle cx="207.2" cy="609.2" r="0.73"/>
<circle cx="261.3" cy="604.5" r="0.92"/>
<circle cx="260.1" cy="612.8" r="0.89"/>
<circle cx="246.7" cy="613.9" r="0.92"/>
<circle cx="224.7" cy="593.0" r="0.79"/>
<circle cx="217.2" cy="590.7" r="0.79"/>
<circle cx="256.7" cy="620.3" r="1.01"/>
<circle cx="206.6" cy="588.4" r="0.99"/>
<circle cx="234.6" cy="588.5" r="1.02"/>
<circle cx="229.8" cy="613.6" r="0.92"/>
<circle cx="236.2" cy="636.4" r="0.93"/>
<circle cx="210.7" cy="623.3" r="0.84"/>
<circle cx="214.6" cy="626.9" r="0.96"/>
<circle cx="238.1" cy="633.0" r="0.90"/>
<circle cx="244.1" cy="635.2" r="0.71"/>
<circle cx="255.0" cy="614.2" r="0.84"/>
<circle cx="219.5" cy="577.7" r="1.03"/>
<circle cx="231.5" cy="596.2" r="1.02"/>
<circle cx="217.5" cy="586.5" r="0.83"/>
<circle cx="232.2" cy="605.3" r="0.75"/>
<circle cx="227.9" cy="602.5" r="0.87"/>
<circle cx="259.3" cy="616.2" r="0.89"/>
<circle cx="227.8" cy="583.6" r="0.71"/>
<circle cx="245.1" cy="606.2" r="0.90"/>
<circle cx="221.8" cy="580.5" r="0.87"/>
<circle cx="231.8" cy="585.5" r="0.76"/>
<circle cx="243.8" cy="591.5" r="0.98"/>
<circle cx="226.1" cy="586.0" r="0.83"/>
<circle cx="201.6" cy="611.7" r="0.77"/>
<circle cx="225.9" cy="581.0" r="0.80"/>
<circle cx="248.5" cy="584.0" r="0.80"/>
<circle cx="239.2" cy="611.5" r="0.96"/>
<circle cx="241.8" cy="627.6" r="0.98"/>
<circle cx="259.5" cy="591.1" r="0.72"/>
<circle cx="234.6" cy="631.1" r="0.96"/>
<circle cx="223.8" cy="611.3" r="0.70"/>
<circle cx="263.2" cy="599.2" r="0.85"/>
<circle cx="237.0" cy="603.5" r="0.99"/>
<circle cx="224.1" cy="578.0" r="0.82"/>
<circle cx="212.6" cy="596.4" r="0.94"/>
<circle cx="245.4" cy="600.4" r="0.82"/>
<circle cx="209.7" cy="585.8" r="0.86"/>
<circle cx="218.7" cy="609.2" r="1.03"/>
<circle cx="213.0" cy="615.6" r="0.94"/>
<circle cx="237.9" cy="594.5" r="0.85"/>
<circle cx="227.8" cy="577.0" r="0.84"/>
<circle cx="217.5" cy="618.0" r="1.02"/>
<circle cx="234.8" cy="595.1" r="0.88"/>
<circle cx="245.6" cy="589.2" r="0.91"/>
<circle cx="205.0" cy="620.0" r="0.97"/>
<circle cx="236.8" cy="591.4" r="0.70"/>
<circle cx="227.3" cy="591.1" r="0.72"/>
<circle cx="222.4" cy="635.1" r="0.76"/>
<circle cx="251.8" cy="589.9" r="0.83"/>
<circle cx="234.0" cy="601.6" r="1.02"/>
<circle cx="249.4" cy="579.6" r="0.76"/>
<circle cx="252.4" cy="607.5" r="0.94"/>
<circle cx="250.7" cy="619.9" r="0.72"/>
<circle cx="252.5" cy="630.6" r="0.86"/>
<circle cx="207.3" cy="592.5" r="0.81"/>
<circle cx="219.3" cy="605.6" r="0.93"/>
<circle cx="260.0" cy="599.5" r="0.92"/>
<circle cx="233.7" cy="577.9" r="0.92"/>
<circle cx="208.3" cy="625.9" r="0.98"/>
<circle cx="216.7" cy="600.8" r="0.83"/>
<circle cx="203.8" cy="600.2" r="0.98"/>
<circle cx="209.5" cy="612.5" r="0.75"/>
<circle cx="256.4" cy="592.6" r="0.88"/>
<circle cx="235.6" cy="582.8" r="0.83"/>
<circle cx="245.0" cy="585.5" r="1.03"/>
<circle cx="235.2" cy="626.5" r="0.75"/>
<circle cx="239.8" cy="604.1" r="0.81"/>
<circle cx="258.8" cy="595.4" r="0.89"/>
<circle cx="243.3" cy="615.8" r="0.74"/>
<circle cx="219.8" cy="589.1" r="0.90"/>
<circle cx="206.6" cy="612.5" r="0.72"/>
<circle cx="262.1" cy="618.0" r="0.74"/>
<circle cx="231.4" cy="581.9" r="0.88"/>
<circle cx="254.2" cy="625.9" r="0.75"/>
<circle cx="211.9" cy="590.7" r="0.81"/>
<circle cx="251.1" cy="581.9" r="0.72"/>
<circle cx="218.0" cy="613.9" r="0.73"/>
<circle cx="230.0" cy="624.4" r="0.80"/>
<circle cx="242.6" cy="631.4" r="1.03"/>
<circle cx="240.6" cy="620.2" r="0.93"/>
<circle cx="247.4" cy="617.7" r="0.78"/>
<circle cx="214.2" cy="629.7" r="0.94"/>
<circle cx="214.9" cy="593.5" r="1.02"/>
<circle cx="207.4" cy="600.8" r="0.93"/>
<circle cx="247.2" cy="628.7" r="0.82"/>
</g>
<rect x="277.6" y="564.9" width="84.0" height="83.4" fill="#e2ddf6"/>
<circle cx="320.1" cy="607.1" r="41.2" fill="url(#rim)"/>
<circle cx="319.6" cy="606.6" r="38.2" fill="none" stroke="#c9c1ec" stroke-width="1.3"/>
<circle cx="319.6" cy="606.6" r="35.7" fill="#f3f1fc"/>
<g fill="#352a88">
<circle cx="330.2" cy="580.1" r="0.86"/>
<circle cx="316.6" cy="612.9" r="0.78"/>
<circle cx="322.0" cy="626.7" r="0.98"/>
<circle cx="308.9" cy="580.7" r="0.93"/>
<circle cx="325.7" cy="624.4" r="0.88"/>
<circle cx="305.3" cy="627.0" r="0.98"/>
<circle cx="310.6" cy="604.4" r="0.70"/>
<circle cx="325.9" cy="581.1" r="0.90"/>
<circle cx="302.7" cy="614.9" r="0.98"/>
<circle cx="300.7" cy="594.2" r="0.82"/>
<circle cx="323.8" cy="583.6" r="0.82"/>
<circle cx="332.2" cy="586.3" r="1.04"/>
<circle cx="314.7" cy="587.5" r="0.97"/>
<circle cx="308.8" cy="615.3" r="0.90"/>
<circle cx="314.6" cy="630.5" r="0.91"/>
<circle cx="316.1" cy="618.4" r="0.93"/>
<circle cx="306.5" cy="634.9" r="0.76"/>
<circle cx="308.8" cy="594.5" r="0.78"/>
<circle cx="338.4" cy="601.1" r="0.83"/>
<circle cx="330.1" cy="611.3" r="0.91"/>
<circle cx="300.7" cy="610.8" r="0.91"/>
<circle cx="325.8" cy="619.3" r="0.75"/>
<circle cx="304.5" cy="602.4" r="0.78"/>
<circle cx="343.3" cy="596.6" r="0.81"/>
<circle cx="346.1" cy="618.6" r="0.83"/>
<circle cx="298.6" cy="587.8" r="1.01"/>
<circle cx="294.0" cy="615.0" r="1.05"/>
<circle cx="336.7" cy="579.9" r="0.96"/>
<circle cx="322.6" cy="607.8" r="0.78"/>
<circle cx="337.9" cy="593.2" r="0.78"/>
<circle cx="324.5" cy="604.1" r="0.77"/>
<circle cx="297.1" cy="624.6" r="0.76"/>
<circle cx="311.4" cy="630.8" r="0.89"/>
<circle cx="311.0" cy="612.8" r="0.75"/>
<circle cx="336.3" cy="612.2" r="0.96"/>
<circle cx="299.2" cy="628.8" r="0.90"/>
<circle cx="298.9" cy="590.5" r="0.88"/>
<circle cx="309.8" cy="625.4" r="1.04"/>
<circle cx="319.4" cy="616.6" r="0.80"/>
<circle cx="334.5" cy="587.7" r="1.05"/>
<circle cx="309.0" cy="633.8" r="0.76"/>
<circle cx="318.7" cy="586.1" r="0.97"/>
<circle cx="336.7" cy="608.7" r="0.98"/>
<circle cx="295.6" cy="595.6" r="0.81"/>
<circle cx="305.6" cy="630.3" r="0.97"/>
<circle cx="319.3" cy="627.5" r="0.86"/>
<circle cx="298.8" cy="618.5" r="1.05"/>
<circle cx="329.4" cy="604.0" r="0.89"/>
<circle cx="292.2" cy="603.0" r="0.82"/>
<circle cx="311.4" cy="582.0" r="0.82"/>
<circle cx="306.6" cy="599.8" r="1.03"/>
<circle cx="313.5" cy="633.8" r="0.93"/>
<circle cx="323.4" cy="613.9" r="0.88"/>
<circle cx="332.8" cy="593.7" r="0.82"/>
<circle cx="303.3" cy="617.7" r="1.03"/>
<circle cx="315.1" cy="590.9" r="0.95"/>
<circle cx="288.5" cy="612.4" r="0.91"/>
<circle cx="341.4" cy="603.9" r="0.92"/>
<circle cx="323.8" cy="598.7" r="0.88"/>
<circle cx="335.4" cy="582.6" r="0.82"/>
<circle cx="338.4" cy="606.3" r="0.81"/>
<circle cx="332.2" cy="607.5" r="0.85"/>
<circle cx="293.6" cy="624.9" r="0.96"/>
<circle cx="299.4" cy="603.6" r="0.95"/>
<circle cx="341.3" cy="594.2" r="0.99"/>
<circle cx="328.6" cy="607.8" r="0.73"/>
<circle cx="334.4" cy="628.8" r="0.74"/>
<circle cx="332.1" cy="621.6" r="0.84"/>
<circle cx="333.0" cy="617.3" r="0.91"/>
<circle cx="350.6" cy="604.2" r="0.83"/>
<circle cx="309.1" cy="636.7" r="0.99"/>
<circle cx="346.7" cy="602.8" r="0.72"/>
<circle cx="305.3" cy="605.3" r="0.93"/>
<circle cx="321.2" cy="595.5" r="0.70"/>
<circle cx="325.5" cy="628.5" r="0.75"/>
<circle cx="339.6" cy="590.9" r="0.87"/>
<circle cx="338.4" cy="630.5" r="0.93"/>
<circle cx="327.5" cy="614.1" r="0.98"/>
<circle cx="328.0" cy="587.8" r="0.84"/>
<circle cx="293.0" cy="593.6" r="0.81"/>
<circle cx="330.5" cy="599.0" r="0.91"/>
<circle cx="346.7" cy="591.1" r="0.72"/>
<circle cx="341.4" cy="627.5" r="0.73"/>
<circle cx="292.9" cy="620.9" r="1.05"/>
<circle cx="308.6" cy="610.8" r="0.81"/>
<circle cx="323.2" cy="586.6" r="1.04"/>
<circle cx="292.7" cy="598.0" r="0.82"/>
<circle cx="299.6" cy="613.2" r="0.96"/>
<circle cx="343.5" cy="619.9" r="0.97"/>
<circle cx="287.7" cy="609.8" r="0.87"/>
<circle cx="312.6" cy="616.7" r="1.03"/>
<circle cx="348.6" cy="613.7" r="0.79"/>
<circle cx="328.3" cy="635.1" r="0.77"/>
<circle cx="343.2" cy="599.6" r="0.80"/>
<circle cx="325.7" cy="601.6" r="1.00"/>
<circle cx="332.4" cy="590.2" r="0.92"/>
<circle cx="300.1" cy="625.9" r="0.86"/>
<circle cx="313.1" cy="597.6" r="0.70"/>
<circle cx="338.3" cy="586.3" r="1.00"/>
<circle cx="290.6" cy="600.0" r="0.83"/>
<circle cx="314.3" cy="603.6" r="0.80"/>
<circle cx="334.2" cy="601.6" r="0.96"/>
<circle cx="342.2" cy="613.9" r="0.81"/>
<circle cx="320.0" cy="579.9" r="0.76"/>
<circle cx="292.3" cy="612.0" r="0.97"/>
<circle cx="316.3" cy="607.8" r="1.04"/>
<circle cx="308.0" cy="623.2" r="0.75"/>
<circle cx="325.7" cy="612.2" r="0.89"/>
<circle cx="337.6" cy="616.4" r="0.88"/>
<circle cx="327.8" cy="598.6" r="0.93"/>
<circle cx="305.4" cy="584.2" r="0.88"/>
<circle cx="333.7" cy="635.0" r="0.89"/>
<circle cx="303.8" cy="580.8" r="0.80"/>
<circle cx="312.4" cy="619.9" r="0.77"/>
<circle cx="332.2" cy="583.4" r="0.95"/>
<circle cx="345.2" cy="624.2" r="0.77"/>
<circle cx="346.6" cy="593.9" r="0.77"/>
<circle cx="309.5" cy="619.1" r="0.95"/>
<circle cx="308.7" cy="586.1" r="0.79"/>
<circle cx="311.8" cy="593.2" r="0.96"/>
<circle cx="344.8" cy="605.6" r="0.87"/>
<circle cx="319.1" cy="598.8" r="0.98"/>
<circle cx="319.6" cy="589.1" r="1.03"/>
<circle cx="308.0" cy="576.6" r="1.05"/>
<circle cx="350.0" cy="609.1" r="0.85"/>
<circle cx="317.1" cy="596.7" r="0.78"/>
<circle cx="325.4" cy="631.6" r="0.86"/>
<circle cx="340.1" cy="619.8" r="0.77"/>
<circle cx="329.6" cy="595.7" r="0.75"/>
<circle cx="296.1" cy="608.7" r="0.90"/>
<circle cx="326.4" cy="596.0" r="0.82"/>
<circle cx="346.1" cy="599.3" r="0.71"/>
<circle cx="291.3" cy="609.4" r="1.04"/>
<circle cx="288.7" cy="615.4" r="0.83"/>
<circle cx="297.1" cy="600.1" r="0.91"/>
<circle cx="330.9" cy="614.5" r="0.93"/>
<circle cx="315.5" cy="579.7" r="0.85"/>
<circle cx="290.3" cy="595.2" r="0.96"/>
<circle cx="329.4" cy="592.8" r="0.77"/>
<circle cx="318.7" cy="635.8" r="0.79"/>
<circle cx="303.7" cy="621.1" r="0.96"/>
<circle cx="323.5" cy="635.6" r="0.97"/>
<circle cx="319.8" cy="633.1" r="0.77"/>
<circle cx="323.1" cy="617.5" r="0.76"/>
<circle cx="350.2" cy="600.1" r="0.86"/>
<circle cx="293.3" cy="588.2" r="0.81"/>
<circle cx="313.5" cy="584.3" r="0.80"/>
<circle cx="305.3" cy="594.7" r="0.81"/>
<circle cx="322.7" cy="638.5" r="1.03"/>
<circle cx="320.0" cy="638.5" r="0.76"/>
<circle cx="302.3" cy="632.2" r="0.83"/>
<circle cx="288.1" cy="602.3" r="1.02"/>
<circle cx="321.3" cy="575.5" r="0.95"/>
<circle cx="313.8" cy="625.1" r="0.74"/>
<circle cx="301.7" cy="586.9" r="0.84"/>
<circle cx="324.3" cy="577.8" r="0.78"/>
<circle cx="308.3" cy="591.4" r="1.04"/>
<circle cx="318.1" cy="577.9" r="0.91"/>
<circle cx="304.4" cy="623.9" r="0.90"/>
<circle cx="342.9" cy="585.7" r="0.92"/>
<circle cx="337.6" cy="622.0" r="0.81"/>
<circle cx="295.9" cy="628.3" r="0.97"/>
<circle cx="306.0" cy="587.9" r="0.90"/>
<circle cx="344.9" cy="587.8" r="0.93"/>
<circle cx="340.2" cy="611.9" r="0.74"/>
<circle cx="322.2" cy="601.5" r="0.99"/>
<circle cx="327.1" cy="583.8" r="0.87"/>
<circle cx="330.3" cy="576.5" r="0.94"/>
<circle cx="318.9" cy="602.6" r="0.78"/>
<circle cx="289.7" cy="604.7" r="0.98"/>
<circle cx="335.0" cy="624.4" r="0.93"/>
<circle cx="301.2" cy="597.7" r="0.84"/>
<circle cx="331.9" cy="630.2" r="0.98"/>
<circle cx="312.0" cy="589.2" r="0.83"/>
<circle cx="327.3" cy="577.0" r="1.01"/>
<circle cx="314.2" cy="637.7" r="0.77"/>
<circle cx="330.8" cy="627.8" r="0.91"/>
<circle cx="311.3" cy="610.1" r="0.82"/>
<circle cx="322.1" cy="590.9" r="0.92"/>
<circle cx="342.3" cy="607.5" r="0.86"/>
<circle cx="314.0" cy="600.3" r="0.73"/>
<circle cx="338.4" cy="582.7" r="0.83"/>
<circle cx="319.0" cy="608.6" r="0.86"/>
<circle cx="310.4" cy="621.7" r="0.74"/>
<circle cx="308.5" cy="629.5" r="0.74"/>
</g>
<rect x="364.6" y="564.9" width="83.4" height="83.4" fill="#e2ddf6"/>
<circle cx="406.8" cy="607.1" r="41.2" fill="url(#rim)"/>
<circle cx="406.3" cy="606.6" r="38.2" fill="none" stroke="#c9c1ec" stroke-width="1.3"/>
<circle cx="406.3" cy="606.6" r="35.7" fill="#f3f1fc"/>
<g fill="#352a88">
<circle cx="424.2" cy="587.0" r="0.76"/>
<circle cx="433.9" cy="612.8" r="0.83"/>
<circle cx="397.0" cy="598.9" r="0.89"/>
<circle cx="427.7" cy="587.7" r="0.77"/>
<circle cx="417.3" cy="630.8" r="1.03"/>
<circle cx="409.2" cy="576.5" r="0.76"/>
<circle cx="396.6" cy="627.2" r="1.04"/>
<circle cx="425.3" cy="601.5" r="0.73"/>
<circle cx="403.2" cy="584.7" r="0.99"/>
<circle cx="382.6" cy="601.0" r="0.70"/>
<circle cx="416.8" cy="635.9" r="0.88"/>
<circle cx="411.6" cy="612.8" r="1.04"/>
<circle cx="394.9" cy="596.7" r="0.95"/>
<circle cx="427.8" cy="584.3" r="0.94"/>
<circle cx="410.2" cy="595.2" r="0.75"/>
<circle cx="402.9" cy="626.4" r="0.87"/>
<circle cx="405.2" cy="578.0" r="0.90"/>
<circle cx="389.0" cy="620.7" r="0.88"/>
<circle cx="393.5" cy="609.8" r="0.78"/>
<circle cx="426.4" cy="611.8" r="0.75"/>
<circle cx="399.6" cy="622.5" r="0.82"/>
<circle cx="410.6" cy="603.3" r="1.04"/>
<circle cx="405.8" cy="601.9" r="0.89"/>
<circle cx="392.2" cy="615.1" r="0.85"/>
<circle cx="385.2" cy="620.2" r="0.71"/>
<circle cx="379.2" cy="603.6" r="0.81"/>
<circle cx="405.9" cy="627.1" r="1.02"/>
<circle cx="397.9" cy="581.3" r="0.82"/>
<circle cx="412.8" cy="586.4" r="0.88"/>
<circle cx="393.2" cy="593.1" r="0.78"/>
<circle cx="420.4" cy="622.3" r="0.89"/>
<circle cx="415.0" cy="605.8" r="0.89"/>
<circle cx="427.6" cy="625.3" r="0.94"/>
<circle cx="421.2" cy="608.9" r="0.82"/>
<circle cx="401.1" cy="580.6" r="0.84"/>
<circle cx="410.7" cy="608.8" r="1.00"/>
<circle cx="375.7" cy="598.1" r="0.95"/>
<circle cx="424.0" cy="630.2" r="0.89"/>
<circle cx="407.5" cy="614.4" r="0.92"/>
<circle cx="421.1" cy="628.1" r="0.86"/>
<circle cx="404.4" cy="592.5" r="0.88"/>
<circle cx="411.4" cy="629.5" r="0.71"/>
<circle cx="392.9" cy="625.0" r="0.90"/>
<circle cx="432.4" cy="607.1" r="0.78"/>
<circle cx="376.6" cy="618.2" r="1.04"/>
<circle cx="408.1" cy="586.4" r="0.99"/>
<circle cx="406.8" cy="638.7" r="0.72"/>
<circle cx="421.5" cy="579.8" r="0.74"/>
<circle cx="392.7" cy="601.3" r="0.83"/>
<circle cx="425.3" cy="616.3" r="0.74"/>
<circle cx="390.5" cy="587.6" r="0.98"/>
<circle cx="392.0" cy="597.1" r="1.02"/>
<circle cx="400.7" cy="609.6" r="0.91"/>
<circle cx="409.0" cy="633.6" r="0.85"/>
<circle cx="387.2" cy="631.7" r="0.98"/>
<circle cx="431.4" cy="623.5" r="0.72"/>
<circle cx="392.3" cy="585.1" r="0.85"/>
<circle cx="404.6" cy="630.4" r="0.88"/>
<circle cx="414.9" cy="614.1" r="0.84"/>
<circle cx="409.8" cy="626.3" r="0.75"/>
<circle cx="392.2" cy="635.4" r="0.86"/>
<circle cx="429.0" cy="595.8" r="1.02"/>
<circle cx="412.2" cy="633.9" r="0.83"/>
<circle cx="431.5" cy="586.5" r="0.93"/>
<circle cx="427.3" cy="628.8" r="0.85"/>
<circle cx="417.4" cy="601.1" r="0.98"/>
<circle cx="375.7" cy="604.2" r="0.90"/>
<circle cx="401.3" cy="612.4" r="0.99"/>
<circle cx="421.4" cy="585.4" r="0.81"/>
<circle cx="401.6" cy="587.4" r="0.87"/>
<circle cx="387.9" cy="612.0" r="0.94"/>
<circle cx="387.2" cy="581.7" r="0.82"/>
<circle cx="383.3" cy="595.3" r="1.00"/>
<circle cx="421.2" cy="614.3" r="0.85"/>
<circle cx="403.3" cy="615.9" r="0.88"/>
<circle cx="404.0" cy="636.2" r="0.71"/>
<circle cx="399.0" cy="585.0" r="0.89"/>
<circle cx="385.7" cy="606.2" r="0.88"/>
<circle cx="396.0" cy="619.4" r="0.89"/>
<circle cx="387.4" cy="585.3" r="0.76"/>
<circle cx="416.3" cy="593.5" r="1.03"/>
<circle cx="402.1" cy="601.6" r="0.82"/>
<circle cx="411.8" cy="637.7" r="0.95"/>
<circle cx="383.6" cy="591.4" r="0.84"/>
<circle cx="387.6" cy="592.5" r="0.88"/>
<circle cx="387.0" cy="624.3" r="0.93"/>
<circle cx="419.3" cy="582.4" r="0.96"/>
<circle cx="427.7" cy="592.9" r="1.00"/>
<circle cx="421.7" cy="600.6" r="0.88"/>
<circle cx="437.1" cy="605.8" r="0.81"/>
<circle cx="398.9" cy="636.8" r="0.70"/>
<circle cx="421.7" cy="632.2" r="0.76"/>
<circle cx="422.0" cy="594.3" r="1.02"/>
<circle cx="401.3" cy="575.9" r="0.72"/>
<circle cx="434.3" cy="597.4" r="0.73"/>
<circle cx="410.0" cy="580.5" r="0.96"/>
<circle cx="418.4" cy="609.9" r="0.77"/>
<circle cx="418.1" cy="596.7" r="0.84"/>
<circle cx="434.6" cy="591.6" r="1.02"/>
<circle cx="387.5" cy="616.9" r="0.77"/>
<circle cx="414.2" cy="624.3" r="0.80"/>
<circle cx="405.2" cy="587.2" r="0.84"/>
<circle cx="410.8" cy="591.1" r="0.96"/>
<circle cx="400.7" cy="593.9" r="0.87"/>
<circle cx="381.8" cy="610.0" r="0.73"/>
<circle cx="395.4" cy="576.4" r="0.95"/>
<circle cx="399.2" cy="625.6" r="0.97"/>
<circle cx="434.9" cy="616.2" r="0.71"/>
<circle cx="391.0" cy="618.7" r="0.72"/>
<circle cx="405.9" cy="609.4" r="1.02"/>
<circle cx="376.6" cy="594.4" r="0.82"/>
<circle cx="379.6" cy="600.7" r="0.99"/>
<circle cx="379.5" cy="595.5" r="1.04"/>
<circle cx="414.9" cy="584.4" r="1.00"/>
<circle cx="423.7" cy="583.1" r="0.72"/>
<circle cx="385.7" cy="596.8" r="0.74"/>
<circle cx="428.9" cy="613.3" r="0.76"/>
<circle cx="395.1" cy="629.9" r="0.92"/>
<circle cx="412.6" cy="575.3" r="0.84"/>
<circle cx="425.0" cy="620.4" r="0.99"/>
<circle cx="398.6" cy="592.1" r="0.90"/>
<circle cx="395.3" cy="622.5" r="0.95"/>
<circle cx="396.3" cy="611.6" r="0.97"/>
<circle cx="393.3" cy="632.6" r="1.02"/>
<circle cx="419.8" cy="603.7" r="0.92"/>
<circle cx="397.2" cy="589.3" r="1.00"/>
<circle cx="412.9" cy="616.4" r="0.85"/>
<circle cx="376.3" cy="607.2" r="0.91"/>
<circle cx="381.0" cy="615.7" r="1.02"/>
<circle cx="403.9" cy="604.8" r="0.71"/>
<circle cx="377.3" cy="615.2" r="0.85"/>
<circle cx="404.8" cy="620.4" r="1.03"/>
<circle cx="388.7" cy="627.0" r="1.00"/>
<circle cx="388.2" cy="603.8" r="0.79"/>
<circle cx="427.0" cy="605.1" r="0.84"/>
<circle cx="385.3" cy="626.8" r="0.81"/>
<circle cx="417.6" cy="577.9" r="0.96"/>
<circle cx="383.7" cy="587.8" r="1.02"/>
<circle cx="407.2" cy="606.4" r="0.71"/>
<circle cx="400.5" cy="599.3" r="1.05"/>
<circle cx="408.5" cy="600.0" r="0.93"/>
<circle cx="380.5" cy="590.2" r="0.88"/>
<circle cx="398.0" cy="608.3" r="0.79"/>
<circle cx="379.0" cy="622.0" r="0.90"/>
<circle cx="388.9" cy="608.0" r="0.84"/>
<circle cx="423.9" cy="598.4" r="0.70"/>
<circle cx="390.2" cy="633.2" r="0.93"/>
<circle cx="393.9" cy="605.7" r="0.77"/>
<circle cx="428.4" cy="620.8" r="0.88"/>
<circle cx="395.9" cy="614.9" r="0.85"/>
<circle cx="429.0" cy="598.8" r="0.78"/>
<circle cx="407.5" cy="618.0" r="0.92"/>
<circle cx="433.0" cy="603.4" r="0.74"/>
<circle cx="397.8" cy="617.3" r="1.01"/>
<circle cx="408.0" cy="611.6" r="0.89"/>
<circle cx="396.1" cy="633.3" r="1.02"/>
<circle cx="381.6" cy="620.8" r="0.91"/>
<circle cx="417.3" cy="587.5" r="0.86"/>
<circle cx="382.5" cy="605.9" r="0.96"/>
<circle cx="414.4" cy="590.5" r="0.95"/>
</g>
<rect x="508.2" y="441.4" width="13.6" height="4.4" fill="#000" stroke="#000" stroke-width="1.6"/>
<text x="531.5" y="447.4" font-size="10.6" font-weight="bold" text-anchor="start" fill="#000" >Control</text>
<rect x="508.2" y="454.5" width="13.6" height="4.4" fill="#f9c3d9" stroke="#000" stroke-width="1.6"/>
<text x="531.5" y="460.5" font-size="10.6" font-weight="bold" text-anchor="start" fill="#000" >M2-CM</text>
<rect x="508.2" y="467.6" width="13.6" height="4.4" fill="#f25c8e" stroke="#000" stroke-width="1.6"/>
<text x="531.5" y="473.6" font-size="10.6" font-weight="bold" text-anchor="start" fill="#000" >M2-exo</text>
<rect x="508.2" y="480.7" width="13.6" height="4.4" fill="#d6065c" stroke="#000" stroke-width="1.6"/>
<text x="531.5" y="486.7" font-size="10.6" font-weight="bold" text-anchor="start" fill="#000" >M2-CM depleted</text>
<rect x="508.2" y="493.8" width="13.6" height="4.4" fill="#c07a9c" stroke="#000" stroke-width="1.6"/>
<text x="531.5" y="499.8" font-size="10.6" font-weight="bold" text-anchor="start" fill="#000" >M2-CM GW4869</text>
<line x1="501.0" y1="499.6" x2="501.0" y2="643.0" stroke="#000" stroke-width="1.6" />
<line x1="500.2" y1="642.2" x2="715.7" y2="642.2" stroke="#000" stroke-width="1.6" />
<line x1="494.0" y1="642.2" x2="501.0" y2="642.2" stroke="#000" stroke-width="1.6" />
<text x="493.5" y="646.2" font-size="11" font-weight="bold" text-anchor="end" fill="#000" >0</text>
<line x1="494.0" y1="606.6" x2="501.0" y2="606.6" stroke="#000" stroke-width="1.6" />
<text x="493.5" y="610.6" font-size="11" font-weight="bold" text-anchor="end" fill="#000" >100</text>
<line x1="494.0" y1="571.0" x2="501.0" y2="571.0" stroke="#000" stroke-width="1.6" />
<text x="493.5" y="575.0" font-size="11" font-weight="bold" text-anchor="end" fill="#000" >200</text>
<line x1="494.0" y1="535.4" x2="501.0" y2="535.4" stroke="#000" stroke-width="1.6" />
<text x="493.5" y="539.4" font-size="11" font-weight="bold" text-anchor="end" fill="#000" >300</text>
<line x1="494.0" y1="499.8" x2="501.0" y2="499.8" stroke="#000" stroke-width="1.6" />
<text x="493.5" y="503.8" font-size="11" font-weight="bold" text-anchor="end" fill="#000" >400</text>
<line x1="552.4" y1="642.2" x2="552.4" y2="648.2" stroke="#000" stroke-width="1.6" />
<line x1="662.6" y1="642.2" x2="662.6" y2="648.2" stroke="#000" stroke-width="1.6" />
<text x="552.5" y="660.0" font-size="11" font-weight="bold" text-anchor="middle" fill="#000" >A549/Ge</text>
<text x="662.6" y="660.0" font-size="11" font-weight="bold" text-anchor="middle" fill="#000" >PC9/Ge</text>
<text x="0" y="0" font-size="11.6" font-weight="bold" text-anchor="middle" fill="#000" transform="translate(462.4,571.0) rotate(-90)" dominant-baseline="central">Number of cloned cells</text>
<line x1="513.8" y1="532.6" x2="513.8" y2="531.1" stroke="#000" stroke-width="1.5" />
<line x1="510.3" y1="531.1" x2="517.3" y2="531.1" stroke="#000" stroke-width="1.5" />
<rect x="508.2" y="532.6" width="11.3" height="109.6" fill="#000" stroke="#000" stroke-width="1.6"/>
<line x1="533.9" y1="607.7" x2="533.9" y2="605.9" stroke="#000" stroke-width="1.5" />
<line x1="530.4" y1="605.9" x2="537.4" y2="605.9" stroke="#000" stroke-width="1.5" />
<rect x="528.8" y="607.7" width="10.2" height="34.5" fill="#f9c3d9" stroke="#000" stroke-width="1.6"/>
<text x="533.9" y="602.9" font-size="9" font-weight="bold" text-anchor="middle" fill="#444" >***</text>
<line x1="553.0" y1="603.0" x2="553.0" y2="598.1" stroke="#000" stroke-width="1.5" />
<line x1="549.5" y1="598.1" x2="556.5" y2="598.1" stroke="#000" stroke-width="1.5" />
<rect x="547.7" y="603.0" width="10.5" height="39.2" fill="#f25c8e" stroke="#000" stroke-width="1.6"/>
<text x="553.0" y="595.1" font-size="9" font-weight="bold" text-anchor="middle" fill="#444" >***</text>
<line x1="572.7" y1="583.5" x2="572.7" y2="580.6" stroke="#000" stroke-width="1.5" />
<line x1="569.2" y1="580.6" x2="576.2" y2="580.6" stroke="#000" stroke-width="1.5" />
<rect x="567.4" y="583.5" width="10.5" height="58.7" fill="#d6065c" stroke="#000" stroke-width="1.6"/>
<text x="572.7" y="577.6" font-size="5.6" font-weight="bold" text-anchor="middle" fill="#444" >@@@</text>
<line x1="591.8" y1="585.2" x2="591.8" y2="582.7" stroke="#000" stroke-width="1.5" />
<line x1="588.2" y1="582.7" x2="595.2" y2="582.7" stroke="#000" stroke-width="1.5" />
<rect x="586.6" y="585.2" width="10.3" height="57.0" fill="#c07a9c" stroke="#000" stroke-width="1.6"/>
<text x="591.8" y="579.7" font-size="6.5" font-weight="bold" text-anchor="middle" fill="#444" >##</text>
<line x1="624.1" y1="545.0" x2="624.1" y2="541.8" stroke="#000" stroke-width="1.5" />
<line x1="620.6" y1="541.8" x2="627.6" y2="541.8" stroke="#000" stroke-width="1.5" />
<rect x="618.6" y="545.0" width="11.1" height="97.2" fill="#000" stroke="#000" stroke-width="1.6"/>
<line x1="643.5" y1="604.8" x2="643.5" y2="602.7" stroke="#000" stroke-width="1.5" />
<line x1="640.0" y1="602.7" x2="647.0" y2="602.7" stroke="#000" stroke-width="1.5" />
<rect x="638.0" y="604.8" width="11.0" height="37.4" fill="#f9c3d9" stroke="#000" stroke-width="1.6"/>
<text x="643.5" y="599.7" font-size="9" font-weight="bold" text-anchor="middle" fill="#444" >***</text>
<line x1="663.2" y1="602.3" x2="663.2" y2="599.5" stroke="#000" stroke-width="1.5" />
<line x1="659.7" y1="599.5" x2="666.7" y2="599.5" stroke="#000" stroke-width="1.5" />
<rect x="657.7" y="602.3" width="11.0" height="39.9" fill="#f25c8e" stroke="#000" stroke-width="1.6"/>
<text x="663.2" y="596.5" font-size="9" font-weight="bold" text-anchor="middle" fill="#444" >***</text>
<line x1="682.5" y1="584.5" x2="682.5" y2="580.6" stroke="#000" stroke-width="1.5" />
<line x1="679.0" y1="580.6" x2="686.0" y2="580.6" stroke="#000" stroke-width="1.5" />
<rect x="677.0" y="584.5" width="10.9" height="57.7" fill="#d6065c" stroke="#000" stroke-width="1.6"/>
<text x="682.5" y="577.6" font-size="5.6" font-weight="bold" text-anchor="middle" fill="#444" >@@@</text>
<line x1="701.8" y1="583.8" x2="701.8" y2="582.0" stroke="#000" stroke-width="1.5" />
<line x1="698.3" y1="582.0" x2="705.3" y2="582.0" stroke="#000" stroke-width="1.5" />
<rect x="696.2" y="583.8" width="11.2" height="58.4" fill="#c07a9c" stroke="#000" stroke-width="1.6"/>
<text x="701.8" y="579.0" font-size="6.5" font-weight="bold" text-anchor="middle" fill="#444" >##</text>
<line x1="64.1" y1="726.2" x2="64.1" y2="858.2" stroke="#000" stroke-width="1.6" />
<line x1="63.3" y1="857.4" x2="261.6" y2="857.4" stroke="#000" stroke-width="1.6" />
<line x1="58.1" y1="857.4" x2="64.1" y2="857.4" stroke="#000" stroke-width="1.6" />
<text x="57.0" y="861.8" font-size="12.4" font-weight="bold" text-anchor="end" fill="#000" >0</text>
<line x1="58.1" y1="824.8" x2="64.1" y2="824.8" stroke="#000" stroke-width="1.6" />
<text x="57.0" y="829.2" font-size="12.4" font-weight="bold" text-anchor="end" fill="#000" >500</text>
<line x1="58.1" y1="792.2" x2="64.1" y2="792.2" stroke="#000" stroke-width="1.6" />
<text x="57.0" y="796.6" font-size="12.4" font-weight="bold" text-anchor="end" fill="#000" >1000</text>
<line x1="58.1" y1="759.6" x2="64.1" y2="759.6" stroke="#000" stroke-width="1.6" />
<text x="57.0" y="764.0" font-size="12.4" font-weight="bold" text-anchor="end" fill="#000" >1500</text>
<line x1="58.1" y1="727.0" x2="64.1" y2="727.0" stroke="#000" stroke-width="1.6" />
<text x="57.0" y="731.4" font-size="12.4" font-weight="bold" text-anchor="end" fill="#000" >2000</text>
<line x1="88.4" y1="857.4" x2="88.4" y2="863.4" stroke="#000" stroke-width="1.6" />
<text x="88.4" y="876.5" font-size="13" font-weight="bold" text-anchor="middle" fill="#000" >7</text>
<line x1="125.4" y1="857.4" x2="125.4" y2="863.4" stroke="#000" stroke-width="1.6" />
<text x="125.4" y="876.5" font-size="13" font-weight="bold" text-anchor="middle" fill="#000" >14</text>
<line x1="162.2" y1="857.4" x2="162.2" y2="863.4" stroke="#000" stroke-width="1.6" />
<text x="162.2" y="876.5" font-size="13" font-weight="bold" text-anchor="middle" fill="#000" >21</text>
<line x1="199.0" y1="857.4" x2="199.0" y2="863.4" stroke="#000" stroke-width="1.6" />
<text x="199.0" y="876.5" font-size="13" font-weight="bold" text-anchor="middle" fill="#000" >24</text>
<line x1="235.8" y1="857.4" x2="235.8" y2="863.4" stroke="#000" stroke-width="1.6" />
<text x="235.8" y="876.5" font-size="13" font-weight="bold" text-anchor="middle" fill="#000" >28</text>
<text x="162.8" y="893.2" font-size="10.4" font-weight="bold" text-anchor="middle" fill="#000" >Days</text>
<text x="0" y="0" font-size="12.4" font-weight="bold" text-anchor="middle" fill="#000" transform="translate(16.7,788.4) rotate(-90)" dominant-baseline="central" xml:space="preserve">Tumor  Volume (mm<tspan font-size="7.5" dy="-4">3</tspan><tspan dy="4">)</tspan></text>
<polyline points="88.4,855.4 125.4,852.8 162.2,849.5 199.0,844.6 235.8,843.1" fill="none" stroke="#1d8a2c" stroke-width="1.6"/>
<line x1="88.4" y1="854.8" x2="88.4" y2="856.1" stroke="#1d8a2c" stroke-width="1.4" />
<line x1="85.4" y1="854.8" x2="91.4" y2="854.8" stroke="#1d8a2c" stroke-width="1.4" />
<line x1="85.4" y1="856.1" x2="91.4" y2="856.1" stroke="#1d8a2c" stroke-width="1.4" />
<path d="M88.4,851.4 L92.4,858.2 L84.4,858.2Z" fill="#1d8a2c"/>
<line x1="125.4" y1="851.9" x2="125.4" y2="853.8" stroke="#1d8a2c" stroke-width="1.4" />
<line x1="122.4" y1="851.9" x2="128.4" y2="851.9" stroke="#1d8a2c" stroke-width="1.4" />
<line x1="122.4" y1="853.8" x2="128.4" y2="853.8" stroke="#1d8a2c" stroke-width="1.4" />
<path d="M125.4,848.8 L129.4,855.6 L121.4,855.6Z" fill="#1d8a2c"/>
<line x1="162.2" y1="847.9" x2="162.2" y2="851.1" stroke="#1d8a2c" stroke-width="1.4" />
<line x1="159.2" y1="847.9" x2="165.2" y2="847.9" stroke="#1d8a2c" stroke-width="1.4" />
<line x1="159.2" y1="851.1" x2="165.2" y2="851.1" stroke="#1d8a2c" stroke-width="1.4" />
<path d="M162.2,845.5 L166.2,852.3 L158.2,852.3Z" fill="#1d8a2c"/>
<line x1="199.0" y1="842.3" x2="199.0" y2="846.9" stroke="#1d8a2c" stroke-width="1.4" />
<line x1="196.0" y1="842.3" x2="202.0" y2="842.3" stroke="#1d8a2c" stroke-width="1.4" />
<line x1="196.0" y1="846.9" x2="202.0" y2="846.9" stroke="#1d8a2c" stroke-width="1.4" />
<path d="M199.0,840.6 L203.0,847.4 L195.0,847.4Z" fill="#1d8a2c"/>
<line x1="235.8" y1="840.4" x2="235.8" y2="845.7" stroke="#1d8a2c" stroke-width="1.4" />
<line x1="232.8" y1="840.4" x2="238.8" y2="840.4" stroke="#1d8a2c" stroke-width="1.4" />
<line x1="232.8" y1="845.7" x2="238.8" y2="845.7" stroke="#1d8a2c" stroke-width="1.4" />
<path d="M235.8,839.1 L239.8,845.9 L231.8,845.9Z" fill="#1d8a2c"/>
<polyline points="88.4,854.8 125.4,853.0 162.2,844.1 199.0,835.6 235.8,829.1" fill="none" stroke="#a31616" stroke-width="1.6"/>
<line x1="88.4" y1="853.8" x2="88.4" y2="855.8" stroke="#a31616" stroke-width="1.4" />
<line x1="85.4" y1="853.8" x2="91.4" y2="853.8" stroke="#a31616" stroke-width="1.4" />
<line x1="85.4" y1="855.8" x2="91.4" y2="855.8" stroke="#a31616" stroke-width="1.4" />
<circle cx="88.4" cy="854.8" r="4.2" fill="#a31616"/>
<line x1="125.4" y1="850.7" x2="125.4" y2="855.3" stroke="#a31616" stroke-width="1.4" />
<line x1="122.4" y1="850.7" x2="128.4" y2="850.7" stroke="#a31616" stroke-width="1.4" />
<line x1="122.4" y1="855.3" x2="128.4" y2="855.3" stroke="#a31616" stroke-width="1.4" />
<circle cx="125.4" cy="853.0" r="4.2" fill="#a31616"/>
<line x1="162.2" y1="840.2" x2="162.2" y2="848.0" stroke="#a31616" stroke-width="1.4" />
<line x1="159.2" y1="840.2" x2="165.2" y2="840.2" stroke="#a31616" stroke-width="1.4" />
<line x1="159.2" y1="848.0" x2="165.2" y2="848.0" stroke="#a31616" stroke-width="1.4" />
<circle cx="162.2" cy="844.1" r="4.2" fill="#a31616"/>
<line x1="199.0" y1="830.4" x2="199.0" y2="840.8" stroke="#a31616" stroke-width="1.4" />
<line x1="196.0" y1="830.4" x2="202.0" y2="830.4" stroke="#a31616" stroke-width="1.4" />
<line x1="196.0" y1="840.8" x2="202.0" y2="840.8" stroke="#a31616" stroke-width="1.4" />
<circle cx="199.0" cy="835.6" r="4.2" fill="#a31616"/>
<line x1="235.8" y1="821.3" x2="235.8" y2="836.9" stroke="#a31616" stroke-width="1.4" />
<line x1="232.8" y1="821.3" x2="238.8" y2="821.3" stroke="#a31616" stroke-width="1.4" />
<line x1="232.8" y1="836.9" x2="238.8" y2="836.9" stroke="#a31616" stroke-width="1.4" />
<circle cx="235.8" cy="829.1" r="4.2" fill="#a31616"/>
<polyline points="88.4,854.1 125.4,841.8 162.2,832.8 199.0,821.4 235.8,792.6" fill="none" stroke="#e32626" stroke-width="1.6"/>
<line x1="88.4" y1="852.8" x2="88.4" y2="855.4" stroke="#e32626" stroke-width="1.4" />
<line x1="85.4" y1="852.8" x2="91.4" y2="852.8" stroke="#e32626" stroke-width="1.4" />
<line x1="85.4" y1="855.4" x2="91.4" y2="855.4" stroke="#e32626" stroke-width="1.4" />
<path d="M88.4,858.1 L92.4,851.3 L84.4,851.3Z" fill="#e32626"/>
<line x1="125.4" y1="839.1" x2="125.4" y2="844.4" stroke="#e32626" stroke-width="1.4" />
<line x1="122.4" y1="839.1" x2="128.4" y2="839.1" stroke="#e32626" stroke-width="1.4" />
<line x1="122.4" y1="844.4" x2="128.4" y2="844.4" stroke="#e32626" stroke-width="1.4" />
<path d="M125.4,845.8 L129.4,839.0 L121.4,839.0Z" fill="#e32626"/>
<line x1="162.2" y1="829.6" x2="162.2" y2="836.1" stroke="#e32626" stroke-width="1.4" />
<line x1="159.2" y1="829.6" x2="165.2" y2="829.6" stroke="#e32626" stroke-width="1.4" />
<line x1="159.2" y1="836.1" x2="165.2" y2="836.1" stroke="#e32626" stroke-width="1.4" />
<path d="M162.2,836.8 L166.2,830.0 L158.2,830.0Z" fill="#e32626"/>
<line x1="199.0" y1="817.5" x2="199.0" y2="825.3" stroke="#e32626" stroke-width="1.4" />
<line x1="196.0" y1="817.5" x2="202.0" y2="817.5" stroke="#e32626" stroke-width="1.4" />
<line x1="196.0" y1="825.3" x2="202.0" y2="825.3" stroke="#e32626" stroke-width="1.4" />
<path d="M199.0,825.4 L203.0,818.6 L195.0,818.6Z" fill="#e32626"/>
<line x1="235.8" y1="787.4" x2="235.8" y2="797.8" stroke="#e32626" stroke-width="1.4" />
<line x1="232.8" y1="787.4" x2="238.8" y2="787.4" stroke="#e32626" stroke-width="1.4" />
<line x1="232.8" y1="797.8" x2="238.8" y2="797.8" stroke="#e32626" stroke-width="1.4" />
<path d="M235.8,796.6 L239.8,789.8 L231.8,789.8Z" fill="#e32626"/>
<polyline points="88.4,854.8 125.4,841.8 162.2,835.6 199.0,817.4 235.8,785.0" fill="none" stroke="#a628de" stroke-width="1.6"/>
<line x1="88.4" y1="853.5" x2="88.4" y2="856.1" stroke="#a628de" stroke-width="1.4" />
<line x1="85.4" y1="853.5" x2="91.4" y2="853.5" stroke="#a628de" stroke-width="1.4" />
<line x1="85.4" y1="856.1" x2="91.4" y2="856.1" stroke="#a628de" stroke-width="1.4" />
<path d="M88.4,851.6 L91.6,854.8 L88.4,858.0 L85.2,854.8Z" fill="#a628de"/>
<line x1="125.4" y1="839.1" x2="125.4" y2="844.4" stroke="#a628de" stroke-width="1.4" />
<line x1="122.4" y1="839.1" x2="128.4" y2="839.1" stroke="#a628de" stroke-width="1.4" />
<line x1="122.4" y1="844.4" x2="128.4" y2="844.4" stroke="#a628de" stroke-width="1.4" />
<path d="M125.4,838.6 L128.6,841.8 L125.4,845.0 L122.2,841.8Z" fill="#a628de"/>
<line x1="162.2" y1="832.4" x2="162.2" y2="838.9" stroke="#a628de" stroke-width="1.4" />
<line x1="159.2" y1="832.4" x2="165.2" y2="832.4" stroke="#a628de" stroke-width="1.4" />
<line x1="159.2" y1="838.9" x2="165.2" y2="838.9" stroke="#a628de" stroke-width="1.4" />
<path d="M162.2,832.4 L165.4,835.6 L162.2,838.8 L159.0,835.6Z" fill="#a628de"/>
<line x1="199.0" y1="813.5" x2="199.0" y2="821.3" stroke="#a628de" stroke-width="1.4" />
<line x1="196.0" y1="813.5" x2="202.0" y2="813.5" stroke="#a628de" stroke-width="1.4" />
<line x1="196.0" y1="821.3" x2="202.0" y2="821.3" stroke="#a628de" stroke-width="1.4" />
<path d="M199.0,814.2 L202.2,817.4 L199.0,820.6 L195.8,817.4Z" fill="#a628de"/>
<line x1="235.8" y1="780.5" x2="235.8" y2="789.6" stroke="#a628de" stroke-width="1.4" />
<line x1="232.8" y1="780.5" x2="238.8" y2="780.5" stroke="#a628de" stroke-width="1.4" />
<line x1="232.8" y1="789.6" x2="238.8" y2="789.6" stroke="#a628de" stroke-width="1.4" />
<path d="M235.8,781.8 L239.0,785.0 L235.8,788.2 L232.6,785.0Z" fill="#a628de"/>
<polyline points="88.4,851.7 125.4,842.3 162.2,824.4 199.0,809.0 235.8,766.0" fill="none" stroke="#1616e4" stroke-width="1.6"/>
<line x1="88.4" y1="848.3" x2="88.4" y2="855.1" stroke="#1616e4" stroke-width="1.4" />
<line x1="85.4" y1="848.3" x2="91.4" y2="848.3" stroke="#1616e4" stroke-width="1.4" />
<line x1="85.4" y1="855.1" x2="91.4" y2="855.1" stroke="#1616e4" stroke-width="1.4" />
<circle cx="88.4" cy="851.7" r="3.6" fill="#1616e4"/>
<line x1="125.4" y1="837.9" x2="125.4" y2="846.6" stroke="#1616e4" stroke-width="1.4" />
<line x1="122.4" y1="837.9" x2="128.4" y2="837.9" stroke="#1616e4" stroke-width="1.4" />
<line x1="122.4" y1="846.6" x2="128.4" y2="846.6" stroke="#1616e4" stroke-width="1.4" />
<circle cx="125.4" cy="842.3" r="3.6" fill="#1616e4"/>
<line x1="162.2" y1="813.0" x2="162.2" y2="835.8" stroke="#1616e4" stroke-width="1.4" />
<line x1="159.2" y1="813.0" x2="165.2" y2="813.0" stroke="#1616e4" stroke-width="1.4" />
<line x1="159.2" y1="835.8" x2="165.2" y2="835.8" stroke="#1616e4" stroke-width="1.4" />
<circle cx="162.2" cy="824.4" r="3.6" fill="#1616e4"/>
<line x1="199.0" y1="803.2" x2="199.0" y2="814.9" stroke="#1616e4" stroke-width="1.4" />
<line x1="196.0" y1="803.2" x2="202.0" y2="803.2" stroke="#1616e4" stroke-width="1.4" />
<line x1="196.0" y1="814.9" x2="202.0" y2="814.9" stroke="#1616e4" stroke-width="1.4" />
<circle cx="199.0" cy="809.0" r="3.6" fill="#1616e4"/>
<line x1="235.8" y1="753.9" x2="235.8" y2="778.1" stroke="#1616e4" stroke-width="1.4" />
<line x1="232.8" y1="753.9" x2="238.8" y2="753.9" stroke="#1616e4" stroke-width="1.4" />
<line x1="232.8" y1="778.1" x2="238.8" y2="778.1" stroke="#1616e4" stroke-width="1.4" />
<circle cx="235.8" cy="766.0" r="3.6" fill="#1616e4"/>
<line x1="70.4" y1="727.3" x2="84.2" y2="727.3" stroke="#1616e4" stroke-width="1.6" />
<circle cx="77.3" cy="727.3" r="3.1" fill="#1616e4"/>
<text x="92.5" y="731.8" font-size="12.6" font-weight="bold" text-anchor="start" fill="#000" >Control</text>
<line x1="70.4" y1="744.7" x2="84.2" y2="744.7" stroke="#a31616" stroke-width="1.6" />
<circle cx="77.3" cy="744.7" r="3.6" fill="#a31616"/>
<text x="92.5" y="749.2" font-size="12.6" font-weight="bold" text-anchor="start" fill="#000" >M2-CM</text>
<line x1="70.4" y1="761.9" x2="84.2" y2="761.9" stroke="#1d8a2c" stroke-width="1.6" />
<path d="M77.3,758.5 L80.7,764.3 L73.9,764.3Z" fill="#1d8a2c"/>
<text x="92.5" y="766.4" font-size="12.6" font-weight="bold" text-anchor="start" fill="#000" >M2-exo</text>
<line x1="70.4" y1="779.0" x2="84.2" y2="779.0" stroke="#e32626" stroke-width="1.6" />
<path d="M77.3,782.4 L80.7,776.6 L73.9,776.6Z" fill="#e32626"/>
<text x="92.5" y="783.5" font-size="12.6" font-weight="bold" text-anchor="start" fill="#000" >M2-CM depleted</text>
<line x1="70.4" y1="798.2" x2="84.2" y2="798.2" stroke="#a628de" stroke-width="1.6" />
<path d="M77.3,795.5 L80.0,798.2 L77.3,800.9 L74.6,798.2Z" fill="#a628de"/>
<text x="92.5" y="802.7" font-size="12.6" font-weight="bold" text-anchor="start" fill="#000" >M2-CM GW4869</text>
<text x="242.0" y="786.0" font-size="6.5" font-weight="bold" text-anchor="start" fill="#555" >##</text>
<text x="242.0" y="796.0" font-size="8" font-weight="bold" text-anchor="start" fill="#555" >@@</text>
<text x="241.5" y="829.5" font-size="10" font-weight="bold" text-anchor="start" fill="#333" letter-spacing="0.8">**</text>
<text x="241.5" y="847.5" font-size="10" font-weight="bold" text-anchor="start" fill="#333" letter-spacing="0.8">**</text>
<line x1="340.5" y1="726.0" x2="340.5" y2="857.0" stroke="#000" stroke-width="1.6" />
<line x1="339.7" y1="856.2" x2="471.0" y2="856.2" stroke="#000" stroke-width="1.6" />
<line x1="334.5" y1="856.2" x2="340.5" y2="856.2" stroke="#000" stroke-width="1.6" />
<text x="333.5" y="860.6" font-size="12.4" font-weight="bold" text-anchor="end" fill="#000" >0</text>
<line x1="334.5" y1="830.2" x2="340.5" y2="830.2" stroke="#000" stroke-width="1.6" />
<text x="333.5" y="834.6" font-size="12.4" font-weight="bold" text-anchor="end" fill="#000" >500</text>
<line x1="334.5" y1="804.2" x2="340.5" y2="804.2" stroke="#000" stroke-width="1.6" />
<text x="333.5" y="808.6" font-size="12.4" font-weight="bold" text-anchor="end" fill="#000" >1000</text>
<line x1="334.5" y1="778.2" x2="340.5" y2="778.2" stroke="#000" stroke-width="1.6" />
<text x="333.5" y="782.6" font-size="12.4" font-weight="bold" text-anchor="end" fill="#000" >1500</text>
<line x1="334.5" y1="752.2" x2="340.5" y2="752.2" stroke="#000" stroke-width="1.6" />
<text x="333.5" y="756.6" font-size="12.4" font-weight="bold" text-anchor="end" fill="#000" >2000</text>
<line x1="334.5" y1="726.2" x2="340.5" y2="726.2" stroke="#000" stroke-width="1.6" />
<text x="333.5" y="730.6" font-size="12.4" font-weight="bold" text-anchor="end" fill="#000" >2500</text>
<text x="0" y="0" font-size="12.4" font-weight="bold" text-anchor="middle" fill="#000" transform="translate(296.4,790.0) rotate(-90)" dominant-baseline="central">Tumor weight (mg)</text>
<rect x="349.6" y="773.4" width="14.8" height="82.8" fill="#fff" stroke="#000" stroke-width="2"/>
<line x1="357.0" y1="773.4" x2="357.0" y2="761.0" stroke="#000" stroke-width="1.8" />
<line x1="353.0" y1="761.0" x2="361.0" y2="761.0" stroke="#000" stroke-width="1.8" />
<line x1="357.0" y1="856.2" x2="357.0" y2="862.2" stroke="#000" stroke-width="1.6" />
<circle cx="357.0" cy="751.6" r="3.3" fill="#1c1cb0"/>
<circle cx="350.5" cy="771.6" r="3.3" fill="#1c1cb0"/>
<circle cx="363.5" cy="771.6" r="3.3" fill="#1c1cb0"/>
<circle cx="357.0" cy="775.0" r="3.3" fill="#1c1cb0"/>
<circle cx="351.5" cy="782.2" r="3.3" fill="#1c1cb0"/>
<circle cx="360.5" cy="782.2" r="3.3" fill="#1c1cb0"/>
<rect x="373.6" y="830.4" width="14.8" height="25.8" fill="#fff" stroke="#000" stroke-width="2"/>
<line x1="381.0" y1="830.4" x2="381.0" y2="822.2" stroke="#000" stroke-width="1.8" />
<line x1="377.0" y1="822.2" x2="385.0" y2="822.2" stroke="#000" stroke-width="1.8" />
<line x1="381.0" y1="856.2" x2="381.0" y2="862.2" stroke="#000" stroke-width="1.6" />
<circle cx="381.0" cy="817.0" r="3.3" fill="#aa1616"/>
<circle cx="375.0" cy="829.5" r="3.3" fill="#aa1616"/>
<circle cx="383.0" cy="826.6" r="3.3" fill="#aa1616"/>
<circle cx="375.5" cy="834.2" r="3.3" fill="#aa1616"/>
<circle cx="387.0" cy="834.2" r="3.3" fill="#aa1616"/>
<circle cx="380.0" cy="831.8" r="3.3" fill="#aa1616"/>
<rect x="398.0" y="847.0" width="14.8" height="9.2" fill="#fff" stroke="#000" stroke-width="2"/>
<line x1="405.4" y1="847.0" x2="405.4" y2="843.9" stroke="#000" stroke-width="1.8" />
<line x1="401.4" y1="843.9" x2="409.4" y2="843.9" stroke="#000" stroke-width="1.8" />
<line x1="405.4" y1="856.2" x2="405.4" y2="862.2" stroke="#000" stroke-width="1.6" />
<circle cx="405.4" cy="837.1" r="3.3" fill="#178a1e"/>
<circle cx="398.9" cy="844.2" r="3.3" fill="#178a1e"/>
<circle cx="405.4" cy="843.9" r="3.3" fill="#178a1e"/>
<circle cx="411.9" cy="844.2" r="3.3" fill="#178a1e"/>
<rect x="422.4" y="810.5" width="14.8" height="45.7" fill="#fff" stroke="#000" stroke-width="2"/>
<line x1="429.8" y1="810.5" x2="429.8" y2="807.4" stroke="#000" stroke-width="1.8" />
<line x1="425.8" y1="807.4" x2="433.8" y2="807.4" stroke="#000" stroke-width="1.8" />
<line x1="429.8" y1="856.2" x2="429.8" y2="862.2" stroke="#000" stroke-width="1.6" />
<circle cx="424.8" cy="804.8" r="3.3" fill="#ec1f1f"/>
<circle cx="431.8" cy="804.8" r="3.3" fill="#ec1f1f"/>
<circle cx="423.3" cy="813.3" r="3.3" fill="#ec1f1f"/>
<circle cx="428.3" cy="810.5" r="3.3" fill="#ec1f1f"/>
<circle cx="434.8" cy="811.5" r="3.3" fill="#ec1f1f"/>
<circle cx="436.3" cy="812.5" r="3.3" fill="#ec1f1f"/>
<rect x="446.7" y="807.0" width="14.8" height="49.2" fill="#fff" stroke="#000" stroke-width="2"/>
<line x1="454.1" y1="807.0" x2="454.1" y2="800.6" stroke="#000" stroke-width="1.8" />
<line x1="450.1" y1="800.6" x2="458.1" y2="800.6" stroke="#000" stroke-width="1.8" />
<line x1="454.1" y1="856.2" x2="454.1" y2="862.2" stroke="#000" stroke-width="1.6" />
<circle cx="453.6" cy="797.7" r="3.3" fill="#a42ee0"/>
<circle cx="448.6" cy="803.4" r="3.3" fill="#a42ee0"/>
<circle cx="456.1" cy="802.7" r="3.3" fill="#a42ee0"/>
<circle cx="459.6" cy="805.5" r="3.3" fill="#a42ee0"/>
<circle cx="450.1" cy="809.0" r="3.3" fill="#a42ee0"/>
<circle cx="462.1" cy="806.3" r="3.3" fill="#a42ee0"/>
<text x="0" y="0" font-size="12.8" font-weight="bold" text-anchor="end" fill="#000" transform="translate(353.0,867.0) rotate(-45)" dominant-baseline="hanging">Control</text>
<text x="0" y="0" font-size="12.8" font-weight="bold" text-anchor="end" fill="#000" transform="translate(377.0,867.0) rotate(-45)" dominant-baseline="hanging">M2-CM</text>
<text x="0" y="0" font-size="12.8" font-weight="bold" text-anchor="end" fill="#000" transform="translate(401.4,867.0) rotate(-45)" dominant-baseline="hanging">M2-exo</text>
<text x="0" y="0" font-size="12.8" font-weight="bold" text-anchor="end" fill="#000" transform="translate(425.8,867.0) rotate(-45)" dominant-baseline="hanging">M2-CM depleted</text>
<text x="0" y="0" font-size="12.8" font-weight="bold" text-anchor="end" fill="#000" transform="translate(450.1,867.0) rotate(-45)" dominant-baseline="hanging">M2-CM GW4869</text>
<text x="381.0" y="810.5" font-size="9.5" font-weight="bold" text-anchor="middle" fill="#333" >**</text>
<text x="405.4" y="832.5" font-size="9.5" font-weight="bold" text-anchor="middle" fill="#333" >**</text>
<text x="428.5" y="797.2" font-size="9" font-weight="bold" text-anchor="middle" fill="#555" >@@</text>
<text x="454.4" y="792.4" font-size="7" font-weight="bold" text-anchor="middle" fill="#555" >##</text>
<line x1="537.2" y1="726.3" x2="537.2" y2="835.0" stroke="#000" stroke-width="1.6" />
<line x1="537.2" y1="845.0" x2="537.2" y2="858.8" stroke="#000" stroke-width="1.6" />
<line x1="536.4" y1="858.0" x2="735.0" y2="858.0" stroke="#000" stroke-width="1.6" />
<line x1="534.2" y1="838.5" x2="541.2" y2="831.5" stroke="#000" stroke-width="1.5" />
<line x1="534.2" y1="848.5" x2="541.2" y2="841.5" stroke="#000" stroke-width="1.5" />
<line x1="531.2" y1="826.8" x2="537.2" y2="826.8" stroke="#000" stroke-width="1.6" />
<text x="530.5" y="831.2" font-size="12.4" font-weight="bold" text-anchor="end" fill="#000" >20</text>
<line x1="531.2" y1="801.8" x2="537.2" y2="801.8" stroke="#000" stroke-width="1.6" />
<text x="530.5" y="806.2" font-size="12.4" font-weight="bold" text-anchor="end" fill="#000" >25</text>
<line x1="531.2" y1="776.8" x2="537.2" y2="776.8" stroke="#000" stroke-width="1.6" />
<text x="530.5" y="781.2" font-size="12.4" font-weight="bold" text-anchor="end" fill="#000" >30</text>
<line x1="531.2" y1="751.8" x2="537.2" y2="751.8" stroke="#000" stroke-width="1.6" />
<text x="530.5" y="756.2" font-size="12.4" font-weight="bold" text-anchor="end" fill="#000" >35</text>
<line x1="531.2" y1="726.8" x2="537.2" y2="726.8" stroke="#000" stroke-width="1.6" />
<text x="530.5" y="731.2" font-size="12.4" font-weight="bold" text-anchor="end" fill="#000" >40</text>
<line x1="531.2" y1="858.0" x2="537.2" y2="858.0" stroke="#000" stroke-width="1.6" />
<text x="530.5" y="852.0" font-size="12.4" font-weight="bold" text-anchor="end" fill="#000" >1</text>
<text x="530.5" y="862.4" font-size="12.4" font-weight="bold" text-anchor="end" fill="#000" >0</text>
<line x1="562.0" y1="858.0" x2="562.0" y2="864.0" stroke="#000" stroke-width="1.6" />
<text x="562.0" y="877.5" font-size="13" font-weight="bold" text-anchor="middle" fill="#000" >7</text>
<line x1="599.1" y1="858.0" x2="599.1" y2="864.0" stroke="#000" stroke-width="1.6" />
<text x="599.1" y="877.5" font-size="13" font-weight="bold" text-anchor="middle" fill="#000" >14</text>
<line x1="636.1" y1="858.0" x2="636.1" y2="864.0" stroke="#000" stroke-width="1.6" />
<text x="636.1" y="877.5" font-size="13" font-weight="bold" text-anchor="middle" fill="#000" >21</text>
<line x1="673.1" y1="858.0" x2="673.1" y2="864.0" stroke="#000" stroke-width="1.6" />
<text x="673.1" y="877.5" font-size="13" font-weight="bold" text-anchor="middle" fill="#000" >24</text>
<line x1="710.0" y1="858.0" x2="710.0" y2="864.0" stroke="#000" stroke-width="1.6" />
<text x="710.0" y="877.5" font-size="13" font-weight="bold" text-anchor="middle" fill="#000" >28</text>
<text x="636.1" y="893.2" font-size="10.4" font-weight="bold" text-anchor="middle" fill="#000" >Days</text>
<text x="0" y="0" font-size="12.4" font-weight="bold" text-anchor="middle" fill="#000" transform="translate(504.5,790.7) rotate(-90)" dominant-baseline="central">Body weight (g)</text>
<polyline points="562.0,834.8 599.1,820.3 636.1,811.8 673.1,804.8 710.0,791.8" fill="none" stroke="#a628de" stroke-width="1.6"/>
<line x1="562.0" y1="831.3" x2="562.0" y2="838.3" stroke="#a628de" stroke-width="1.4" />
<line x1="559.0" y1="831.3" x2="565.0" y2="831.3" stroke="#a628de" stroke-width="1.4" />
<line x1="559.0" y1="838.3" x2="565.0" y2="838.3" stroke="#a628de" stroke-width="1.4" />
<path d="M562.0,831.6 L565.2,834.8 L562.0,838.0 L558.8,834.8Z" fill="#a628de"/>
<line x1="599.1" y1="816.8" x2="599.1" y2="823.8" stroke="#a628de" stroke-width="1.4" />
<line x1="596.1" y1="816.8" x2="602.1" y2="816.8" stroke="#a628de" stroke-width="1.4" />
<line x1="596.1" y1="823.8" x2="602.1" y2="823.8" stroke="#a628de" stroke-width="1.4" />
<path d="M599.1,817.1 L602.3,820.3 L599.1,823.5 L595.9,820.3Z" fill="#a628de"/>
<line x1="636.1" y1="808.3" x2="636.1" y2="815.3" stroke="#a628de" stroke-width="1.4" />
<line x1="633.1" y1="808.3" x2="639.1" y2="808.3" stroke="#a628de" stroke-width="1.4" />
<line x1="633.1" y1="815.3" x2="639.1" y2="815.3" stroke="#a628de" stroke-width="1.4" />
<path d="M636.1,808.6 L639.3,811.8 L636.1,815.0 L632.9,811.8Z" fill="#a628de"/>
<line x1="673.1" y1="801.3" x2="673.1" y2="808.3" stroke="#a628de" stroke-width="1.4" />
<line x1="670.1" y1="801.3" x2="676.1" y2="801.3" stroke="#a628de" stroke-width="1.4" />
<line x1="670.1" y1="808.3" x2="676.1" y2="808.3" stroke="#a628de" stroke-width="1.4" />
<path d="M673.1,801.6 L676.3,804.8 L673.1,808.0 L669.9,804.8Z" fill="#a628de"/>
<line x1="710.0" y1="788.3" x2="710.0" y2="795.3" stroke="#a628de" stroke-width="1.4" />
<line x1="707.0" y1="788.3" x2="713.0" y2="788.3" stroke="#a628de" stroke-width="1.4" />
<line x1="707.0" y1="795.3" x2="713.0" y2="795.3" stroke="#a628de" stroke-width="1.4" />
<path d="M710.0,788.6 L713.2,791.8 L710.0,795.0 L706.8,791.8Z" fill="#a628de"/>
<polyline points="562.0,824.8 599.1,817.8 636.1,809.3 673.1,799.3 710.0,791.8" fill="none" stroke="#e32626" stroke-width="1.6"/>
<line x1="562.0" y1="821.3" x2="562.0" y2="828.3" stroke="#e32626" stroke-width="1.4" />
<line x1="559.0" y1="821.3" x2="565.0" y2="821.3" stroke="#e32626" stroke-width="1.4" />
<line x1="559.0" y1="828.3" x2="565.0" y2="828.3" stroke="#e32626" stroke-width="1.4" />
<path d="M562.0,828.8 L566.0,822.0 L558.0,822.0Z" fill="#e32626"/>
<line x1="599.1" y1="814.3" x2="599.1" y2="821.3" stroke="#e32626" stroke-width="1.4" />
<line x1="596.1" y1="814.3" x2="602.1" y2="814.3" stroke="#e32626" stroke-width="1.4" />
<line x1="596.1" y1="821.3" x2="602.1" y2="821.3" stroke="#e32626" stroke-width="1.4" />
<path d="M599.1,821.8 L603.1,815.0 L595.1,815.0Z" fill="#e32626"/>
<line x1="636.1" y1="805.8" x2="636.1" y2="812.8" stroke="#e32626" stroke-width="1.4" />
<line x1="633.1" y1="805.8" x2="639.1" y2="805.8" stroke="#e32626" stroke-width="1.4" />
<line x1="633.1" y1="812.8" x2="639.1" y2="812.8" stroke="#e32626" stroke-width="1.4" />
<path d="M636.1,813.3 L640.1,806.5 L632.1,806.5Z" fill="#e32626"/>
<line x1="673.1" y1="795.8" x2="673.1" y2="802.8" stroke="#e32626" stroke-width="1.4" />
<line x1="670.1" y1="795.8" x2="676.1" y2="795.8" stroke="#e32626" stroke-width="1.4" />
<line x1="670.1" y1="802.8" x2="676.1" y2="802.8" stroke="#e32626" stroke-width="1.4" />
<path d="M673.1,803.3 L677.1,796.5 L669.1,796.5Z" fill="#e32626"/>
<line x1="710.0" y1="788.3" x2="710.0" y2="795.3" stroke="#e32626" stroke-width="1.4" />
<line x1="707.0" y1="788.3" x2="713.0" y2="788.3" stroke="#e32626" stroke-width="1.4" />
<line x1="707.0" y1="795.3" x2="713.0" y2="795.3" stroke="#e32626" stroke-width="1.4" />
<path d="M710.0,795.8 L714.0,789.0 L706.0,789.0Z" fill="#e32626"/>
<polyline points="562.0,827.8 599.1,817.3 636.1,806.8 673.1,797.3 710.0,790.3" fill="none" stroke="#1d8a2c" stroke-width="1.6"/>
<line x1="562.0" y1="824.3" x2="562.0" y2="831.3" stroke="#1d8a2c" stroke-width="1.4" />
<line x1="559.0" y1="824.3" x2="565.0" y2="824.3" stroke="#1d8a2c" stroke-width="1.4" />
<line x1="559.0" y1="831.3" x2="565.0" y2="831.3" stroke="#1d8a2c" stroke-width="1.4" />
<path d="M562.0,823.8 L566.0,830.6 L558.0,830.6Z" fill="#1d8a2c"/>
<line x1="599.1" y1="813.8" x2="599.1" y2="820.8" stroke="#1d8a2c" stroke-width="1.4" />
<line x1="596.1" y1="813.8" x2="602.1" y2="813.8" stroke="#1d8a2c" stroke-width="1.4" />
<line x1="596.1" y1="820.8" x2="602.1" y2="820.8" stroke="#1d8a2c" stroke-width="1.4" />
<path d="M599.1,813.3 L603.1,820.1 L595.1,820.1Z" fill="#1d8a2c"/>
<line x1="636.1" y1="803.3" x2="636.1" y2="810.3" stroke="#1d8a2c" stroke-width="1.4" />
<line x1="633.1" y1="803.3" x2="639.1" y2="803.3" stroke="#1d8a2c" stroke-width="1.4" />
<line x1="633.1" y1="810.3" x2="639.1" y2="810.3" stroke="#1d8a2c" stroke-width="1.4" />
<path d="M636.1,802.8 L640.1,809.6 L632.1,809.6Z" fill="#1d8a2c"/>
<line x1="673.1" y1="793.8" x2="673.1" y2="800.8" stroke="#1d8a2c" stroke-width="1.4" />
<line x1="670.1" y1="793.8" x2="676.1" y2="793.8" stroke="#1d8a2c" stroke-width="1.4" />
<line x1="670.1" y1="800.8" x2="676.1" y2="800.8" stroke="#1d8a2c" stroke-width="1.4" />
<path d="M673.1,793.3 L677.1,800.1 L669.1,800.1Z" fill="#1d8a2c"/>
<line x1="710.0" y1="786.8" x2="710.0" y2="793.8" stroke="#1d8a2c" stroke-width="1.4" />
<line x1="707.0" y1="786.8" x2="713.0" y2="786.8" stroke="#1d8a2c" stroke-width="1.4" />
<line x1="707.0" y1="793.8" x2="713.0" y2="793.8" stroke="#1d8a2c" stroke-width="1.4" />
<path d="M710.0,786.3 L714.0,793.1 L706.0,793.1Z" fill="#1d8a2c"/>
<polyline points="562.0,824.3 599.1,817.3 636.1,808.8 673.1,793.3 710.0,787.8" fill="none" stroke="#a31616" stroke-width="1.6"/>
<line x1="562.0" y1="820.8" x2="562.0" y2="827.8" stroke="#a31616" stroke-width="1.4" />
<line x1="559.0" y1="820.8" x2="565.0" y2="820.8" stroke="#a31616" stroke-width="1.4" />
<line x1="559.0" y1="827.8" x2="565.0" y2="827.8" stroke="#a31616" stroke-width="1.4" />
<circle cx="562.0" cy="824.3" r="4.2" fill="#a31616"/>
<line x1="599.1" y1="813.8" x2="599.1" y2="820.8" stroke="#a31616" stroke-width="1.4" />
<line x1="596.1" y1="813.8" x2="602.1" y2="813.8" stroke="#a31616" stroke-width="1.4" />
<line x1="596.1" y1="820.8" x2="602.1" y2="820.8" stroke="#a31616" stroke-width="1.4" />
<circle cx="599.1" cy="817.3" r="4.2" fill="#a31616"/>
<line x1="636.1" y1="805.3" x2="636.1" y2="812.3" stroke="#a31616" stroke-width="1.4" />
<line x1="633.1" y1="805.3" x2="639.1" y2="805.3" stroke="#a31616" stroke-width="1.4" />
<line x1="633.1" y1="812.3" x2="639.1" y2="812.3" stroke="#a31616" stroke-width="1.4" />
<circle cx="636.1" cy="808.8" r="4.2" fill="#a31616"/>
<line x1="673.1" y1="789.8" x2="673.1" y2="796.8" stroke="#a31616" stroke-width="1.4" />
<line x1="670.1" y1="789.8" x2="676.1" y2="789.8" stroke="#a31616" stroke-width="1.4" />
<line x1="670.1" y1="796.8" x2="676.1" y2="796.8" stroke="#a31616" stroke-width="1.4" />
<circle cx="673.1" cy="793.3" r="4.2" fill="#a31616"/>
<line x1="710.0" y1="784.3" x2="710.0" y2="791.3" stroke="#a31616" stroke-width="1.4" />
<line x1="707.0" y1="784.3" x2="713.0" y2="784.3" stroke="#a31616" stroke-width="1.4" />
<line x1="707.0" y1="791.3" x2="713.0" y2="791.3" stroke="#a31616" stroke-width="1.4" />
<circle cx="710.0" cy="787.8" r="4.2" fill="#a31616"/>
<polyline points="562.0,820.8 599.1,812.8 636.1,796.8 673.1,786.3 710.0,775.3" fill="none" stroke="#1616e4" stroke-width="1.6"/>
<line x1="562.0" y1="817.3" x2="562.0" y2="824.3" stroke="#1616e4" stroke-width="1.4" />
<line x1="559.0" y1="817.3" x2="565.0" y2="817.3" stroke="#1616e4" stroke-width="1.4" />
<line x1="559.0" y1="824.3" x2="565.0" y2="824.3" stroke="#1616e4" stroke-width="1.4" />
<circle cx="562.0" cy="820.8" r="3.6" fill="#1616e4"/>
<line x1="599.1" y1="809.3" x2="599.1" y2="816.3" stroke="#1616e4" stroke-width="1.4" />
<line x1="596.1" y1="809.3" x2="602.1" y2="809.3" stroke="#1616e4" stroke-width="1.4" />
<line x1="596.1" y1="816.3" x2="602.1" y2="816.3" stroke="#1616e4" stroke-width="1.4" />
<circle cx="599.1" cy="812.8" r="3.6" fill="#1616e4"/>
<line x1="636.1" y1="793.3" x2="636.1" y2="800.3" stroke="#1616e4" stroke-width="1.4" />
<line x1="633.1" y1="793.3" x2="639.1" y2="793.3" stroke="#1616e4" stroke-width="1.4" />
<line x1="633.1" y1="800.3" x2="639.1" y2="800.3" stroke="#1616e4" stroke-width="1.4" />
<circle cx="636.1" cy="796.8" r="3.6" fill="#1616e4"/>
<line x1="673.1" y1="782.8" x2="673.1" y2="789.8" stroke="#1616e4" stroke-width="1.4" />
<line x1="670.1" y1="782.8" x2="676.1" y2="782.8" stroke="#1616e4" stroke-width="1.4" />
<line x1="670.1" y1="789.8" x2="676.1" y2="789.8" stroke="#1616e4" stroke-width="1.4" />
<circle cx="673.1" cy="786.3" r="3.6" fill="#1616e4"/>
<line x1="710.0" y1="771.8" x2="710.0" y2="778.8" stroke="#1616e4" stroke-width="1.4" />
<line x1="707.0" y1="771.8" x2="713.0" y2="771.8" stroke="#1616e4" stroke-width="1.4" />
<line x1="707.0" y1="778.8" x2="713.0" y2="778.8" stroke="#1616e4" stroke-width="1.4" />
<circle cx="710.0" cy="775.3" r="3.6" fill="#1616e4"/>
<line x1="543.6" y1="688.6" x2="557.3" y2="688.6" stroke="#1616e4" stroke-width="1.6" />
<circle cx="550.5" cy="688.6" r="3.1" fill="#1616e4"/>
<text x="566.1" y="693.1" font-size="12.6" font-weight="bold" text-anchor="start" fill="#000" >Control</text>
<line x1="543.6" y1="706.9" x2="557.3" y2="706.9" stroke="#a31616" stroke-width="1.6" />
<circle cx="550.5" cy="706.9" r="3.6" fill="#a31616"/>
<text x="566.1" y="711.4" font-size="12.6" font-weight="bold" text-anchor="start" fill="#000" >M2-CM</text>
<line x1="543.6" y1="724.1" x2="557.3" y2="724.1" stroke="#1d8a2c" stroke-width="1.6" />
<path d="M550.5,720.7 L553.9,726.5 L547.1,726.5Z" fill="#1d8a2c"/>
<text x="566.1" y="728.6" font-size="12.6" font-weight="bold" text-anchor="start" fill="#000" >M2-exo</text>
<line x1="543.6" y1="740.8" x2="557.3" y2="740.8" stroke="#e32626" stroke-width="1.6" />
<path d="M550.5,744.2 L553.9,738.4 L547.1,738.4Z" fill="#e32626"/>
<text x="566.1" y="745.3" font-size="12.6" font-weight="bold" text-anchor="start" fill="#000" >M2-CM depleted</text>
<line x1="543.6" y1="761.0" x2="557.3" y2="761.0" stroke="#a628de" stroke-width="1.6" />
<path d="M550.5,758.3 L553.2,761.0 L550.5,763.7 L547.7,761.0Z" fill="#a628de"/>
<text x="566.1" y="765.5" font-size="12.6" font-weight="bold" text-anchor="start" fill="#000" >M2-CM GW4869</text>
</svg></body></html>
